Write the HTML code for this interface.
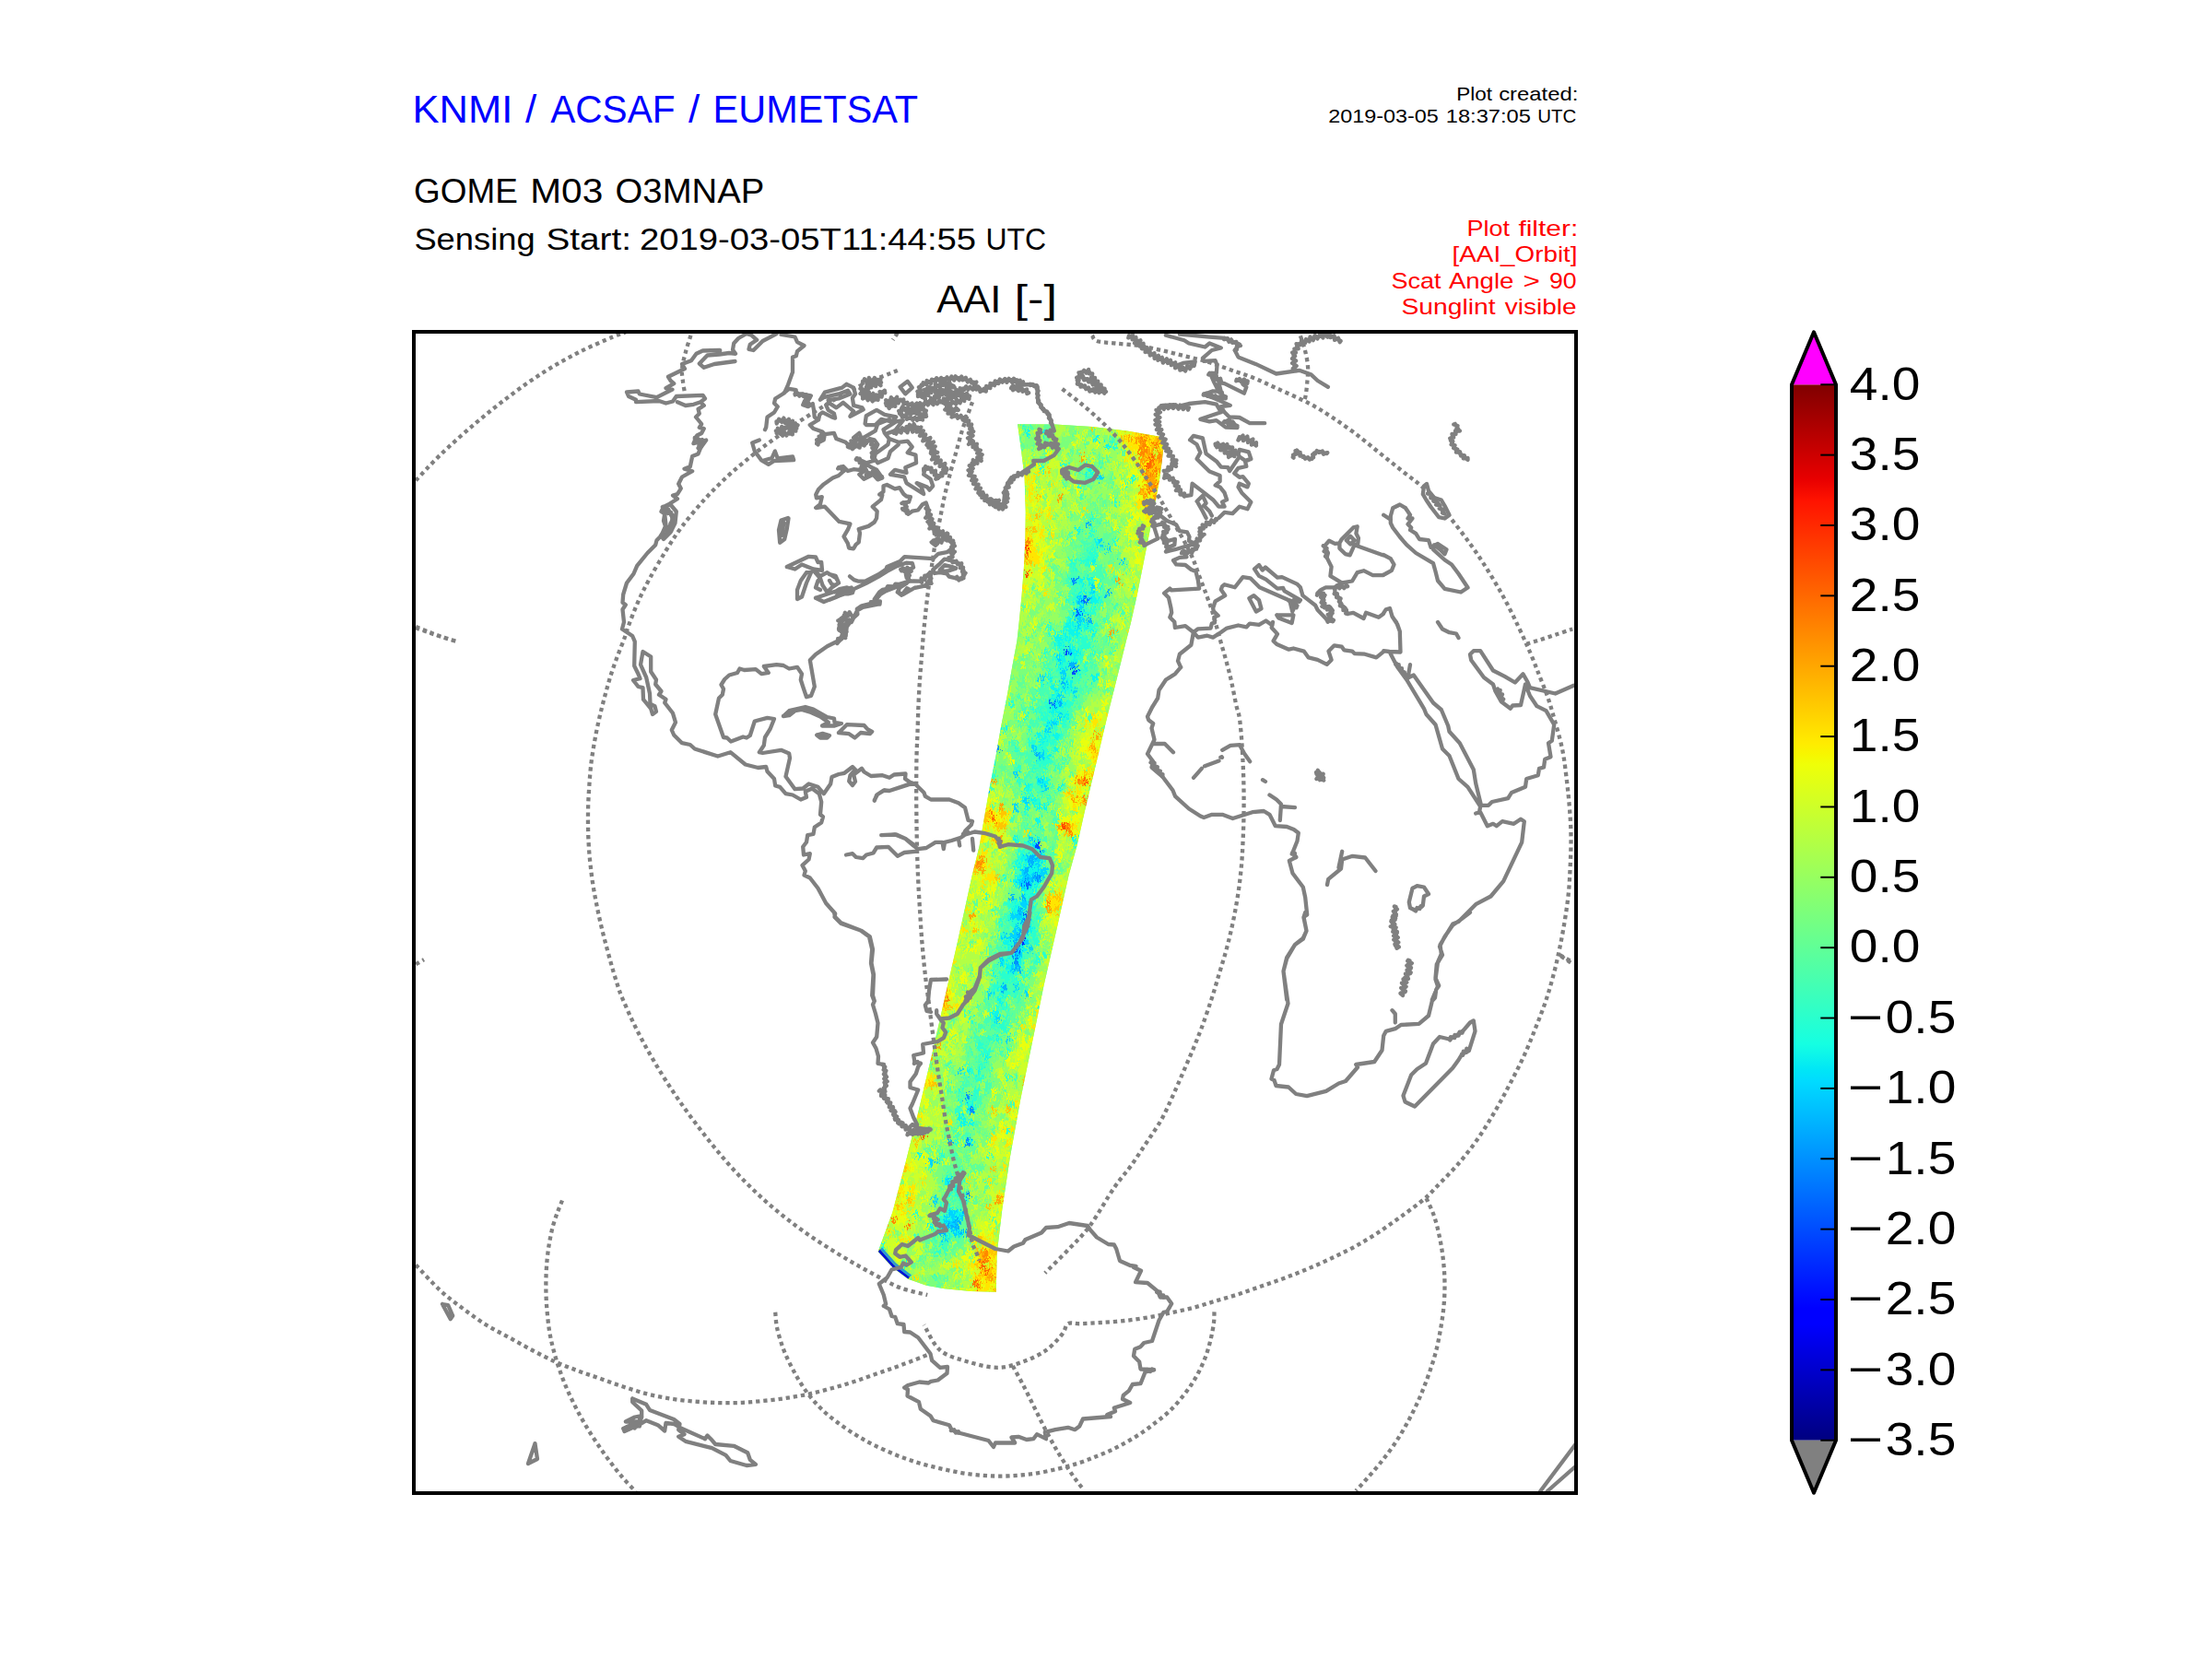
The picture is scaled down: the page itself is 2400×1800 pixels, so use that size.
<!DOCTYPE html>
<html lang="en"><head><meta charset="utf-8"><title>GOME M03 O3MNAP AAI</title>
<style>html,body{margin:0;padding:0;background:#fff;}body{width:2400px;height:1800px;overflow:hidden;}svg{display:block;font-family:"Liberation Sans", sans-serif;}</style></head><body>
<svg width="2400" height="1800" viewBox="0 0 2400 1800">
<rect width="2400" height="1800" fill="#fff"/>
<defs><linearGradient id="jet" x1="0" y1="0" x2="0" y2="1"><stop offset="0.0000" stop-color="#800000"/><stop offset="0.0900" stop-color="#e80000"/><stop offset="0.1100" stop-color="#ff1300"/><stop offset="0.3400" stop-color="#ffec00"/><stop offset="0.3500" stop-color="#f7f600"/><stop offset="0.3600" stop-color="#efff08"/><stop offset="0.6250" stop-color="#15ffe2"/><stop offset="0.6500" stop-color="#00e5f7"/><stop offset="0.6600" stop-color="#00dbff"/><stop offset="0.8750" stop-color="#0000ff"/><stop offset="0.8900" stop-color="#0000ff"/><stop offset="1.0000" stop-color="#000080"/></linearGradient>
<clipPath id="mapclip"><rect x="449" y="360" width="1261" height="1260"/></clipPath>
<clipPath id="swclip"><path d="M1104.1 460.2L1145.0 460.6L1185.0 463.0L1222.5 467.5L1260.0 474.1L1262.6 484.6L1260.8 499.7L1258.5 517.8L1255.5 534.4L1251.7 555.5L1245.7 585.6L1239.7 615.7L1233.7 645.8L1226.9 676.0L1222.0 695.0L1217.2 714.4L1209.1 747.0L1200.9 779.5L1192.8 813.7L1184.6 847.9L1176.5 882.1L1168.4 917.9L1159.5 950.0L1146.8 1006.7L1132.6 1069.0L1119.9 1131.3L1107.1 1193.6L1095.8 1255.9L1087.3 1312.6L1081.6 1360.8L1080.8 1401.8L1053.3 1401.0L1025.0 1398.2L1005.2 1394.8L985.3 1387.7L968.3 1374.9L952.7 1357.9L968.3 1315.4L982.5 1261.6L996.7 1205.0L1010.8 1145.5L1025.0 1083.1L1039.2 1020.8L1054.7 950.0L1062.6 917.9L1068.3 885.3L1074.0 852.8L1080.5 820.2L1086.2 787.7L1092.7 755.1L1098.4 722.6L1103.5 695.0L1105.6 676.0L1108.6 645.8L1110.9 615.7L1112.4 585.6L1112.8 555.5L1111.6 517.8L1107.9 487.7L1104.1 460.2Z"/></clipPath><filter id="grain" x="900" y="430" width="420" height="1010" filterUnits="userSpaceOnUse" color-interpolation-filters="sRGB"><feTurbulence type="fractalNoise" baseFrequency="0.5 0.24" numOctaves="2" seed="7" result="n"/><feDisplacementMap in="SourceGraphic" in2="n" scale="15" xChannelSelector="R" yChannelSelector="G"/></filter>
</defs>
<g clip-path="url(#mapclip)">
<path d="M1104.1 460.2L1145.0 460.6L1185.0 463.0L1222.5 467.5L1260.0 474.1L1262.6 484.6L1260.8 499.7L1258.5 517.8L1255.5 534.4L1251.7 555.5L1245.7 585.6L1239.7 615.7L1233.7 645.8L1226.9 676.0L1222.0 695.0L1217.2 714.4L1209.1 747.0L1200.9 779.5L1192.8 813.7L1184.6 847.9L1176.5 882.1L1168.4 917.9L1159.5 950.0L1146.8 1006.7L1132.6 1069.0L1119.9 1131.3L1107.1 1193.6L1095.8 1255.9L1087.3 1312.6L1081.6 1360.8L1080.8 1401.8L1053.3 1401.0L1025.0 1398.2L1005.2 1394.8L985.3 1387.7L968.3 1374.9L952.7 1357.9L968.3 1315.4L982.5 1261.6L996.7 1205.0L1010.8 1145.5L1025.0 1083.1L1039.2 1020.8L1054.7 950.0L1062.6 917.9L1068.3 885.3L1074.0 852.8L1080.5 820.2L1086.2 787.7L1092.7 755.1L1098.4 722.6L1103.5 695.0L1105.6 676.0L1108.6 645.8L1110.9 615.7L1112.4 585.6L1112.8 555.5L1111.6 517.8L1107.9 487.7L1104.1 460.2Z" fill="#8aff6c"/>
<g clip-path="url(#swclip)"><g filter="url(#grain)" shape-rendering="crispEdges">
<path fill="#002aff" d="M1108 1019h4v7h-4z"/>
<path fill="#004dff" d="M1156 704h4v7h-4zM1164 725h4v7h-4zM1124 914h4v7h-4zM1100 1026h4v7h-4z"/>
<path fill="#006eff" d="M1176 648h4v7h-4zM1168 662h4v7h-4zM1140 760h4v7h-4zM1112 956h4v7h-4zM1112 991h4v7h-4z"/>
<path fill="#0090ff" d="M1164 627h4v7h-4zM1080 809h4v7h-4zM1124 949h4v7h-4zM1100 1033h4v7h-4zM1100 1040h4v7h-4zM1048 1187h4v7h-4zM1052 1201h4v7h-4zM1048 1236h4v7h-4zM1048 1292h4v7h-4z"/>
<path fill="#00b2ff" d="M1180 564h4v7h-4zM1200 641h4v7h-4zM1172 648h4v7h-4zM1180 669h4v7h-4zM1160 718h8v7h-8zM1152 739h4v7h-4zM1148 760h4v7h-4zM1124 816h4v7h-4zM1068 851h4v7h-4zM1128 921h4v7h-4zM1116 928h8v7h-8zM1116 935h4v7h-4zM1112 942h4v7h-4zM1112 949h4v7h-4zM1120 949h4v7h-4zM1096 970h4v7h-4zM1108 970h4v7h-4zM1104 984h4v7h-4zM1108 998h8v7h-8zM1108 1005h8v7h-8zM1104 1012h4v7h-4zM1100 1019h4v7h-4zM1104 1026h4v7h-4zM1100 1047h8v7h-8zM1088 1068h4v7h-4zM1028 1236h4v7h-4zM1044 1313h4v7h-4zM1036 1320h4v7h-4zM1028 1327h4v7h-4zM1036 1327h4v7h-4zM1020 1334h4v7h-4zM1044 1334h4v7h-4z"/>
<path fill="#00d4ff" d="M1192 515h4v7h-4zM1192 585h4v7h-4zM1200 592h4v7h-4zM1216 606h4v7h-4zM1184 634h4v7h-4zM1168 648h4v7h-4zM1180 648h4v7h-4zM1172 655h4v7h-4zM1164 662h4v7h-4zM1168 669h8v7h-8zM1168 676h4v7h-4zM1160 704h4v7h-4zM1148 711h4v7h-4zM1152 725h4v7h-4zM1128 732h4v7h-4zM1152 732h4v7h-4zM1080 746h4v7h-4zM1164 746h4v7h-4zM1148 753h4v7h-4zM1148 774h4v7h-4zM1140 781h4v7h-4zM1136 788h4v7h-4zM1120 809h4v7h-4zM1128 816h4v7h-4zM1100 837h4v7h-4zM1128 844h4v7h-4zM1132 851h4v7h-4zM1112 865h4v7h-4zM1100 872h4v7h-4zM1116 907h4v7h-4zM1120 914h4v7h-4zM1112 928h4v7h-4zM1124 928h4v7h-4zM1124 935h4v7h-4zM1108 942h4v7h-4zM1128 942h8v7h-8zM1108 949h4v7h-4zM1116 949h4v7h-4zM1128 949h4v7h-4zM1104 956h8v7h-8zM1116 956h4v7h-4zM1108 977h8v7h-8zM1108 984h4v7h-4zM1096 991h12v7h-12zM1100 1005h4v7h-4zM1088 1012h4v7h-4zM1096 1012h8v7h-8zM1108 1012h4v7h-4zM1112 1019h4v7h-4zM1116 1026h4v7h-4zM1104 1033h4v7h-4zM1084 1040h4v7h-4zM1096 1047h4v7h-4zM1100 1068h4v7h-4zM1072 1075h4v7h-4zM1112 1075h4v7h-4zM1080 1103h4v7h-4zM1092 1124h4v7h-4zM1040 1159h4v7h-4zM1008 1257h4v7h-4zM1016 1257h4v7h-4zM1028 1278h4v7h-4zM1012 1299h4v7h-4zM1028 1313h8v7h-8zM1024 1320h4v7h-4zM1032 1320h4v7h-4zM1040 1320h4v7h-4zM1032 1327h4v7h-4zM1036 1334h4v7h-4zM1024 1341h4v7h-4z"/>
<path fill="#0ef6e9" d="M1136 445h4v7h-4zM1092 452h4v7h-4zM1112 466h4v7h-4zM1132 466h4v7h-4zM1188 473h4v7h-4zM1200 480h4v7h-4zM1180 508h4v7h-4zM1168 571h4v7h-4zM1188 585h4v7h-4zM1184 606h4v7h-4zM1172 627h4v7h-4zM1180 627h4v7h-4zM1172 641h4v7h-4zM1184 641h4v7h-4zM1184 648h8v7h-8zM1172 662h4v7h-4zM1160 669h4v7h-4zM1156 676h8v7h-8zM1176 676h4v7h-4zM1152 683h4v7h-4zM1160 683h12v7h-12zM1184 683h4v7h-4zM1144 690h8v7h-8zM1156 690h4v7h-4zM1148 697h4v7h-4zM1160 697h4v7h-4zM1088 704h4v7h-4zM1164 704h8v7h-8zM1152 711h4v7h-4zM1164 711h4v7h-4zM1148 718h4v7h-4zM1168 725h4v7h-4zM1136 732h4v7h-4zM1184 732h8v7h-8zM1140 739h4v7h-4zM1156 739h8v7h-8zM1144 746h4v7h-4zM1152 746h4v7h-4zM1140 753h4v7h-4zM1144 760h4v7h-4zM1152 760h4v7h-4zM1140 767h8v7h-8zM1156 774h4v7h-4zM1136 781h4v7h-4zM1144 781h4v7h-4zM1088 788h4v7h-4zM1124 795h4v7h-4zM1132 795h4v7h-4zM1144 795h4v7h-4zM1128 802h4v7h-4zM1144 809h4v7h-4zM1136 816h4v7h-4zM1076 823h4v7h-4zM1124 844h4v7h-4zM1132 844h4v7h-4zM1112 851h4v7h-4zM1148 851h4v7h-4zM1108 865h4v7h-4zM1120 865h4v7h-4zM1112 872h4v7h-4zM1124 872h4v7h-4zM1132 872h4v7h-4zM1124 886h4v7h-4zM1100 907h4v7h-4zM1124 907h4v7h-4zM1164 907h4v7h-4zM1120 921h4v7h-4zM1108 928h4v7h-4zM1128 928h8v7h-8zM1104 935h4v7h-4zM1112 935h4v7h-4zM1120 935h4v7h-4zM1048 942h4v7h-4zM1116 942h12v7h-12zM1100 949h8v7h-8zM1100 956h4v7h-4zM1124 956h4v7h-4zM1108 963h8v7h-8zM1120 963h4v7h-4zM1100 977h4v7h-4zM1116 977h4v7h-4zM1100 984h4v7h-4zM1108 991h4v7h-4zM1116 1005h4v7h-4zM1088 1019h8v7h-8zM1096 1026h4v7h-4zM1108 1026h4v7h-4zM1096 1033h4v7h-4zM1088 1040h4v7h-4zM1104 1040h4v7h-4zM1092 1047h4v7h-4zM1076 1054h4v7h-4zM1084 1068h4v7h-4zM1084 1082h4v7h-4zM1128 1089h4v7h-4zM1076 1096h8v7h-8zM1080 1124h4v7h-4zM1068 1145h4v7h-4zM1048 1159h4v7h-4zM1060 1159h4v7h-4zM1052 1194h4v7h-4zM1048 1201h4v7h-4zM1040 1208h4v7h-4zM1044 1215h4v7h-4zM1052 1215h4v7h-4zM1052 1236h4v7h-4zM996 1250h4v7h-4zM1024 1278h4v7h-4zM1036 1285h4v7h-4zM1036 1313h8v7h-8zM1028 1320h4v7h-4zM1008 1327h4v7h-4zM1024 1327h4v7h-4zM1024 1334h4v7h-4zM1040 1334h4v7h-4zM980 1369h4v7h-4zM988 1397h4v7h-4z"/>
<path fill="#29ffce" d="M1208 480h4v7h-4zM1128 501h4v7h-4zM1152 501h4v7h-4zM1176 501h4v7h-4zM1184 515h4v7h-4zM1228 515h4v7h-4zM1168 522h4v7h-4zM1220 522h4v7h-4zM1208 543h4v7h-4zM1184 557h4v7h-4zM1184 571h4v7h-4zM1180 578h4v7h-4zM1208 585h4v7h-4zM1184 592h4v7h-4zM1180 599h12v7h-12zM1160 606h8v7h-8zM1172 606h12v7h-12zM1164 613h4v7h-4zM1160 627h4v7h-4zM1168 627h4v7h-4zM1184 627h4v7h-4zM1172 634h4v7h-4zM1192 634h4v7h-4zM1164 641h4v7h-4zM1156 648h4v7h-4zM1164 648h4v7h-4zM1192 648h4v7h-4zM1168 655h4v7h-4zM1184 655h4v7h-4zM1180 662h8v7h-8zM1156 669h4v7h-4zM1136 676h4v7h-4zM1164 676h4v7h-4zM1172 676h4v7h-4zM1180 676h12v7h-12zM1136 683h4v7h-4zM1144 683h4v7h-4zM1152 690h4v7h-4zM1160 690h4v7h-4zM1168 690h12v7h-12zM1184 690h4v7h-4zM1144 697h4v7h-4zM1152 697h4v7h-4zM1172 697h12v7h-12zM1132 704h4v7h-4zM1148 704h8v7h-8zM1184 704h4v7h-4zM1144 711h4v7h-4zM1160 711h4v7h-4zM1168 711h8v7h-8zM1152 718h8v7h-8zM1176 718h4v7h-4zM1136 725h4v7h-4zM1148 725h4v7h-4zM1176 725h4v7h-4zM1156 732h4v7h-4zM1168 732h4v7h-4zM1128 739h4v7h-4zM1148 739h4v7h-4zM1156 746h8v7h-8zM1144 753h4v7h-4zM1164 753h4v7h-4zM1096 760h4v7h-4zM1132 760h8v7h-8zM1156 760h8v7h-8zM1120 767h4v7h-4zM1128 767h4v7h-4zM1136 767h4v7h-4zM1148 767h8v7h-8zM1112 774h4v7h-4zM1128 774h8v7h-8zM1140 774h4v7h-4zM1152 774h4v7h-4zM1132 781h4v7h-4zM1152 781h4v7h-4zM1116 788h4v7h-4zM1132 788h4v7h-4zM1144 788h4v7h-4zM1136 795h4v7h-4zM1148 795h4v7h-4zM1116 802h8v7h-8zM1132 802h12v7h-12zM1100 809h4v7h-4zM1124 809h12v7h-12zM1132 816h4v7h-4zM1124 823h16v7h-16zM1104 830h4v7h-4zM1120 830h4v7h-4zM1132 830h4v7h-4zM1144 830h4v7h-4zM1076 837h4v7h-4zM1104 844h4v7h-4zM1136 844h4v7h-4zM1116 851h4v7h-4zM1128 851h4v7h-4zM1116 858h4v7h-4zM1124 865h4v7h-4zM1136 865h4v7h-4zM1112 879h4v7h-4zM1128 893h4v7h-4zM1112 914h8v7h-8zM1104 921h8v7h-8zM1116 921h4v7h-4zM1104 928h4v7h-4zM1100 935h4v7h-4zM1128 935h4v7h-4zM1088 949h4v7h-4zM1120 956h4v7h-4zM1116 963h4v7h-4zM1112 970h12v7h-12zM1092 977h8v7h-8zM1104 977h4v7h-4zM1120 977h4v7h-4zM1096 984h4v7h-4zM1116 984h4v7h-4zM1092 991h4v7h-4zM1124 991h4v7h-4zM1028 998h4v7h-4zM1084 998h4v7h-4zM1096 998h12v7h-12zM1116 998h4v7h-4zM1104 1005h4v7h-4zM1120 1005h4v7h-4zM1084 1012h4v7h-4zM1112 1012h4v7h-4zM1120 1012h4v7h-4zM1096 1019h4v7h-4zM1104 1019h4v7h-4zM1120 1019h8v7h-8zM1092 1026h4v7h-4zM1092 1033h4v7h-4zM1108 1033h4v7h-4zM1124 1033h4v7h-4zM1132 1033h4v7h-4zM1096 1040h4v7h-4zM1124 1040h4v7h-4zM1084 1054h20v7h-20zM1108 1054h8v7h-8zM1088 1061h8v7h-8zM1100 1061h8v7h-8zM1076 1068h8v7h-8zM1076 1075h4v7h-4zM1084 1075h12v7h-12zM1100 1075h4v7h-4zM1080 1089h4v7h-4zM1088 1089h4v7h-4zM1052 1103h4v7h-4zM1076 1103h4v7h-4zM1088 1103h4v7h-4zM1076 1110h4v7h-4zM1084 1110h8v7h-8zM1088 1117h4v7h-4zM1072 1124h4v7h-4zM1060 1131h8v7h-8zM1064 1138h12v7h-12zM1092 1138h4v7h-4zM1064 1152h4v7h-4zM1052 1159h4v7h-4zM1060 1166h8v7h-8zM1092 1166h4v7h-4zM1124 1166h4v7h-4zM1040 1180h4v7h-4zM1056 1180h8v7h-8zM1056 1187h4v7h-4zM1040 1194h4v7h-4zM1048 1194h4v7h-4zM1036 1201h4v7h-4zM1056 1201h4v7h-4zM1092 1222h4v7h-4zM1036 1236h4v7h-4zM1020 1250h4v7h-4zM1072 1250h4v7h-4zM1040 1278h4v7h-4zM1028 1292h4v7h-4zM1036 1292h4v7h-4zM1044 1299h4v7h-4zM1020 1306h4v7h-4zM1028 1306h4v7h-4zM992 1313h4v7h-4zM1016 1320h8v7h-8zM1016 1327h8v7h-8zM1032 1334h4v7h-4zM956 1348h4v7h-4zM1020 1348h4v7h-4zM1016 1355h4v7h-4zM1004 1404h4v7h-4z"/>
<path fill="#45ffb2" d="M1176 445h4v7h-4zM1268 445h4v7h-4zM1092 459h4v7h-4zM1108 459h4v7h-4zM1116 459h4v7h-4zM1204 473h4v7h-4zM1096 487h4v7h-4zM1156 501h4v7h-4zM1192 501h4v7h-4zM1128 508h4v7h-4zM1168 508h4v7h-4zM1176 515h8v7h-8zM1188 515h4v7h-4zM1152 522h4v7h-4zM1172 536h4v7h-4zM1192 564h4v7h-4zM1160 578h4v7h-4zM1172 585h8v7h-8zM1184 585h4v7h-4zM1176 592h8v7h-8zM1192 592h4v7h-4zM1176 599h4v7h-4zM1160 613h4v7h-4zM1188 613h8v7h-8zM1160 620h12v7h-12zM1176 620h4v7h-4zM1184 620h16v7h-16zM1156 627h4v7h-4zM1192 627h4v7h-4zM1208 627h4v7h-4zM1160 634h12v7h-12zM1176 634h8v7h-8zM1228 634h4v7h-4zM1160 641h4v7h-4zM1168 641h4v7h-4zM1180 641h4v7h-4zM1188 641h4v7h-4zM1196 641h4v7h-4zM1160 648h4v7h-4zM1176 655h4v7h-4zM1192 655h4v7h-4zM1208 655h4v7h-4zM1160 662h4v7h-4zM1176 662h4v7h-4zM1216 662h4v7h-4zM1196 669h4v7h-4zM1152 676h4v7h-4zM1156 683h4v7h-4zM1176 683h4v7h-4zM1112 690h4v7h-4zM1200 690h4v7h-4zM1140 697h4v7h-4zM1156 697h4v7h-4zM1168 697h4v7h-4zM1136 704h4v7h-4zM1172 704h4v7h-4zM1192 704h4v7h-4zM1204 704h4v7h-4zM1140 711h4v7h-4zM1156 711h4v7h-4zM1180 711h4v7h-4zM1132 718h8v7h-8zM1184 718h4v7h-4zM1144 725h4v7h-4zM1156 725h8v7h-8zM1172 725h4v7h-4zM1140 732h4v7h-4zM1148 732h4v7h-4zM1160 732h8v7h-8zM1080 739h4v7h-4zM1136 739h4v7h-4zM1164 739h4v7h-4zM1176 739h4v7h-4zM1124 746h16v7h-16zM1148 746h4v7h-4zM1168 746h8v7h-8zM1180 746h4v7h-4zM1080 753h4v7h-4zM1104 753h4v7h-4zM1120 753h4v7h-4zM1128 753h4v7h-4zM1136 753h4v7h-4zM1156 753h4v7h-4zM1088 760h4v7h-4zM1116 760h4v7h-4zM1128 760h4v7h-4zM1168 760h4v7h-4zM1108 767h4v7h-4zM1124 767h4v7h-4zM1132 767h4v7h-4zM1156 767h8v7h-8zM1136 774h4v7h-4zM1144 774h4v7h-4zM1160 774h4v7h-4zM1180 774h4v7h-4zM1104 781h4v7h-4zM1116 781h12v7h-12zM1156 781h4v7h-4zM1076 788h4v7h-4zM1140 788h4v7h-4zM1156 788h4v7h-4zM1128 795h4v7h-4zM1140 795h4v7h-4zM1152 795h4v7h-4zM1096 802h8v7h-8zM1144 802h4v7h-4zM1140 809h4v7h-4zM1104 816h4v7h-4zM1112 816h12v7h-12zM1112 823h8v7h-8zM1140 823h4v7h-4zM1152 823h4v7h-4zM1100 830h4v7h-4zM1116 830h4v7h-4zM1124 830h8v7h-8zM1148 830h4v7h-4zM1112 837h8v7h-8zM1124 837h8v7h-8zM1108 844h4v7h-4zM1072 851h4v7h-4zM1120 851h8v7h-8zM1140 851h4v7h-4zM1128 858h8v7h-8zM1140 879h4v7h-4zM1096 886h4v7h-4zM1144 886h4v7h-4zM1112 893h4v7h-4zM1120 893h4v7h-4zM1116 900h4v7h-4zM1104 907h4v7h-4zM1132 907h4v7h-4zM1164 914h4v7h-4zM1112 921h4v7h-4zM1124 921h4v7h-4zM1132 921h4v7h-4zM1140 921h4v7h-4zM1108 935h4v7h-4zM1100 942h8v7h-8zM1136 942h4v7h-4zM1136 949h4v7h-4zM1128 956h4v7h-4zM1068 970h4v7h-4zM1088 977h4v7h-4zM1076 984h4v7h-4zM1112 984h4v7h-4zM1120 984h4v7h-4zM1088 991h4v7h-4zM1120 991h4v7h-4zM1092 998h4v7h-4zM1120 998h8v7h-8zM1088 1005h8v7h-8zM1092 1012h4v7h-4zM1124 1012h4v7h-4zM1116 1019h4v7h-4zM1072 1026h4v7h-4zM1080 1026h12v7h-12zM1084 1033h8v7h-8zM1112 1033h8v7h-8zM1092 1040h4v7h-4zM1108 1040h4v7h-4zM1120 1040h4v7h-4zM1076 1047h8v7h-8zM1088 1047h4v7h-4zM1108 1047h4v7h-4zM1116 1047h8v7h-8zM1080 1061h8v7h-8zM1096 1061h4v7h-4zM1072 1068h4v7h-4zM1092 1068h8v7h-8zM1104 1068h12v7h-12zM1096 1075h4v7h-4zM1104 1075h4v7h-4zM1068 1082h4v7h-4zM1080 1082h4v7h-4zM1088 1082h4v7h-4zM1104 1082h4v7h-4zM1060 1089h4v7h-4zM1072 1089h4v7h-4zM1084 1089h4v7h-4zM1092 1089h4v7h-4zM1048 1096h4v7h-4zM1092 1096h4v7h-4zM1068 1103h8v7h-8zM1092 1103h4v7h-4zM1060 1110h8v7h-8zM1080 1110h4v7h-4zM1092 1110h4v7h-4zM1024 1117h4v7h-4zM1056 1117h4v7h-4zM1080 1117h4v7h-4zM1056 1124h16v7h-16zM1076 1124h4v7h-4zM1084 1124h4v7h-4zM1068 1131h4v7h-4zM1052 1138h4v7h-4zM1084 1138h4v7h-4zM1060 1145h4v7h-4zM1028 1152h4v7h-4zM1048 1152h4v7h-4zM1060 1152h4v7h-4zM1068 1152h4v7h-4zM1072 1159h4v7h-4zM1044 1166h4v7h-4zM1056 1166h4v7h-4zM1100 1166h4v7h-4zM1028 1173h4v7h-4zM1044 1173h8v7h-8zM1068 1173h8v7h-8zM1028 1180h4v7h-4zM1068 1180h4v7h-4zM1044 1187h4v7h-4zM1052 1187h4v7h-4zM1060 1187h4v7h-4zM1060 1194h4v7h-4zM1096 1194h4v7h-4zM1040 1201h4v7h-4zM1040 1215h4v7h-4zM1056 1215h4v7h-4zM1036 1222h4v7h-4zM1036 1229h4v7h-4zM1044 1229h8v7h-8zM1032 1250h8v7h-8zM1008 1264h4v7h-4zM1040 1264h4v7h-4zM1028 1271h4v7h-4zM1036 1271h4v7h-4zM1044 1271h4v7h-4zM1032 1285h4v7h-4zM1040 1292h8v7h-8zM1024 1299h4v7h-4zM1032 1299h4v7h-4zM1040 1299h4v7h-4zM1048 1299h4v7h-4zM1024 1306h4v7h-4zM1040 1306h4v7h-4zM1012 1313h4v7h-4zM1020 1313h8v7h-8zM1012 1334h8v7h-8zM1028 1334h4v7h-4zM992 1341h4v7h-4zM1012 1341h4v7h-4zM1028 1341h4v7h-4zM1036 1341h4v7h-4zM1052 1341h4v7h-4zM1024 1348h4v7h-4zM1012 1355h4v7h-4zM1024 1355h4v7h-4zM1012 1383h4v7h-4zM1020 1404h4v7h-4zM1024 1418h4v7h-4z"/>
<path fill="#60ff97" d="M1116 445h4v7h-4zM1140 445h4v7h-4zM1164 445h4v7h-4zM1132 452h4v7h-4zM1164 452h8v7h-8zM1132 459h8v7h-8zM1100 466h4v7h-4zM1136 466h4v7h-4zM1164 466h4v7h-4zM1184 466h4v7h-4zM1260 466h4v7h-4zM1104 473h4v7h-4zM1132 473h8v7h-8zM1108 480h4v7h-4zM1120 480h4v7h-4zM1176 480h4v7h-4zM1104 487h4v7h-4zM1132 487h4v7h-4zM1160 487h4v7h-4zM1168 487h4v7h-4zM1184 487h4v7h-4zM1216 487h4v7h-4zM1104 494h4v7h-4zM1128 494h8v7h-8zM1192 494h4v7h-4zM1200 494h4v7h-4zM1184 501h4v7h-4zM1104 508h4v7h-4zM1176 508h4v7h-4zM1188 508h4v7h-4zM1204 515h4v7h-4zM1172 522h12v7h-12zM1204 522h4v7h-4zM1172 529h4v7h-4zM1192 536h4v7h-4zM1208 536h4v7h-4zM1184 543h4v7h-4zM1196 543h4v7h-4zM1188 550h4v7h-4zM1160 557h4v7h-4zM1176 557h8v7h-8zM1192 557h4v7h-4zM1176 564h4v7h-4zM1188 564h4v7h-4zM1200 564h4v7h-4zM1172 571h4v7h-4zM1204 571h4v7h-4zM1212 571h4v7h-4zM1168 578h8v7h-8zM1184 578h8v7h-8zM1196 578h12v7h-12zM1160 585h8v7h-8zM1180 585h4v7h-4zM1196 585h4v7h-4zM1204 585h4v7h-4zM1164 592h4v7h-4zM1172 592h4v7h-4zM1188 592h4v7h-4zM1196 592h4v7h-4zM1168 599h8v7h-8zM1204 599h4v7h-4zM1212 599h4v7h-4zM1168 606h4v7h-4zM1188 606h4v7h-4zM1204 606h4v7h-4zM1140 613h8v7h-8zM1168 613h4v7h-4zM1176 613h8v7h-8zM1196 613h4v7h-4zM1220 613h4v7h-4zM1148 620h4v7h-4zM1156 620h4v7h-4zM1172 620h4v7h-4zM1180 620h4v7h-4zM1144 627h4v7h-4zM1152 627h4v7h-4zM1176 627h4v7h-4zM1196 627h12v7h-12zM1120 634h4v7h-4zM1196 634h4v7h-4zM1148 641h4v7h-4zM1176 641h4v7h-4zM1192 641h4v7h-4zM1196 648h8v7h-8zM1108 655h4v7h-4zM1152 655h8v7h-8zM1164 655h4v7h-4zM1180 655h4v7h-4zM1188 655h4v7h-4zM1188 662h4v7h-4zM1200 662h4v7h-4zM1096 669h4v7h-4zM1164 669h4v7h-4zM1176 669h4v7h-4zM1188 669h4v7h-4zM1200 669h4v7h-4zM1128 676h4v7h-4zM1140 676h4v7h-4zM1192 676h4v7h-4zM1120 683h4v7h-4zM1172 683h4v7h-4zM1188 683h4v7h-4zM1208 683h4v7h-4zM1092 690h4v7h-4zM1164 690h4v7h-4zM1180 690h4v7h-4zM1196 690h4v7h-4zM1096 697h4v7h-4zM1136 697h4v7h-4zM1164 697h4v7h-4zM1184 697h8v7h-8zM1196 697h4v7h-4zM1208 697h4v7h-4zM1116 704h4v7h-4zM1188 704h4v7h-4zM1108 711h4v7h-4zM1128 711h4v7h-4zM1136 711h4v7h-4zM1184 711h4v7h-4zM1192 711h4v7h-4zM1120 718h4v7h-4zM1140 718h8v7h-8zM1172 718h4v7h-4zM1180 718h4v7h-4zM1188 718h4v7h-4zM1140 725h4v7h-4zM1180 725h12v7h-12zM1196 725h4v7h-4zM1088 732h4v7h-4zM1096 732h4v7h-4zM1108 732h4v7h-4zM1124 732h4v7h-4zM1144 732h4v7h-4zM1172 732h12v7h-12zM1084 739h4v7h-4zM1104 739h8v7h-8zM1132 739h4v7h-4zM1168 739h8v7h-8zM1184 739h8v7h-8zM1116 746h8v7h-8zM1176 746h4v7h-4zM1196 746h8v7h-8zM1096 753h4v7h-4zM1132 753h4v7h-4zM1152 753h4v7h-4zM1160 753h4v7h-4zM1168 753h8v7h-8zM1208 753h4v7h-4zM1108 760h4v7h-4zM1124 760h4v7h-4zM1164 760h4v7h-4zM1172 760h4v7h-4zM1116 767h4v7h-4zM1164 767h4v7h-4zM1100 774h4v7h-4zM1124 774h4v7h-4zM1092 781h4v7h-4zM1108 781h4v7h-4zM1128 781h4v7h-4zM1160 781h8v7h-8zM1084 788h4v7h-4zM1124 788h4v7h-4zM1148 788h8v7h-8zM1080 795h4v7h-4zM1116 795h8v7h-8zM1156 795h4v7h-4zM1112 802h4v7h-4zM1124 802h4v7h-4zM1152 802h4v7h-4zM1160 802h4v7h-4zM1068 809h4v7h-4zM1092 809h8v7h-8zM1104 809h4v7h-4zM1112 809h8v7h-8zM1136 809h4v7h-4zM1148 809h4v7h-4zM1156 809h4v7h-4zM1072 816h4v7h-4zM1096 816h8v7h-8zM1108 816h4v7h-4zM1140 816h4v7h-4zM1156 816h4v7h-4zM1100 823h8v7h-8zM1120 823h4v7h-4zM1144 823h4v7h-4zM1156 823h4v7h-4zM1068 830h4v7h-4zM1084 830h8v7h-8zM1136 830h4v7h-4zM1072 837h4v7h-4zM1092 837h4v7h-4zM1120 837h4v7h-4zM1136 837h4v7h-4zM1160 837h4v7h-4zM1064 844h4v7h-4zM1092 844h4v7h-4zM1100 844h4v7h-4zM1112 844h12v7h-12zM1152 844h4v7h-4zM1060 851h4v7h-4zM1096 851h4v7h-4zM1104 851h4v7h-4zM1152 851h4v7h-4zM1192 851h4v7h-4zM1100 858h4v7h-4zM1108 858h8v7h-8zM1124 858h4v7h-4zM1136 858h4v7h-4zM1144 858h4v7h-4zM1116 865h4v7h-4zM1140 865h4v7h-4zM1076 872h4v7h-4zM1104 872h4v7h-4zM1120 872h4v7h-4zM1108 879h4v7h-4zM1128 879h4v7h-4zM1144 879h4v7h-4zM1108 886h4v7h-4zM1116 886h4v7h-4zM1060 893h4v7h-4zM1108 893h4v7h-4zM1140 893h4v7h-4zM1104 900h4v7h-4zM1124 900h8v7h-8zM1144 900h4v7h-4zM1108 907h8v7h-8zM1120 907h4v7h-4zM1128 907h4v7h-4zM1144 907h4v7h-4zM1104 914h8v7h-8zM1140 914h4v7h-4zM1136 921h4v7h-4zM1100 928h4v7h-4zM1140 928h4v7h-4zM1096 935h4v7h-4zM1136 935h4v7h-4zM1148 935h4v7h-4zM1040 942h4v7h-4zM1148 942h4v7h-4zM1164 942h4v7h-4zM1132 949h4v7h-4zM1096 963h8v7h-8zM1124 963h4v7h-4zM1100 970h8v7h-8zM1128 970h4v7h-4zM1056 977h4v7h-4zM1080 984h8v7h-8zM1092 984h4v7h-4zM1124 984h8v7h-8zM1084 991h4v7h-4zM1128 991h4v7h-4zM1080 998h4v7h-4zM1088 998h4v7h-4zM1084 1005h4v7h-4zM1096 1005h4v7h-4zM1124 1005h4v7h-4zM1076 1012h4v7h-4zM1116 1012h4v7h-4zM1052 1019h4v7h-4zM1080 1019h8v7h-8zM1112 1026h4v7h-4zM1120 1026h4v7h-4zM1072 1033h8v7h-8zM1120 1033h4v7h-4zM1080 1040h4v7h-4zM1084 1047h4v7h-4zM1052 1054h4v7h-4zM1068 1054h8v7h-8zM1080 1054h4v7h-4zM1116 1054h4v7h-4zM1144 1061h4v7h-4zM1068 1075h4v7h-4zM1080 1075h4v7h-4zM1072 1082h8v7h-8zM1096 1082h8v7h-8zM1108 1082h4v7h-4zM1068 1089h4v7h-4zM1100 1089h12v7h-12zM1012 1096h4v7h-4zM1064 1096h4v7h-4zM1096 1096h8v7h-8zM1032 1103h4v7h-4zM1096 1103h8v7h-8zM1008 1110h4v7h-4zM1052 1110h4v7h-4zM1068 1110h8v7h-8zM1104 1110h4v7h-4zM1068 1117h12v7h-12zM1100 1117h4v7h-4zM1132 1117h4v7h-4zM1048 1124h4v7h-4zM1096 1124h4v7h-4zM1048 1131h4v7h-4zM1072 1131h4v7h-4zM1080 1131h4v7h-4zM1092 1131h4v7h-4zM1048 1138h4v7h-4zM1060 1138h4v7h-4zM1076 1138h4v7h-4zM1048 1145h4v7h-4zM1056 1145h4v7h-4zM1064 1145h4v7h-4zM1088 1145h4v7h-4zM1000 1152h4v7h-4zM1008 1152h4v7h-4zM1052 1152h8v7h-8zM1072 1152h4v7h-4zM1032 1159h4v7h-4zM1064 1159h8v7h-8zM1048 1166h8v7h-8zM1052 1173h8v7h-8zM1036 1180h4v7h-4zM1044 1180h4v7h-4zM1072 1180h4v7h-4zM1088 1180h4v7h-4zM1036 1187h8v7h-8zM1064 1187h4v7h-4zM1056 1194h4v7h-4zM1028 1201h4v7h-4zM1064 1201h4v7h-4zM1044 1208h8v7h-8zM1048 1215h4v7h-4zM1060 1215h4v7h-4zM1032 1222h4v7h-4zM1048 1222h4v7h-4zM1060 1222h4v7h-4zM1076 1222h4v7h-4zM1024 1229h4v7h-4zM1052 1229h4v7h-4zM1068 1229h4v7h-4zM1044 1236h4v7h-4zM1004 1243h8v7h-8zM1016 1243h4v7h-4zM1032 1243h4v7h-4zM1040 1243h4v7h-4zM1052 1243h8v7h-8zM1028 1250h4v7h-4zM1044 1250h8v7h-8zM1020 1257h4v7h-4zM1036 1257h8v7h-8zM1048 1257h4v7h-4zM1024 1264h16v7h-16zM1052 1264h16v7h-16zM1024 1271h4v7h-4zM1032 1278h8v7h-8zM1068 1278h4v7h-4zM960 1285h4v7h-4zM1020 1285h4v7h-4zM1048 1285h4v7h-4zM1068 1285h4v7h-4zM1024 1292h4v7h-4zM1032 1292h4v7h-4zM1016 1299h4v7h-4zM1036 1299h4v7h-4zM1056 1299h4v7h-4zM1036 1306h4v7h-4zM1044 1306h4v7h-4zM1044 1320h4v7h-4zM1076 1320h4v7h-4zM1040 1327h12v7h-12zM1004 1341h8v7h-8zM1020 1341h4v7h-4zM1032 1341h4v7h-4zM1040 1341h8v7h-8zM984 1348h4v7h-4zM1004 1348h4v7h-4zM1012 1348h4v7h-4zM1028 1348h4v7h-4zM1036 1348h8v7h-8zM1004 1355h8v7h-8zM1032 1355h4v7h-4zM1044 1355h4v7h-4zM996 1362h8v7h-8zM1024 1362h4v7h-4zM1088 1362h4v7h-4zM988 1369h4v7h-4zM1016 1383h4v7h-4zM1024 1383h4v7h-4zM968 1390h8v7h-8zM1004 1390h4v7h-4zM1016 1390h4v7h-4zM960 1397h4v7h-4zM972 1397h4v7h-4zM1016 1397h8v7h-8zM1016 1411h4v7h-4zM1000 1418h8v7h-8zM1056 1418h4v7h-4z"/>
<path fill="#7bff7b" d="M1092 445h4v7h-4zM1100 445h4v7h-4zM1120 445h4v7h-4zM1168 445h8v7h-8zM1184 445h4v7h-4zM1096 452h8v7h-8zM1116 452h4v7h-4zM1128 452h4v7h-4zM1136 452h8v7h-8zM1156 452h8v7h-8zM1176 452h8v7h-8zM1192 452h4v7h-4zM1212 452h4v7h-4zM1112 459h4v7h-4zM1120 459h8v7h-8zM1160 459h8v7h-8zM1200 459h4v7h-4zM1216 459h4v7h-4zM1108 466h4v7h-4zM1140 466h4v7h-4zM1160 466h4v7h-4zM1180 466h4v7h-4zM1092 473h4v7h-4zM1112 473h12v7h-12zM1152 473h12v7h-12zM1176 473h4v7h-4zM1184 473h4v7h-4zM1196 473h8v7h-8zM1208 473h4v7h-4zM1096 480h4v7h-4zM1104 480h4v7h-4zM1112 480h8v7h-8zM1128 480h4v7h-4zM1136 480h4v7h-4zM1148 480h12v7h-12zM1148 487h4v7h-4zM1120 494h4v7h-4zM1160 494h4v7h-4zM1180 494h4v7h-4zM1120 501h4v7h-4zM1172 501h4v7h-4zM1188 501h4v7h-4zM1196 501h4v7h-4zM1212 501h4v7h-4zM1160 508h4v7h-4zM1172 508h4v7h-4zM1184 508h4v7h-4zM1204 508h4v7h-4zM1152 515h4v7h-4zM1168 515h8v7h-8zM1196 515h8v7h-8zM1216 515h4v7h-4zM1124 522h4v7h-4zM1136 522h4v7h-4zM1156 522h4v7h-4zM1184 522h4v7h-4zM1192 522h4v7h-4zM1200 522h4v7h-4zM1100 529h4v7h-4zM1108 529h4v7h-4zM1160 529h4v7h-4zM1188 529h4v7h-4zM1208 529h8v7h-8zM1132 536h4v7h-4zM1180 536h4v7h-4zM1200 536h4v7h-4zM1220 536h4v7h-4zM1152 543h4v7h-4zM1168 543h4v7h-4zM1180 543h4v7h-4zM1192 543h4v7h-4zM1200 543h4v7h-4zM1172 550h4v7h-4zM1180 550h8v7h-8zM1192 550h4v7h-4zM1200 550h4v7h-4zM1144 557h4v7h-4zM1164 557h8v7h-8zM1196 557h4v7h-4zM1208 557h4v7h-4zM1224 557h4v7h-4zM1172 564h4v7h-4zM1184 564h4v7h-4zM1216 564h4v7h-4zM1136 571h4v7h-4zM1176 571h8v7h-8zM1188 571h12v7h-12zM1136 578h4v7h-4zM1148 578h8v7h-8zM1176 578h4v7h-4zM1192 578h4v7h-4zM1208 578h4v7h-4zM1152 585h4v7h-4zM1168 585h4v7h-4zM1200 585h4v7h-4zM1224 585h4v7h-4zM1232 585h4v7h-4zM1152 592h12v7h-12zM1168 592h4v7h-4zM1204 592h4v7h-4zM1212 592h4v7h-4zM1144 599h4v7h-4zM1156 599h8v7h-8zM1196 599h8v7h-8zM1208 599h4v7h-4zM1136 606h8v7h-8zM1156 606h4v7h-4zM1192 606h12v7h-12zM1208 606h8v7h-8zM1220 606h4v7h-4zM1172 613h4v7h-4zM1208 613h8v7h-8zM1132 620h4v7h-4zM1144 620h4v7h-4zM1152 620h4v7h-4zM1204 620h8v7h-8zM1136 627h4v7h-4zM1144 634h8v7h-8zM1204 634h8v7h-8zM1096 641h4v7h-4zM1124 641h4v7h-4zM1152 641h4v7h-4zM1204 641h4v7h-4zM1128 648h4v7h-4zM1144 648h4v7h-4zM1204 648h4v7h-4zM1212 648h4v7h-4zM1220 648h4v7h-4zM1228 648h4v7h-4zM1124 655h4v7h-4zM1148 655h4v7h-4zM1200 655h8v7h-8zM1212 655h4v7h-4zM1116 662h8v7h-8zM1136 662h4v7h-4zM1148 662h12v7h-12zM1192 662h4v7h-4zM1204 662h4v7h-4zM1224 662h4v7h-4zM1240 662h4v7h-4zM1132 669h4v7h-4zM1152 669h4v7h-4zM1184 669h4v7h-4zM1192 669h4v7h-4zM1220 669h4v7h-4zM1092 676h4v7h-4zM1112 676h4v7h-4zM1124 676h4v7h-4zM1144 676h8v7h-8zM1204 676h8v7h-8zM1104 683h4v7h-4zM1132 683h4v7h-4zM1148 683h4v7h-4zM1180 683h4v7h-4zM1200 683h4v7h-4zM1088 690h4v7h-4zM1096 690h8v7h-8zM1132 690h12v7h-12zM1188 690h8v7h-8zM1212 690h4v7h-4zM1088 697h4v7h-4zM1120 697h8v7h-8zM1192 697h4v7h-4zM1200 697h8v7h-8zM1144 704h4v7h-4zM1176 704h8v7h-8zM1200 704h4v7h-4zM1084 711h4v7h-4zM1104 711h4v7h-4zM1112 711h8v7h-8zM1088 718h4v7h-4zM1096 718h12v7h-12zM1112 718h4v7h-4zM1128 718h4v7h-4zM1168 718h4v7h-4zM1212 718h4v7h-4zM1104 725h16v7h-16zM1128 725h8v7h-8zM1204 725h4v7h-4zM1092 732h4v7h-4zM1104 732h4v7h-4zM1116 732h8v7h-8zM1132 732h4v7h-4zM1196 732h4v7h-4zM1208 732h4v7h-4zM1092 739h4v7h-4zM1112 739h4v7h-4zM1144 739h4v7h-4zM1180 739h4v7h-4zM1196 739h4v7h-4zM1084 746h4v7h-4zM1104 746h8v7h-8zM1140 746h4v7h-4zM1184 746h8v7h-8zM1204 746h4v7h-4zM1216 746h4v7h-4zM1084 753h4v7h-4zM1100 753h4v7h-4zM1116 753h4v7h-4zM1176 753h4v7h-4zM1104 760h4v7h-4zM1084 767h4v7h-4zM1100 767h8v7h-8zM1168 767h4v7h-4zM1116 774h8v7h-8zM1172 774h4v7h-4zM1204 774h4v7h-4zM1076 781h4v7h-4zM1084 781h4v7h-4zM1096 781h8v7h-8zM1112 781h4v7h-4zM1148 781h4v7h-4zM1080 788h4v7h-4zM1092 788h4v7h-4zM1104 788h4v7h-4zM1112 788h4v7h-4zM1120 788h4v7h-4zM1128 788h4v7h-4zM1172 788h4v7h-4zM1196 788h4v7h-4zM1092 795h4v7h-4zM1108 795h8v7h-8zM1076 802h4v7h-4zM1088 802h4v7h-4zM1108 802h4v7h-4zM1080 816h8v7h-8zM1148 816h4v7h-4zM1064 823h4v7h-4zM1080 823h12v7h-12zM1108 823h4v7h-4zM1148 823h4v7h-4zM1076 830h8v7h-8zM1092 830h8v7h-8zM1108 830h4v7h-4zM1140 830h4v7h-4zM1152 830h4v7h-4zM1080 837h8v7h-8zM1096 837h4v7h-4zM1104 837h4v7h-4zM1132 837h4v7h-4zM1144 837h4v7h-4zM1080 844h4v7h-4zM1088 844h4v7h-4zM1140 844h8v7h-8zM1088 851h4v7h-4zM1100 851h4v7h-4zM1136 851h4v7h-4zM1060 858h4v7h-4zM1104 858h4v7h-4zM1120 858h4v7h-4zM1140 858h4v7h-4zM1148 858h4v7h-4zM1088 865h4v7h-4zM1100 865h4v7h-4zM1128 865h8v7h-8zM1108 872h4v7h-4zM1128 872h4v7h-4zM1136 872h4v7h-4zM1144 872h4v7h-4zM1100 879h4v7h-4zM1116 879h8v7h-8zM1132 879h8v7h-8zM1164 879h4v7h-4zM1180 879h4v7h-4zM1100 886h4v7h-4zM1112 886h4v7h-4zM1128 886h4v7h-4zM1136 886h8v7h-8zM1104 893h4v7h-4zM1116 893h4v7h-4zM1124 893h4v7h-4zM1136 893h4v7h-4zM1096 900h8v7h-8zM1108 900h4v7h-4zM1120 900h4v7h-4zM1140 900h4v7h-4zM1136 907h8v7h-8zM1068 914h4v7h-4zM1136 914h4v7h-4zM1144 914h4v7h-4zM1076 921h4v7h-4zM1092 921h4v7h-4zM1100 921h4v7h-4zM1160 921h4v7h-4zM1096 928h4v7h-4zM1136 928h4v7h-4zM1092 935h4v7h-4zM1132 935h4v7h-4zM1140 935h4v7h-4zM1156 935h4v7h-4zM1092 942h4v7h-4zM1140 942h4v7h-4zM1152 942h4v7h-4zM1084 949h4v7h-4zM1096 949h4v7h-4zM1040 956h4v7h-4zM1084 956h4v7h-4zM1136 956h4v7h-4zM1160 956h4v7h-4zM1092 963h4v7h-4zM1104 963h4v7h-4zM1128 963h4v7h-4zM1140 963h4v7h-4zM1092 970h4v7h-4zM1124 977h8v7h-8zM1152 977h4v7h-4zM1056 984h4v7h-4zM1088 984h4v7h-4zM1132 984h4v7h-4zM1116 991h4v7h-4zM1044 998h4v7h-4zM1080 1005h4v7h-4zM1132 1005h4v7h-4zM1068 1012h4v7h-4zM1128 1012h4v7h-4zM1072 1019h4v7h-4zM1132 1019h4v7h-4zM1076 1026h4v7h-4zM1128 1026h4v7h-4zM1136 1026h4v7h-4zM1144 1026h4v7h-4zM1064 1033h4v7h-4zM1080 1033h4v7h-4zM1072 1040h8v7h-8zM1116 1040h4v7h-4zM1036 1047h4v7h-4zM1052 1047h4v7h-4zM1068 1047h4v7h-4zM1124 1047h4v7h-4zM1144 1047h4v7h-4zM1104 1054h4v7h-4zM1136 1054h4v7h-4zM1076 1061h4v7h-4zM1116 1061h8v7h-8zM1044 1068h4v7h-4zM1060 1068h4v7h-4zM1116 1068h4v7h-4zM1108 1075h4v7h-4zM1132 1075h4v7h-4zM1012 1082h4v7h-4zM1116 1082h8v7h-8zM1008 1089h4v7h-4zM1044 1089h4v7h-4zM1052 1089h4v7h-4zM1064 1089h4v7h-4zM1008 1096h4v7h-4zM1032 1096h4v7h-4zM1060 1096h4v7h-4zM1072 1096h4v7h-4zM1084 1096h8v7h-8zM1104 1096h4v7h-4zM1112 1096h4v7h-4zM1120 1096h4v7h-4zM1136 1096h4v7h-4zM1012 1103h4v7h-4zM1064 1103h4v7h-4zM1084 1103h4v7h-4zM1108 1103h4v7h-4zM1028 1110h4v7h-4zM1056 1110h4v7h-4zM1016 1117h4v7h-4zM1040 1117h4v7h-4zM1052 1117h4v7h-4zM1060 1117h4v7h-4zM1084 1117h4v7h-4zM1092 1117h4v7h-4zM1112 1117h4v7h-4zM1008 1124h4v7h-4zM1032 1124h4v7h-4zM1052 1124h4v7h-4zM1088 1124h4v7h-4zM1024 1131h4v7h-4zM1044 1131h4v7h-4zM1052 1131h8v7h-8zM1076 1131h4v7h-4zM1084 1131h8v7h-8zM1096 1131h4v7h-4zM1120 1131h4v7h-4zM1028 1138h4v7h-4zM1056 1138h4v7h-4zM1016 1145h4v7h-4zM1044 1145h4v7h-4zM1052 1145h4v7h-4zM1072 1145h12v7h-12zM1004 1152h4v7h-4zM1024 1152h4v7h-4zM1116 1152h4v7h-4zM1028 1159h4v7h-4zM1036 1159h4v7h-4zM1056 1159h4v7h-4zM1016 1166h8v7h-8zM1036 1166h8v7h-8zM1068 1166h16v7h-16zM1036 1173h8v7h-8zM1060 1173h4v7h-4zM1076 1173h8v7h-8zM1100 1173h4v7h-4zM1024 1180h4v7h-4zM1048 1180h8v7h-8zM1080 1180h4v7h-4zM992 1187h4v7h-4zM1024 1187h12v7h-12zM1068 1187h8v7h-8zM1080 1187h8v7h-8zM1024 1194h4v7h-4zM1032 1194h4v7h-4zM1044 1194h4v7h-4zM1064 1194h8v7h-8zM1076 1194h8v7h-8zM984 1201h4v7h-4zM1024 1201h4v7h-4zM1032 1201h4v7h-4zM1060 1201h4v7h-4zM1032 1208h8v7h-8zM1056 1208h8v7h-8zM1068 1208h8v7h-8zM1084 1208h8v7h-8zM1032 1215h8v7h-8zM1024 1222h8v7h-8zM1044 1222h4v7h-4zM1052 1222h8v7h-8zM1064 1222h8v7h-8zM1112 1222h4v7h-4zM976 1229h4v7h-4zM1028 1229h4v7h-4zM1040 1229h4v7h-4zM1064 1229h4v7h-4zM1072 1229h4v7h-4zM1012 1236h4v7h-4zM1020 1236h4v7h-4zM1032 1236h4v7h-4zM1056 1236h4v7h-4zM1064 1236h8v7h-8zM1024 1243h8v7h-8zM1036 1243h4v7h-4zM1044 1243h8v7h-8zM1008 1250h4v7h-4zM1016 1250h4v7h-4zM1024 1250h4v7h-4zM1032 1257h4v7h-4zM1064 1257h4v7h-4zM1016 1264h8v7h-8zM1044 1264h4v7h-4zM1012 1271h12v7h-12zM1032 1271h4v7h-4zM1040 1271h4v7h-4zM976 1278h4v7h-4zM1016 1278h8v7h-8zM1044 1278h4v7h-4zM1056 1278h4v7h-4zM1076 1278h4v7h-4zM1056 1285h4v7h-4zM984 1292h4v7h-4zM1012 1292h4v7h-4zM1020 1292h4v7h-4zM1020 1299h4v7h-4zM1028 1299h4v7h-4zM1060 1299h4v7h-4zM1068 1299h4v7h-4zM1016 1306h4v7h-4zM1032 1306h4v7h-4zM1064 1306h4v7h-4zM1016 1313h4v7h-4zM996 1320h4v7h-4zM1008 1320h8v7h-8zM1048 1320h8v7h-8zM1052 1327h4v7h-4zM1080 1327h4v7h-4zM972 1334h4v7h-4zM1004 1334h4v7h-4zM996 1341h4v7h-4zM1016 1341h4v7h-4zM1016 1348h4v7h-4zM1044 1348h4v7h-4zM1052 1348h4v7h-4zM1020 1355h4v7h-4zM1036 1355h4v7h-4zM980 1362h4v7h-4zM1012 1362h8v7h-8zM1028 1362h4v7h-4zM1052 1362h4v7h-4zM1092 1362h4v7h-4zM992 1369h4v7h-4zM1000 1369h4v7h-4zM1008 1369h4v7h-4zM940 1376h4v7h-4zM952 1376h4v7h-4zM1032 1376h4v7h-4zM1040 1376h4v7h-4zM976 1383h4v7h-4zM988 1383h4v7h-4zM1000 1383h4v7h-4zM1008 1383h4v7h-4zM1020 1383h4v7h-4zM1008 1390h8v7h-8zM1020 1390h4v7h-4zM1036 1390h8v7h-8zM940 1397h4v7h-4zM956 1397h4v7h-4zM980 1397h4v7h-4zM956 1404h4v7h-4zM996 1404h4v7h-4zM944 1411h4v7h-4zM976 1411h4v7h-4zM992 1411h4v7h-4zM1000 1411h4v7h-4zM1012 1411h4v7h-4zM1024 1411h4v7h-4zM1048 1411h4v7h-4zM944 1418h4v7h-4zM980 1418h4v7h-4zM1016 1418h4v7h-4zM1032 1418h8v7h-8z"/>
<path fill="#97ff60" d="M1096 445h4v7h-4zM1104 445h12v7h-12zM1128 445h8v7h-8zM1152 445h12v7h-12zM1180 445h4v7h-4zM1188 445h4v7h-4zM1200 445h4v7h-4zM1228 445h4v7h-4zM1244 445h4v7h-4zM1104 452h12v7h-12zM1124 452h4v7h-4zM1144 452h4v7h-4zM1172 452h4v7h-4zM1188 452h4v7h-4zM1196 452h8v7h-8zM1208 452h4v7h-4zM1216 452h4v7h-4zM1224 452h4v7h-4zM1100 459h8v7h-8zM1128 459h4v7h-4zM1140 459h8v7h-8zM1156 459h4v7h-4zM1168 459h12v7h-12zM1192 459h4v7h-4zM1208 459h4v7h-4zM1092 466h8v7h-8zM1116 466h8v7h-8zM1128 466h4v7h-4zM1152 466h4v7h-4zM1172 466h4v7h-4zM1192 466h4v7h-4zM1096 473h8v7h-8zM1108 473h4v7h-4zM1128 473h4v7h-4zM1140 473h4v7h-4zM1148 473h4v7h-4zM1164 473h4v7h-4zM1212 473h4v7h-4zM1092 480h4v7h-4zM1140 480h4v7h-4zM1160 480h4v7h-4zM1168 480h8v7h-8zM1192 480h4v7h-4zM1204 480h4v7h-4zM1116 487h8v7h-8zM1128 487h4v7h-4zM1144 487h4v7h-4zM1164 487h4v7h-4zM1176 487h4v7h-4zM1188 487h8v7h-8zM1204 487h12v7h-12zM1112 494h4v7h-4zM1124 494h4v7h-4zM1148 494h4v7h-4zM1156 494h4v7h-4zM1164 494h8v7h-8zM1188 494h4v7h-4zM1204 494h8v7h-8zM1100 501h4v7h-4zM1108 501h4v7h-4zM1168 501h4v7h-4zM1216 501h4v7h-4zM1144 508h4v7h-4zM1156 508h4v7h-4zM1164 508h4v7h-4zM1196 508h8v7h-8zM1220 508h4v7h-4zM1124 515h4v7h-4zM1220 515h4v7h-4zM1104 522h4v7h-4zM1160 522h4v7h-4zM1188 522h4v7h-4zM1144 529h4v7h-4zM1164 529h4v7h-4zM1184 529h4v7h-4zM1192 529h16v7h-16zM1220 529h8v7h-8zM1152 536h4v7h-4zM1164 536h4v7h-4zM1176 536h4v7h-4zM1184 536h8v7h-8zM1196 536h4v7h-4zM1212 536h4v7h-4zM1264 536h4v7h-4zM1132 543h4v7h-4zM1156 543h8v7h-8zM1172 543h8v7h-8zM1188 543h4v7h-4zM1204 543h4v7h-4zM1212 543h4v7h-4zM1228 543h4v7h-4zM1260 543h4v7h-4zM1152 550h8v7h-8zM1156 557h4v7h-4zM1188 557h4v7h-4zM1204 557h4v7h-4zM1216 557h8v7h-8zM1148 564h4v7h-4zM1160 564h12v7h-12zM1196 564h4v7h-4zM1204 564h4v7h-4zM1212 564h4v7h-4zM1220 564h4v7h-4zM1232 564h4v7h-4zM1256 564h4v7h-4zM1152 571h4v7h-4zM1160 571h8v7h-8zM1200 571h4v7h-4zM1144 578h4v7h-4zM1156 578h4v7h-4zM1212 578h4v7h-4zM1220 578h4v7h-4zM1240 578h4v7h-4zM1248 578h4v7h-4zM1256 578h4v7h-4zM1136 585h4v7h-4zM1220 585h4v7h-4zM1240 585h4v7h-4zM1144 592h8v7h-8zM1216 592h4v7h-4zM1236 592h4v7h-4zM1252 592h4v7h-4zM1148 599h8v7h-8zM1164 599h4v7h-4zM1192 599h4v7h-4zM1244 606h4v7h-4zM1148 613h8v7h-8zM1200 613h4v7h-4zM1216 613h4v7h-4zM1232 613h4v7h-4zM1248 613h4v7h-4zM1100 620h4v7h-4zM1136 620h4v7h-4zM1200 620h4v7h-4zM1216 620h4v7h-4zM1224 620h4v7h-4zM1232 620h8v7h-8zM1096 627h4v7h-4zM1120 627h4v7h-4zM1148 627h4v7h-4zM1216 627h4v7h-4zM1096 634h4v7h-4zM1132 634h4v7h-4zM1152 634h8v7h-8zM1200 634h4v7h-4zM1216 634h4v7h-4zM1236 634h4v7h-4zM1112 641h4v7h-4zM1120 641h4v7h-4zM1140 641h4v7h-4zM1156 641h4v7h-4zM1208 641h4v7h-4zM1216 641h4v7h-4zM1104 648h4v7h-4zM1132 648h12v7h-12zM1152 648h4v7h-4zM1208 648h4v7h-4zM1216 648h4v7h-4zM1224 648h4v7h-4zM1232 648h4v7h-4zM1240 648h4v7h-4zM1100 655h4v7h-4zM1116 655h4v7h-4zM1128 655h8v7h-8zM1144 655h4v7h-4zM1160 655h4v7h-4zM1216 655h4v7h-4zM1224 655h4v7h-4zM1096 662h4v7h-4zM1124 662h4v7h-4zM1132 662h4v7h-4zM1140 662h8v7h-8zM1196 662h4v7h-4zM1208 662h4v7h-4zM1112 669h8v7h-8zM1128 669h4v7h-4zM1136 669h16v7h-16zM1228 669h4v7h-4zM1096 676h4v7h-4zM1104 676h4v7h-4zM1196 676h4v7h-4zM1220 676h12v7h-12zM1100 683h4v7h-4zM1124 683h4v7h-4zM1192 683h4v7h-4zM1216 683h8v7h-8zM1104 690h8v7h-8zM1116 690h12v7h-12zM1216 690h4v7h-4zM1228 690h8v7h-8zM1100 697h4v7h-4zM1128 697h8v7h-8zM1212 697h4v7h-4zM1220 697h12v7h-12zM1096 704h8v7h-8zM1124 704h8v7h-8zM1140 704h4v7h-4zM1196 704h4v7h-4zM1216 704h4v7h-4zM1088 711h4v7h-4zM1096 711h4v7h-4zM1120 711h4v7h-4zM1132 711h4v7h-4zM1200 711h8v7h-8zM1084 718h4v7h-4zM1116 718h4v7h-4zM1124 718h4v7h-4zM1192 718h4v7h-4zM1204 718h8v7h-8zM1216 718h4v7h-4zM1224 718h4v7h-4zM1088 725h16v7h-16zM1120 725h8v7h-8zM1192 725h4v7h-4zM1212 725h4v7h-4zM1224 725h4v7h-4zM1100 732h4v7h-4zM1200 732h8v7h-8zM1096 739h8v7h-8zM1116 739h8v7h-8zM1220 739h4v7h-4zM1096 746h8v7h-8zM1112 746h4v7h-4zM1192 746h4v7h-4zM1212 746h4v7h-4zM1108 753h4v7h-4zM1124 753h4v7h-4zM1180 753h16v7h-16zM1076 760h4v7h-4zM1084 760h4v7h-4zM1092 760h4v7h-4zM1100 760h4v7h-4zM1112 760h4v7h-4zM1120 760h4v7h-4zM1176 760h8v7h-8zM1076 767h8v7h-8zM1092 767h4v7h-4zM1112 767h4v7h-4zM1172 767h4v7h-4zM1188 767h4v7h-4zM1200 767h4v7h-4zM1208 767h4v7h-4zM1088 774h12v7h-12zM1164 774h4v7h-4zM1100 788h4v7h-4zM1108 788h4v7h-4zM1160 788h4v7h-4zM1072 795h4v7h-4zM1096 795h8v7h-8zM1160 795h8v7h-8zM1208 795h4v7h-4zM1068 802h4v7h-4zM1092 802h4v7h-4zM1104 802h4v7h-4zM1148 802h4v7h-4zM1156 802h4v7h-4zM1084 809h8v7h-8zM1164 809h4v7h-4zM1204 809h4v7h-4zM1088 816h4v7h-4zM1144 816h4v7h-4zM1172 816h4v7h-4zM1092 823h4v7h-4zM1160 823h4v7h-4zM1172 823h4v7h-4zM1112 830h4v7h-4zM1160 830h8v7h-8zM1176 830h4v7h-4zM1188 830h4v7h-4zM1064 837h4v7h-4zM1088 837h4v7h-4zM1108 837h4v7h-4zM1140 837h4v7h-4zM1148 837h4v7h-4zM1068 844h4v7h-4zM1096 844h4v7h-4zM1148 844h4v7h-4zM1064 851h4v7h-4zM1108 851h4v7h-4zM1144 851h4v7h-4zM1156 851h8v7h-8zM1180 851h4v7h-4zM1080 858h4v7h-4zM1088 858h4v7h-4zM1176 858h4v7h-4zM1084 865h4v7h-4zM1092 865h4v7h-4zM1144 865h8v7h-8zM1092 872h4v7h-4zM1116 872h4v7h-4zM1148 872h4v7h-4zM1104 879h4v7h-4zM1124 879h4v7h-4zM1152 879h4v7h-4zM1120 886h4v7h-4zM1132 886h4v7h-4zM1180 886h4v7h-4zM1092 900h4v7h-4zM1132 900h8v7h-8zM1172 900h4v7h-4zM1096 907h4v7h-4zM1156 907h4v7h-4zM1172 907h4v7h-4zM1180 907h4v7h-4zM1096 914h4v7h-4zM1128 914h4v7h-4zM1088 921h4v7h-4zM1096 921h4v7h-4zM1156 921h4v7h-4zM1044 928h4v7h-4zM1084 928h4v7h-4zM1092 928h4v7h-4zM1144 928h4v7h-4zM1152 928h4v7h-4zM1160 928h4v7h-4zM1176 928h4v7h-4zM1088 935h4v7h-4zM1152 935h4v7h-4zM1080 942h4v7h-4zM1144 942h4v7h-4zM1092 949h4v7h-4zM1140 949h4v7h-4zM1092 956h8v7h-8zM1132 956h4v7h-4zM1144 956h4v7h-4zM1168 956h4v7h-4zM1036 963h4v7h-4zM1052 963h4v7h-4zM1064 963h4v7h-4zM1080 963h4v7h-4zM1088 963h4v7h-4zM1080 970h4v7h-4zM1088 970h4v7h-4zM1124 970h4v7h-4zM1048 977h4v7h-4zM1084 977h4v7h-4zM1032 984h4v7h-4zM1040 984h4v7h-4zM1072 984h4v7h-4zM1032 991h8v7h-8zM1064 991h4v7h-4zM1072 991h4v7h-4zM1068 998h4v7h-4zM1152 998h4v7h-4zM1072 1005h8v7h-8zM1152 1005h4v7h-4zM1048 1012h4v7h-4zM1060 1012h8v7h-8zM1136 1012h4v7h-4zM1036 1019h4v7h-4zM1076 1019h4v7h-4zM1136 1019h4v7h-4zM1028 1026h4v7h-4zM1044 1026h4v7h-4zM1052 1026h4v7h-4zM1124 1026h4v7h-4zM1132 1026h4v7h-4zM1028 1033h4v7h-4zM1140 1033h4v7h-4zM1152 1033h4v7h-4zM1024 1040h4v7h-4zM1068 1040h4v7h-4zM1112 1040h4v7h-4zM1128 1040h4v7h-4zM1024 1047h4v7h-4zM1044 1047h8v7h-8zM1112 1047h4v7h-4zM1128 1047h8v7h-8zM1020 1054h4v7h-4zM1060 1054h4v7h-4zM1036 1061h4v7h-4zM1056 1061h4v7h-4zM1072 1061h4v7h-4zM1108 1061h8v7h-8zM1124 1061h4v7h-4zM1040 1068h4v7h-4zM1056 1068h4v7h-4zM1064 1068h4v7h-4zM1132 1068h4v7h-4zM1036 1075h8v7h-8zM1056 1075h12v7h-12zM1120 1075h12v7h-12zM1136 1075h4v7h-4zM1056 1082h12v7h-12zM1092 1082h4v7h-4zM1112 1082h4v7h-4zM1076 1089h4v7h-4zM1096 1089h4v7h-4zM1112 1089h4v7h-4zM1120 1089h4v7h-4zM1052 1096h4v7h-4zM1008 1103h4v7h-4zM1016 1103h4v7h-4zM1028 1103h4v7h-4zM1036 1103h4v7h-4zM1056 1103h8v7h-8zM1012 1110h8v7h-8zM1040 1110h4v7h-4zM1100 1110h4v7h-4zM1004 1117h8v7h-8zM1048 1117h4v7h-4zM1116 1117h4v7h-4zM1004 1124h4v7h-4zM1040 1124h4v7h-4zM1112 1124h4v7h-4zM1008 1131h8v7h-8zM1036 1131h4v7h-4zM1100 1131h4v7h-4zM1128 1131h4v7h-4zM996 1138h4v7h-4zM1012 1138h4v7h-4zM1044 1138h4v7h-4zM1080 1138h4v7h-4zM1088 1138h4v7h-4zM1116 1138h4v7h-4zM1124 1138h4v7h-4zM1012 1145h4v7h-4zM1020 1145h4v7h-4zM1032 1145h4v7h-4zM1040 1145h4v7h-4zM1084 1145h4v7h-4zM1020 1152h4v7h-4zM1032 1152h12v7h-12zM1076 1152h16v7h-16zM1120 1152h8v7h-8zM996 1159h8v7h-8zM1012 1159h12v7h-12zM1044 1159h4v7h-4zM1076 1159h4v7h-4zM1088 1159h8v7h-8zM1100 1159h4v7h-4zM992 1166h4v7h-4zM1028 1166h8v7h-8zM1096 1166h4v7h-4zM988 1173h4v7h-4zM1020 1173h4v7h-4zM1064 1173h4v7h-4zM1084 1173h4v7h-4zM1092 1173h4v7h-4zM992 1180h4v7h-4zM1032 1180h4v7h-4zM1064 1180h4v7h-4zM1104 1180h4v7h-4zM1120 1180h4v7h-4zM1008 1187h4v7h-4zM1016 1187h4v7h-4zM1008 1194h12v7h-12zM1028 1194h4v7h-4zM1036 1194h4v7h-4zM1072 1194h4v7h-4zM1088 1194h8v7h-8zM996 1201h8v7h-8zM1068 1201h4v7h-4zM1104 1201h4v7h-4zM980 1208h4v7h-4zM1024 1208h4v7h-4zM1064 1208h4v7h-4zM1080 1208h4v7h-4zM988 1215h4v7h-4zM996 1215h4v7h-4zM1024 1215h4v7h-4zM1064 1215h8v7h-8zM1080 1215h4v7h-4zM1088 1215h4v7h-4zM1100 1215h4v7h-4zM1112 1215h4v7h-4zM1004 1222h12v7h-12zM1020 1222h4v7h-4zM1072 1222h4v7h-4zM992 1229h4v7h-4zM1032 1229h4v7h-4zM1056 1229h8v7h-8zM1108 1229h4v7h-4zM1000 1236h4v7h-4zM1088 1236h4v7h-4zM1108 1236h4v7h-4zM972 1243h4v7h-4zM1000 1243h4v7h-4zM1020 1243h4v7h-4zM1068 1243h4v7h-4zM1096 1243h4v7h-4zM1104 1243h4v7h-4zM972 1250h4v7h-4zM988 1250h4v7h-4zM1040 1250h4v7h-4zM1060 1250h4v7h-4zM1108 1250h4v7h-4zM1028 1257h4v7h-4zM1044 1257h4v7h-4zM1052 1257h12v7h-12zM1076 1257h4v7h-4zM1088 1257h4v7h-4zM1004 1264h4v7h-4zM1048 1264h4v7h-4zM1068 1264h8v7h-8zM1084 1264h4v7h-4zM1092 1264h4v7h-4zM1104 1264h4v7h-4zM1048 1271h8v7h-8zM1060 1271h4v7h-4zM1076 1271h4v7h-4zM1052 1278h4v7h-4zM1016 1285h4v7h-4zM1024 1285h8v7h-8zM1044 1285h4v7h-4zM1088 1285h8v7h-8zM996 1292h8v7h-8zM1016 1292h4v7h-4zM1060 1292h8v7h-8zM1008 1299h4v7h-4zM1072 1299h4v7h-4zM1092 1299h4v7h-4zM1000 1306h8v7h-8zM1012 1306h4v7h-4zM1048 1306h8v7h-8zM1060 1306h4v7h-4zM1096 1306h4v7h-4zM984 1313h4v7h-4zM1004 1313h4v7h-4zM1048 1313h4v7h-4zM1056 1313h8v7h-8zM1068 1313h4v7h-4zM1080 1313h4v7h-4zM1096 1313h4v7h-4zM960 1320h4v7h-4zM1000 1320h4v7h-4zM1056 1320h4v7h-4zM996 1327h4v7h-4zM1012 1327h4v7h-4zM956 1334h4v7h-4zM968 1334h4v7h-4zM996 1334h8v7h-8zM1008 1334h4v7h-4zM1048 1334h4v7h-4zM1056 1334h4v7h-4zM1080 1334h4v7h-4zM960 1341h4v7h-4zM972 1341h4v7h-4zM1000 1341h4v7h-4zM1048 1341h4v7h-4zM948 1348h8v7h-8zM976 1348h8v7h-8zM988 1348h4v7h-4zM1000 1348h4v7h-4zM1060 1348h4v7h-4zM960 1355h4v7h-4zM984 1355h8v7h-8zM1000 1355h4v7h-4zM1028 1355h4v7h-4zM948 1362h4v7h-4zM984 1362h4v7h-4zM1004 1362h4v7h-4zM1020 1362h4v7h-4zM1040 1362h4v7h-4zM944 1369h4v7h-4zM996 1369h4v7h-4zM1004 1369h4v7h-4zM1012 1369h8v7h-8zM944 1376h8v7h-8zM976 1376h4v7h-4zM984 1376h8v7h-8zM1004 1376h4v7h-4zM1012 1376h4v7h-4zM1024 1376h8v7h-8zM944 1383h4v7h-4zM952 1383h4v7h-4zM968 1383h8v7h-8zM980 1383h4v7h-4zM996 1383h4v7h-4zM1004 1383h4v7h-4zM1028 1383h4v7h-4zM1040 1383h4v7h-4zM1048 1383h4v7h-4zM964 1390h4v7h-4zM976 1390h4v7h-4zM984 1390h4v7h-4zM992 1390h8v7h-8zM1028 1390h8v7h-8zM952 1397h4v7h-4zM968 1397h4v7h-4zM976 1397h4v7h-4zM984 1397h4v7h-4zM992 1397h12v7h-12zM944 1404h4v7h-4zM972 1404h4v7h-4zM992 1404h4v7h-4zM1008 1404h4v7h-4zM1028 1404h8v7h-8zM1044 1404h4v7h-4zM968 1411h8v7h-8zM996 1411h4v7h-4zM1004 1411h4v7h-4zM1028 1411h8v7h-8zM948 1418h4v7h-4zM972 1418h4v7h-4zM992 1418h4v7h-4zM1012 1418h4v7h-4zM1028 1418h4v7h-4zM1044 1418h4v7h-4z"/>
<path fill="#b2ff45" d="M1124 445h4v7h-4zM1192 445h8v7h-8zM1204 445h16v7h-16zM1224 445h4v7h-4zM1256 445h4v7h-4zM1120 452h4v7h-4zM1148 452h8v7h-8zM1204 452h4v7h-4zM1220 452h4v7h-4zM1260 452h4v7h-4zM1148 459h8v7h-8zM1180 459h4v7h-4zM1204 459h4v7h-4zM1212 459h4v7h-4zM1232 459h4v7h-4zM1240 459h4v7h-4zM1144 466h8v7h-8zM1156 466h4v7h-4zM1168 466h4v7h-4zM1188 466h4v7h-4zM1196 466h16v7h-16zM1268 466h4v7h-4zM1124 473h4v7h-4zM1144 473h4v7h-4zM1192 473h4v7h-4zM1124 480h4v7h-4zM1132 480h4v7h-4zM1180 480h8v7h-8zM1196 480h4v7h-4zM1212 480h4v7h-4zM1100 487h4v7h-4zM1108 487h8v7h-8zM1124 487h4v7h-4zM1140 487h4v7h-4zM1152 487h8v7h-8zM1172 487h4v7h-4zM1180 487h4v7h-4zM1196 487h4v7h-4zM1224 487h4v7h-4zM1108 494h4v7h-4zM1136 494h4v7h-4zM1144 494h4v7h-4zM1196 494h4v7h-4zM1212 494h4v7h-4zM1264 494h4v7h-4zM1272 494h4v7h-4zM1116 501h4v7h-4zM1132 501h4v7h-4zM1160 501h8v7h-8zM1200 501h8v7h-8zM1220 501h4v7h-4zM1228 501h4v7h-4zM1272 501h4v7h-4zM1108 508h12v7h-12zM1140 508h4v7h-4zM1152 508h4v7h-4zM1192 508h4v7h-4zM1208 508h8v7h-8zM1236 508h4v7h-4zM1132 515h4v7h-4zM1140 515h8v7h-8zM1164 515h4v7h-4zM1208 515h4v7h-4zM1232 515h4v7h-4zM1268 515h4v7h-4zM1096 522h4v7h-4zM1128 522h8v7h-8zM1148 522h4v7h-4zM1196 522h4v7h-4zM1208 522h8v7h-8zM1224 522h4v7h-4zM1264 522h4v7h-4zM1112 529h4v7h-4zM1124 529h4v7h-4zM1132 529h4v7h-4zM1140 529h4v7h-4zM1148 529h4v7h-4zM1176 529h8v7h-8zM1228 529h8v7h-8zM1144 536h4v7h-4zM1156 536h8v7h-8zM1168 536h4v7h-4zM1224 536h4v7h-4zM1128 543h4v7h-4zM1140 543h8v7h-8zM1216 543h4v7h-4zM1252 543h4v7h-4zM1264 543h4v7h-4zM1116 550h4v7h-4zM1124 550h4v7h-4zM1140 550h4v7h-4zM1148 550h4v7h-4zM1164 550h4v7h-4zM1196 550h4v7h-4zM1204 550h12v7h-12zM1220 550h4v7h-4zM1232 550h4v7h-4zM1260 550h4v7h-4zM1108 557h4v7h-4zM1120 557h4v7h-4zM1128 557h4v7h-4zM1140 557h4v7h-4zM1148 557h4v7h-4zM1212 557h4v7h-4zM1256 557h8v7h-8zM1104 564h4v7h-4zM1132 564h8v7h-8zM1144 564h4v7h-4zM1152 564h8v7h-8zM1236 564h4v7h-4zM1144 571h8v7h-8zM1156 571h4v7h-4zM1216 571h4v7h-4zM1228 571h8v7h-8zM1240 571h12v7h-12zM1100 578h4v7h-4zM1216 578h4v7h-4zM1144 585h4v7h-4zM1156 585h4v7h-4zM1212 585h8v7h-8zM1228 585h4v7h-4zM1248 585h4v7h-4zM1096 592h4v7h-4zM1124 592h4v7h-4zM1140 592h4v7h-4zM1208 592h4v7h-4zM1244 592h4v7h-4zM1132 599h4v7h-4zM1216 599h16v7h-16zM1244 599h4v7h-4zM1252 599h4v7h-4zM1096 606h4v7h-4zM1132 606h4v7h-4zM1144 606h12v7h-12zM1252 606h4v7h-4zM1120 613h8v7h-8zM1136 613h4v7h-4zM1156 613h4v7h-4zM1224 613h8v7h-8zM1108 620h4v7h-4zM1220 620h4v7h-4zM1244 620h4v7h-4zM1100 627h4v7h-4zM1132 627h4v7h-4zM1140 627h4v7h-4zM1224 627h8v7h-8zM1236 627h4v7h-4zM1244 627h4v7h-4zM1100 634h8v7h-8zM1116 634h4v7h-4zM1136 634h8v7h-8zM1220 634h4v7h-4zM1232 634h4v7h-4zM1104 641h4v7h-4zM1128 641h4v7h-4zM1136 641h4v7h-4zM1144 641h4v7h-4zM1212 641h4v7h-4zM1220 641h8v7h-8zM1100 648h4v7h-4zM1108 648h8v7h-8zM1120 648h8v7h-8zM1244 648h4v7h-4zM1092 655h4v7h-4zM1196 655h4v7h-4zM1228 655h8v7h-8zM1104 662h12v7h-12zM1128 662h4v7h-4zM1212 662h4v7h-4zM1228 662h4v7h-4zM1236 662h4v7h-4zM1092 669h4v7h-4zM1104 669h8v7h-8zM1124 669h4v7h-4zM1208 669h4v7h-4zM1216 669h4v7h-4zM1224 669h4v7h-4zM1100 676h4v7h-4zM1108 676h4v7h-4zM1116 676h4v7h-4zM1132 676h4v7h-4zM1212 676h4v7h-4zM1232 676h4v7h-4zM1092 683h8v7h-8zM1108 683h12v7h-12zM1128 683h4v7h-4zM1140 683h4v7h-4zM1196 683h4v7h-4zM1212 683h4v7h-4zM1204 690h8v7h-8zM1220 690h8v7h-8zM1104 697h16v7h-16zM1104 704h8v7h-8zM1120 704h4v7h-4zM1208 704h8v7h-8zM1176 711h4v7h-4zM1188 711h4v7h-4zM1212 711h8v7h-8zM1228 711h4v7h-4zM1196 718h4v7h-4zM1220 718h4v7h-4zM1200 725h4v7h-4zM1208 725h4v7h-4zM1084 732h4v7h-4zM1112 732h4v7h-4zM1192 732h4v7h-4zM1212 732h8v7h-8zM1088 739h4v7h-4zM1124 739h4v7h-4zM1204 739h4v7h-4zM1212 739h4v7h-4zM1088 746h4v7h-4zM1208 746h4v7h-4zM1088 753h8v7h-8zM1112 753h4v7h-4zM1196 753h4v7h-4zM1204 753h4v7h-4zM1212 753h4v7h-4zM1080 760h4v7h-4zM1184 760h12v7h-12zM1200 760h12v7h-12zM1088 767h4v7h-4zM1096 767h4v7h-4zM1180 767h8v7h-8zM1192 767h4v7h-4zM1076 774h12v7h-12zM1104 774h4v7h-4zM1168 774h4v7h-4zM1208 774h4v7h-4zM1072 781h4v7h-4zM1080 781h4v7h-4zM1088 781h4v7h-4zM1172 781h4v7h-4zM1204 781h8v7h-8zM1072 788h4v7h-4zM1168 788h4v7h-4zM1188 788h4v7h-4zM1076 795h4v7h-4zM1084 795h8v7h-8zM1104 795h4v7h-4zM1168 795h4v7h-4zM1204 795h4v7h-4zM1080 802h4v7h-4zM1168 802h4v7h-4zM1072 809h8v7h-8zM1108 809h4v7h-4zM1152 809h4v7h-4zM1160 809h4v7h-4zM1152 816h4v7h-4zM1160 816h4v7h-4zM1164 823h4v7h-4zM1176 823h8v7h-8zM1064 830h4v7h-4zM1072 830h4v7h-4zM1152 837h8v7h-8zM1164 837h4v7h-4zM1060 844h4v7h-4zM1072 844h4v7h-4zM1084 844h4v7h-4zM1156 844h4v7h-4zM1184 844h8v7h-8zM1080 851h8v7h-8zM1092 851h4v7h-4zM1184 851h4v7h-4zM1068 858h8v7h-8zM1092 858h8v7h-8zM1152 858h4v7h-4zM1184 858h4v7h-4zM1056 865h4v7h-4zM1076 865h4v7h-4zM1096 865h4v7h-4zM1104 865h4v7h-4zM1180 865h4v7h-4zM1056 872h8v7h-8zM1080 872h4v7h-4zM1088 872h4v7h-4zM1096 872h4v7h-4zM1140 872h4v7h-4zM1152 872h4v7h-4zM1180 872h4v7h-4zM1096 879h4v7h-4zM1156 879h8v7h-8zM1184 879h4v7h-4zM1052 886h4v7h-4zM1104 886h4v7h-4zM1092 893h12v7h-12zM1132 893h4v7h-4zM1180 893h8v7h-8zM1072 900h4v7h-4zM1152 900h4v7h-4zM1176 900h4v7h-4zM1148 907h4v7h-4zM1160 907h4v7h-4zM1168 907h4v7h-4zM1176 907h4v7h-4zM1048 914h4v7h-4zM1056 914h12v7h-12zM1072 914h4v7h-4zM1092 914h4v7h-4zM1132 914h4v7h-4zM1152 914h8v7h-8zM1056 921h4v7h-4zM1080 921h4v7h-4zM1152 921h4v7h-4zM1164 921h8v7h-8zM1176 921h4v7h-4zM1076 928h4v7h-4zM1156 928h4v7h-4zM1172 928h4v7h-4zM1048 935h4v7h-4zM1076 935h8v7h-8zM1160 935h16v7h-16zM1084 942h8v7h-8zM1096 942h4v7h-4zM1156 942h4v7h-4zM1040 949h4v7h-4zM1048 949h4v7h-4zM1152 949h8v7h-8zM1056 956h4v7h-4zM1068 956h4v7h-4zM1164 956h4v7h-4zM1040 963h8v7h-8zM1084 963h4v7h-4zM1132 963h4v7h-4zM1152 963h8v7h-8zM1040 970h8v7h-8zM1056 970h8v7h-8zM1076 970h4v7h-4zM1084 970h4v7h-4zM1132 970h4v7h-4zM1160 970h8v7h-8zM1064 977h4v7h-4zM1076 977h4v7h-4zM1156 977h4v7h-4zM1044 984h4v7h-4zM1148 984h4v7h-4zM1040 991h12v7h-12zM1060 991h4v7h-4zM1068 991h4v7h-4zM1080 991h4v7h-4zM1132 991h4v7h-4zM1156 991h8v7h-8zM1036 998h4v7h-4zM1048 998h4v7h-4zM1060 998h4v7h-4zM1072 998h8v7h-8zM1128 998h4v7h-4zM1136 998h4v7h-4zM1148 998h4v7h-4zM1156 998h4v7h-4zM1048 1005h4v7h-4zM1064 1005h4v7h-4zM1128 1005h4v7h-4zM1136 1005h4v7h-4zM1144 1005h4v7h-4zM1036 1012h4v7h-4zM1056 1012h4v7h-4zM1072 1012h4v7h-4zM1080 1012h4v7h-4zM1144 1012h12v7h-12zM1044 1019h4v7h-4zM1056 1019h4v7h-4zM1068 1019h4v7h-4zM1128 1019h4v7h-4zM1144 1019h4v7h-4zM1152 1019h4v7h-4zM1032 1026h4v7h-4zM1068 1026h4v7h-4zM1148 1026h4v7h-4zM1020 1033h8v7h-8zM1040 1033h4v7h-4zM1048 1033h16v7h-16zM1128 1033h4v7h-4zM1136 1033h4v7h-4zM1144 1033h4v7h-4zM1028 1040h4v7h-4zM1036 1040h20v7h-20zM1060 1040h8v7h-8zM1132 1040h4v7h-4zM1144 1040h8v7h-8zM1032 1047h4v7h-4zM1060 1047h8v7h-8zM1072 1047h4v7h-4zM1140 1047h4v7h-4zM1024 1054h4v7h-4zM1032 1054h12v7h-12zM1064 1054h4v7h-4zM1120 1054h4v7h-4zM1128 1054h8v7h-8zM1140 1054h4v7h-4zM1048 1061h8v7h-8zM1060 1061h4v7h-4zM1068 1061h4v7h-4zM1132 1061h8v7h-8zM1012 1068h4v7h-4zM1032 1068h8v7h-8zM1052 1068h4v7h-4zM1068 1068h4v7h-4zM1120 1068h8v7h-8zM1144 1068h4v7h-4zM1012 1075h8v7h-8zM1044 1075h4v7h-4zM1140 1075h4v7h-4zM1036 1082h4v7h-4zM1132 1082h4v7h-4zM1140 1082h4v7h-4zM1012 1089h8v7h-8zM1048 1089h4v7h-4zM1056 1089h4v7h-4zM1132 1089h4v7h-4zM1028 1096h4v7h-4zM1040 1096h4v7h-4zM1056 1096h4v7h-4zM1108 1096h4v7h-4zM1128 1096h8v7h-8zM1024 1103h4v7h-4zM1048 1103h4v7h-4zM1104 1103h4v7h-4zM1112 1103h4v7h-4zM1120 1103h4v7h-4zM1128 1103h4v7h-4zM1020 1110h8v7h-8zM1032 1110h8v7h-8zM1044 1110h8v7h-8zM1096 1110h4v7h-4zM1112 1110h4v7h-4zM1124 1110h4v7h-4zM1028 1117h4v7h-4zM1044 1117h4v7h-4zM1064 1117h4v7h-4zM1096 1117h4v7h-4zM1108 1117h4v7h-4zM1120 1117h4v7h-4zM1000 1124h4v7h-4zM1012 1124h12v7h-12zM1104 1124h4v7h-4zM1124 1124h4v7h-4zM1000 1131h4v7h-4zM1020 1131h4v7h-4zM1032 1131h4v7h-4zM1040 1131h4v7h-4zM1104 1131h4v7h-4zM1116 1131h4v7h-4zM1000 1138h4v7h-4zM1024 1138h4v7h-4zM1036 1138h8v7h-8zM1120 1138h4v7h-4zM996 1145h4v7h-4zM1028 1145h4v7h-4zM1036 1145h4v7h-4zM1096 1145h4v7h-4zM1112 1145h8v7h-8zM1124 1145h4v7h-4zM1012 1152h4v7h-4zM1044 1152h4v7h-4zM1104 1152h4v7h-4zM992 1159h4v7h-4zM1008 1159h4v7h-4zM1080 1159h4v7h-4zM1096 1159h4v7h-4zM1120 1159h8v7h-8zM1088 1166h4v7h-4zM1104 1166h8v7h-8zM1116 1166h4v7h-4zM992 1173h4v7h-4zM1016 1173h4v7h-4zM1024 1173h4v7h-4zM1032 1173h4v7h-4zM1096 1173h4v7h-4zM1104 1173h8v7h-8zM1116 1173h8v7h-8zM996 1180h4v7h-4zM1004 1180h8v7h-8zM1084 1180h4v7h-4zM1092 1180h12v7h-12zM1108 1180h8v7h-8zM996 1187h4v7h-4zM1004 1187h4v7h-4zM1020 1187h4v7h-4zM1088 1187h4v7h-4zM1096 1187h4v7h-4zM1104 1187h4v7h-4zM988 1194h4v7h-4zM1020 1194h4v7h-4zM1084 1194h4v7h-4zM1116 1194h4v7h-4zM1004 1201h8v7h-8zM1044 1201h4v7h-4zM1072 1201h4v7h-4zM1108 1201h4v7h-4zM988 1208h8v7h-8zM1008 1208h16v7h-16zM1028 1208h4v7h-4zM1052 1208h4v7h-4zM1092 1208h4v7h-4zM992 1215h4v7h-4zM1012 1215h4v7h-4zM1020 1215h4v7h-4zM1072 1215h8v7h-8zM1096 1215h4v7h-4zM1040 1222h4v7h-4zM1080 1222h4v7h-4zM1100 1222h8v7h-8zM980 1229h8v7h-8zM996 1229h4v7h-4zM1004 1229h12v7h-12zM1020 1229h4v7h-4zM1096 1229h4v7h-4zM984 1236h4v7h-4zM1008 1236h4v7h-4zM1016 1236h4v7h-4zM1024 1236h4v7h-4zM1060 1236h4v7h-4zM1084 1236h4v7h-4zM996 1243h4v7h-4zM1060 1243h4v7h-4zM1076 1243h4v7h-4zM1084 1243h4v7h-4zM1092 1243h4v7h-4zM980 1250h4v7h-4zM1052 1250h8v7h-8zM1064 1250h4v7h-4zM1096 1250h4v7h-4zM968 1257h4v7h-4zM976 1257h4v7h-4zM1012 1257h4v7h-4zM1068 1257h8v7h-8zM1084 1257h4v7h-4zM968 1264h12v7h-12zM996 1264h4v7h-4zM1012 1264h4v7h-4zM1080 1264h4v7h-4zM968 1271h4v7h-4zM988 1271h4v7h-4zM1004 1271h8v7h-8zM1064 1271h12v7h-12zM1080 1271h4v7h-4zM1092 1271h8v7h-8zM984 1278h8v7h-8zM996 1278h4v7h-4zM1004 1278h12v7h-12zM1064 1278h4v7h-4zM1080 1278h4v7h-4zM1088 1278h4v7h-4zM996 1285h4v7h-4zM1004 1285h12v7h-12zM1040 1285h4v7h-4zM1052 1285h4v7h-4zM1060 1285h8v7h-8zM1076 1285h12v7h-12zM1096 1285h4v7h-4zM968 1292h4v7h-4zM1008 1292h4v7h-4zM1052 1292h8v7h-8zM1068 1292h4v7h-4zM992 1299h8v7h-8zM1004 1299h4v7h-4zM1052 1299h4v7h-4zM1064 1299h4v7h-4zM1096 1299h8v7h-8zM956 1306h8v7h-8zM984 1306h4v7h-4zM992 1306h4v7h-4zM1008 1306h4v7h-4zM1068 1306h4v7h-4zM956 1313h4v7h-4zM1052 1313h4v7h-4zM1064 1313h4v7h-4zM984 1320h4v7h-4zM1064 1320h8v7h-8zM964 1327h4v7h-4zM992 1327h4v7h-4zM1000 1327h4v7h-4zM1072 1327h4v7h-4zM1084 1327h4v7h-4zM1092 1327h4v7h-4zM976 1334h4v7h-4zM984 1334h12v7h-12zM1052 1334h4v7h-4zM1060 1334h4v7h-4zM1084 1334h4v7h-4zM944 1341h4v7h-4zM952 1341h4v7h-4zM1080 1341h8v7h-8zM940 1348h4v7h-4zM1008 1348h4v7h-4zM1032 1348h4v7h-4zM1048 1348h4v7h-4zM1084 1348h4v7h-4zM940 1355h4v7h-4zM948 1355h4v7h-4zM956 1355h4v7h-4zM1040 1355h4v7h-4zM1056 1355h4v7h-4zM944 1362h4v7h-4zM964 1362h8v7h-8zM976 1362h4v7h-4zM992 1362h4v7h-4zM1008 1362h4v7h-4zM1032 1362h4v7h-4zM948 1369h4v7h-4zM964 1369h4v7h-4zM976 1369h4v7h-4zM1032 1369h4v7h-4zM1044 1369h4v7h-4zM956 1376h4v7h-4zM964 1376h4v7h-4zM972 1376h4v7h-4zM980 1376h4v7h-4zM992 1376h8v7h-8zM1008 1376h4v7h-4zM1016 1376h8v7h-8zM1048 1376h4v7h-4zM940 1383h4v7h-4zM960 1383h4v7h-4zM1032 1383h4v7h-4zM940 1390h8v7h-8zM952 1390h12v7h-12zM1000 1390h4v7h-4zM1044 1390h12v7h-12zM964 1397h4v7h-4zM1004 1397h12v7h-12zM1024 1397h8v7h-8zM1036 1397h4v7h-4zM1044 1397h4v7h-4zM940 1404h4v7h-4zM952 1404h4v7h-4zM964 1404h8v7h-8zM984 1404h8v7h-8zM1012 1404h8v7h-8zM1040 1404h4v7h-4zM1052 1404h4v7h-4zM948 1411h4v7h-4zM956 1411h12v7h-12zM984 1411h4v7h-4zM1020 1411h4v7h-4zM1044 1411h4v7h-4zM952 1418h4v7h-4zM964 1418h8v7h-8zM988 1418h4v7h-4zM996 1418h4v7h-4zM1020 1418h4v7h-4zM1052 1418h4v7h-4zM1064 1418h4v7h-4zM1084 1418h4v7h-4z"/>
<path fill="#ceff29" d="M1252 445h4v7h-4zM1264 445h4v7h-4zM1184 452h4v7h-4zM1096 459h4v7h-4zM1196 459h4v7h-4zM1220 459h4v7h-4zM1228 459h4v7h-4zM1248 459h4v7h-4zM1256 459h8v7h-8zM1104 466h4v7h-4zM1124 466h4v7h-4zM1176 466h4v7h-4zM1216 466h12v7h-12zM1168 473h8v7h-8zM1180 473h4v7h-4zM1268 473h8v7h-8zM1100 480h4v7h-4zM1144 480h4v7h-4zM1216 480h8v7h-8zM1268 480h4v7h-4zM1200 487h4v7h-4zM1252 487h4v7h-4zM1100 494h4v7h-4zM1116 494h4v7h-4zM1140 494h4v7h-4zM1152 494h4v7h-4zM1176 494h4v7h-4zM1184 494h4v7h-4zM1216 494h4v7h-4zM1224 494h12v7h-12zM1136 501h16v7h-16zM1208 501h4v7h-4zM1120 508h4v7h-4zM1132 508h4v7h-4zM1148 508h4v7h-4zM1216 508h4v7h-4zM1224 508h4v7h-4zM1264 508h8v7h-8zM1096 515h8v7h-8zM1116 515h4v7h-4zM1128 515h4v7h-4zM1136 515h4v7h-4zM1148 515h4v7h-4zM1156 515h8v7h-8zM1212 515h4v7h-4zM1260 515h8v7h-8zM1112 522h4v7h-4zM1144 522h4v7h-4zM1228 522h4v7h-4zM1268 522h4v7h-4zM1120 529h4v7h-4zM1136 529h4v7h-4zM1152 529h8v7h-8zM1216 529h4v7h-4zM1256 529h4v7h-4zM1100 536h4v7h-4zM1112 536h4v7h-4zM1120 536h4v7h-4zM1136 536h8v7h-8zM1216 536h4v7h-4zM1228 536h4v7h-4zM1256 536h4v7h-4zM1104 543h4v7h-4zM1112 543h8v7h-8zM1124 543h4v7h-4zM1148 543h4v7h-4zM1164 543h4v7h-4zM1220 543h8v7h-8zM1256 543h4v7h-4zM1100 550h12v7h-12zM1144 550h4v7h-4zM1160 550h4v7h-4zM1168 550h4v7h-4zM1216 550h4v7h-4zM1228 550h4v7h-4zM1236 550h4v7h-4zM1248 550h8v7h-8zM1264 550h4v7h-4zM1132 557h4v7h-4zM1152 557h4v7h-4zM1172 557h4v7h-4zM1200 557h4v7h-4zM1248 557h4v7h-4zM1112 564h8v7h-8zM1128 564h4v7h-4zM1140 564h4v7h-4zM1208 564h4v7h-4zM1228 564h4v7h-4zM1240 564h4v7h-4zM1252 564h4v7h-4zM1100 571h8v7h-8zM1116 571h4v7h-4zM1124 571h4v7h-4zM1132 571h4v7h-4zM1224 571h4v7h-4zM1120 578h4v7h-4zM1132 578h4v7h-4zM1164 578h4v7h-4zM1228 578h4v7h-4zM1244 578h4v7h-4zM1252 578h4v7h-4zM1128 585h8v7h-8zM1148 585h4v7h-4zM1236 585h4v7h-4zM1244 585h4v7h-4zM1252 585h4v7h-4zM1100 592h4v7h-4zM1136 592h4v7h-4zM1220 592h12v7h-12zM1240 592h4v7h-4zM1108 599h4v7h-4zM1136 599h4v7h-4zM1236 599h8v7h-8zM1248 599h4v7h-4zM1100 606h4v7h-4zM1224 606h8v7h-8zM1240 606h4v7h-4zM1100 613h8v7h-8zM1112 613h4v7h-4zM1184 613h4v7h-4zM1236 613h4v7h-4zM1244 613h4v7h-4zM1104 620h4v7h-4zM1120 620h8v7h-8zM1140 620h4v7h-4zM1212 620h4v7h-4zM1240 620h4v7h-4zM1248 620h4v7h-4zM1104 627h16v7h-16zM1124 627h8v7h-8zM1188 627h4v7h-4zM1220 627h4v7h-4zM1232 627h4v7h-4zM1240 627h4v7h-4zM1124 634h4v7h-4zM1188 634h4v7h-4zM1212 634h4v7h-4zM1224 634h4v7h-4zM1240 634h8v7h-8zM1108 641h4v7h-4zM1116 641h4v7h-4zM1228 641h4v7h-4zM1236 641h4v7h-4zM1116 648h4v7h-4zM1148 648h4v7h-4zM1096 655h4v7h-4zM1104 655h4v7h-4zM1120 655h4v7h-4zM1136 655h8v7h-8zM1220 655h4v7h-4zM1236 655h8v7h-8zM1220 662h4v7h-4zM1100 669h4v7h-4zM1120 669h4v7h-4zM1204 669h4v7h-4zM1212 669h4v7h-4zM1200 676h4v7h-4zM1228 683h4v7h-4zM1128 690h4v7h-4zM1216 697h4v7h-4zM1112 704h4v7h-4zM1220 704h4v7h-4zM1228 704h4v7h-4zM1100 711h4v7h-4zM1124 711h4v7h-4zM1208 711h4v7h-4zM1224 711h4v7h-4zM1092 718h4v7h-4zM1108 718h4v7h-4zM1084 725h4v7h-4zM1216 725h8v7h-8zM1192 739h4v7h-4zM1208 739h4v7h-4zM1092 746h4v7h-4zM1200 753h4v7h-4zM1216 753h4v7h-4zM1216 760h4v7h-4zM1212 767h4v7h-4zM1108 774h4v7h-4zM1176 774h4v7h-4zM1196 774h4v7h-4zM1212 774h4v7h-4zM1168 781h4v7h-4zM1180 781h4v7h-4zM1192 781h12v7h-12zM1096 788h4v7h-4zM1164 788h4v7h-4zM1176 788h8v7h-8zM1200 788h4v7h-4zM1172 795h8v7h-8zM1184 795h4v7h-4zM1192 795h4v7h-4zM1200 795h4v7h-4zM1072 802h4v7h-4zM1084 802h4v7h-4zM1164 802h4v7h-4zM1180 802h4v7h-4zM1204 802h4v7h-4zM1168 809h4v7h-4zM1192 809h8v7h-8zM1068 816h4v7h-4zM1076 816h4v7h-4zM1092 816h4v7h-4zM1164 816h8v7h-8zM1072 823h4v7h-4zM1168 823h4v7h-4zM1156 830h4v7h-4zM1168 830h4v7h-4zM1184 830h4v7h-4zM1196 830h8v7h-8zM1068 837h4v7h-4zM1188 837h8v7h-8zM1192 844h8v7h-8zM1076 851h4v7h-4zM1164 851h4v7h-4zM1172 851h4v7h-4zM1188 851h4v7h-4zM1076 858h4v7h-4zM1084 858h4v7h-4zM1164 858h4v7h-4zM1180 858h4v7h-4zM1192 858h4v7h-4zM1060 865h4v7h-4zM1068 865h4v7h-4zM1152 865h8v7h-8zM1184 865h8v7h-8zM1064 872h4v7h-4zM1156 872h4v7h-4zM1172 872h8v7h-8zM1188 872h4v7h-4zM1060 879h4v7h-4zM1172 879h4v7h-4zM1188 879h4v7h-4zM1092 886h4v7h-4zM1148 886h4v7h-4zM1172 886h4v7h-4zM1184 886h4v7h-4zM1052 893h4v7h-4zM1072 893h4v7h-4zM1168 893h4v7h-4zM1052 900h12v7h-12zM1076 900h4v7h-4zM1084 900h8v7h-8zM1056 907h4v7h-4zM1072 907h4v7h-4zM1088 907h8v7h-8zM1152 907h4v7h-4zM1052 914h4v7h-4zM1076 914h4v7h-4zM1088 914h4v7h-4zM1100 914h4v7h-4zM1148 914h4v7h-4zM1160 914h4v7h-4zM1168 914h8v7h-8zM1048 921h4v7h-4zM1060 921h4v7h-4zM1072 921h4v7h-4zM1144 921h4v7h-4zM1172 921h4v7h-4zM1048 928h4v7h-4zM1060 928h4v7h-4zM1068 928h8v7h-8zM1080 928h4v7h-4zM1088 928h4v7h-4zM1164 928h8v7h-8zM1044 935h4v7h-4zM1072 935h4v7h-4zM1084 935h4v7h-4zM1144 935h4v7h-4zM1060 942h4v7h-4zM1068 942h8v7h-8zM1168 942h8v7h-8zM1052 949h4v7h-4zM1060 949h4v7h-4zM1144 949h8v7h-8zM1164 949h8v7h-8zM1048 956h8v7h-8zM1060 956h4v7h-4zM1072 956h4v7h-4zM1080 956h4v7h-4zM1088 956h4v7h-4zM1148 956h12v7h-12zM1048 963h4v7h-4zM1056 963h4v7h-4zM1068 963h4v7h-4zM1136 963h4v7h-4zM1144 963h4v7h-4zM1164 963h4v7h-4zM1048 970h4v7h-4zM1072 970h4v7h-4zM1152 970h8v7h-8zM1040 977h8v7h-8zM1052 977h4v7h-4zM1060 977h4v7h-4zM1068 977h4v7h-4zM1080 977h4v7h-4zM1052 984h4v7h-4zM1064 984h8v7h-8zM1056 991h4v7h-4zM1076 991h4v7h-4zM1144 991h4v7h-4zM1040 998h4v7h-4zM1056 998h4v7h-4zM1064 998h4v7h-4zM1132 998h4v7h-4zM1140 998h4v7h-4zM1052 1005h4v7h-4zM1068 1005h4v7h-4zM1140 1005h4v7h-4zM1148 1005h4v7h-4zM1156 1005h4v7h-4zM1040 1012h8v7h-8zM1052 1012h4v7h-4zM1132 1012h4v7h-4zM1140 1012h4v7h-4zM1028 1019h4v7h-4zM1040 1019h4v7h-4zM1048 1019h4v7h-4zM1064 1019h4v7h-4zM1140 1019h4v7h-4zM1148 1019h4v7h-4zM1040 1026h4v7h-4zM1060 1026h8v7h-8zM1140 1026h4v7h-4zM1152 1026h4v7h-4zM1032 1033h8v7h-8zM1044 1033h4v7h-4zM1068 1033h4v7h-4zM1020 1040h4v7h-4zM1056 1040h4v7h-4zM1136 1040h8v7h-8zM1028 1047h4v7h-4zM1040 1047h4v7h-4zM1056 1047h4v7h-4zM1136 1047h4v7h-4zM1016 1054h4v7h-4zM1048 1054h4v7h-4zM1056 1054h4v7h-4zM1124 1054h4v7h-4zM1016 1061h8v7h-8zM1028 1061h8v7h-8zM1064 1061h4v7h-4zM1128 1061h4v7h-4zM1048 1068h4v7h-4zM1140 1068h4v7h-4zM1052 1075h4v7h-4zM1116 1075h4v7h-4zM1016 1082h4v7h-4zM1028 1082h8v7h-8zM1040 1082h4v7h-4zM1048 1082h8v7h-8zM1124 1082h8v7h-8zM1032 1089h4v7h-4zM1116 1089h4v7h-4zM1016 1096h8v7h-8zM1036 1096h4v7h-4zM1044 1096h4v7h-4zM1068 1096h4v7h-4zM1040 1103h8v7h-8zM1124 1103h4v7h-4zM1136 1103h4v7h-4zM1004 1110h4v7h-4zM1020 1117h4v7h-4zM1036 1117h4v7h-4zM1104 1117h4v7h-4zM1124 1117h4v7h-4zM1024 1124h8v7h-8zM1036 1124h4v7h-4zM1044 1124h4v7h-4zM1100 1124h4v7h-4zM1128 1124h4v7h-4zM1004 1131h4v7h-4zM1028 1131h4v7h-4zM1016 1138h8v7h-8zM1032 1138h4v7h-4zM1096 1138h12v7h-12zM1112 1138h4v7h-4zM1128 1138h4v7h-4zM1024 1145h4v7h-4zM1100 1145h4v7h-4zM1108 1145h4v7h-4zM1120 1145h4v7h-4zM996 1152h4v7h-4zM1016 1152h4v7h-4zM1092 1152h4v7h-4zM1108 1152h8v7h-8zM1024 1159h4v7h-4zM1084 1159h4v7h-4zM1104 1159h16v7h-16zM996 1166h4v7h-4zM1024 1166h4v7h-4zM1084 1166h4v7h-4zM1120 1166h4v7h-4zM1088 1173h4v7h-4zM988 1180h4v7h-4zM1012 1180h12v7h-12zM988 1187h4v7h-4zM1012 1187h4v7h-4zM1076 1187h4v7h-4zM1100 1187h4v7h-4zM1116 1187h4v7h-4zM992 1194h12v7h-12zM1108 1194h4v7h-4zM988 1201h8v7h-8zM1012 1201h12v7h-12zM1080 1201h12v7h-12zM1096 1201h8v7h-8zM1004 1208h4v7h-4zM1076 1208h4v7h-4zM1108 1208h8v7h-8zM980 1215h4v7h-4zM1000 1215h12v7h-12zM1016 1215h4v7h-4zM1092 1215h4v7h-4zM1108 1215h4v7h-4zM976 1222h4v7h-4zM1016 1222h4v7h-4zM1084 1222h4v7h-4zM988 1229h4v7h-4zM1016 1229h4v7h-4zM1080 1229h4v7h-4zM1092 1229h4v7h-4zM1100 1229h8v7h-8zM980 1236h4v7h-4zM988 1236h4v7h-4zM996 1236h4v7h-4zM1004 1236h4v7h-4zM1040 1236h4v7h-4zM1080 1236h4v7h-4zM976 1243h4v7h-4zM984 1243h8v7h-8zM1012 1243h4v7h-4zM1064 1243h4v7h-4zM1072 1243h4v7h-4zM1088 1243h4v7h-4zM1100 1243h4v7h-4zM1108 1243h4v7h-4zM984 1250h4v7h-4zM992 1250h4v7h-4zM1004 1250h4v7h-4zM1012 1250h4v7h-4zM1068 1250h4v7h-4zM1076 1250h16v7h-16zM1100 1250h8v7h-8zM984 1257h4v7h-4zM992 1257h12v7h-12zM1024 1257h4v7h-4zM1080 1257h4v7h-4zM1092 1257h8v7h-8zM992 1264h4v7h-4zM1000 1264h4v7h-4zM1100 1264h4v7h-4zM980 1271h8v7h-8zM992 1271h8v7h-8zM1056 1271h4v7h-4zM1088 1271h4v7h-4zM1104 1271h4v7h-4zM964 1278h4v7h-4zM992 1278h4v7h-4zM1060 1278h4v7h-4zM1084 1278h4v7h-4zM1092 1278h4v7h-4zM992 1285h4v7h-4zM1000 1285h4v7h-4zM1072 1285h4v7h-4zM1100 1285h4v7h-4zM960 1292h4v7h-4zM1004 1292h4v7h-4zM1072 1292h12v7h-12zM1088 1292h4v7h-4zM964 1299h4v7h-4zM972 1299h8v7h-8zM1076 1299h4v7h-4zM980 1306h4v7h-4zM996 1306h4v7h-4zM1056 1306h4v7h-4zM1076 1306h8v7h-8zM1088 1306h8v7h-8zM952 1313h4v7h-4zM972 1313h4v7h-4zM988 1313h4v7h-4zM996 1313h8v7h-8zM1008 1313h4v7h-4zM1072 1313h4v7h-4zM1084 1313h8v7h-8zM952 1320h8v7h-8zM964 1320h4v7h-4zM988 1320h8v7h-8zM1004 1320h4v7h-4zM1060 1320h4v7h-4zM1072 1320h4v7h-4zM1084 1320h8v7h-8zM948 1327h4v7h-4zM956 1327h4v7h-4zM968 1327h16v7h-16zM988 1327h4v7h-4zM1004 1327h4v7h-4zM1056 1327h12v7h-12zM1096 1327h4v7h-4zM948 1334h4v7h-4zM960 1334h4v7h-4zM1068 1334h4v7h-4zM1088 1334h8v7h-8zM948 1341h4v7h-4zM964 1341h8v7h-8zM980 1341h4v7h-4zM988 1341h4v7h-4zM1072 1341h8v7h-8zM944 1348h4v7h-4zM960 1348h12v7h-12zM992 1348h8v7h-8zM1068 1348h4v7h-4zM964 1355h20v7h-20zM992 1355h8v7h-8zM1048 1355h4v7h-4zM1088 1355h8v7h-8zM940 1362h4v7h-4zM960 1362h4v7h-4zM988 1362h4v7h-4zM1036 1362h4v7h-4zM1084 1362h4v7h-4zM940 1369h4v7h-4zM952 1369h12v7h-12zM968 1369h8v7h-8zM984 1369h4v7h-4zM1020 1369h12v7h-12zM1040 1369h4v7h-4zM1048 1369h4v7h-4zM1068 1369h4v7h-4zM960 1376h4v7h-4zM1000 1376h4v7h-4zM1036 1376h4v7h-4zM1056 1376h8v7h-8zM948 1383h4v7h-4zM956 1383h4v7h-4zM964 1383h4v7h-4zM984 1383h4v7h-4zM1036 1383h4v7h-4zM1044 1383h4v7h-4zM1052 1383h4v7h-4zM1084 1383h4v7h-4zM1092 1383h4v7h-4zM948 1390h4v7h-4zM980 1390h4v7h-4zM988 1390h4v7h-4zM1024 1390h4v7h-4zM1080 1390h4v7h-4zM1088 1390h4v7h-4zM948 1397h4v7h-4zM1032 1397h4v7h-4zM1040 1397h4v7h-4zM1056 1397h4v7h-4zM1092 1397h4v7h-4zM948 1404h4v7h-4zM960 1404h4v7h-4zM976 1404h8v7h-8zM1000 1404h4v7h-4zM1024 1404h4v7h-4zM1068 1404h4v7h-4zM1080 1404h4v7h-4zM940 1411h4v7h-4zM952 1411h4v7h-4zM980 1411h4v7h-4zM988 1411h4v7h-4zM1008 1411h4v7h-4zM1036 1411h4v7h-4zM1052 1411h4v7h-4zM1068 1411h12v7h-12zM1084 1411h4v7h-4zM956 1418h4v7h-4zM976 1418h4v7h-4zM984 1418h4v7h-4zM1040 1418h4v7h-4zM1092 1418h4v7h-4z"/>
<path fill="#e9ff0e" d="M1144 445h8v7h-8zM1232 445h4v7h-4zM1240 445h4v7h-4zM1260 445h4v7h-4zM1232 452h28v7h-28zM1264 452h8v7h-8zM1188 459h4v7h-4zM1252 459h4v7h-4zM1268 459h4v7h-4zM1212 466h4v7h-4zM1248 466h4v7h-4zM1264 466h4v7h-4zM1260 473h8v7h-8zM1164 480h4v7h-4zM1188 480h4v7h-4zM1260 480h8v7h-8zM1272 480h4v7h-4zM1136 487h4v7h-4zM1220 487h4v7h-4zM1232 487h4v7h-4zM1268 487h8v7h-8zM1104 501h4v7h-4zM1112 501h4v7h-4zM1124 501h4v7h-4zM1180 501h4v7h-4zM1224 501h4v7h-4zM1232 501h4v7h-4zM1268 501h4v7h-4zM1096 508h8v7h-8zM1228 508h8v7h-8zM1260 508h4v7h-4zM1104 515h8v7h-8zM1224 515h4v7h-4zM1236 515h4v7h-4zM1256 515h4v7h-4zM1100 522h4v7h-4zM1108 522h4v7h-4zM1120 522h4v7h-4zM1164 522h4v7h-4zM1216 522h4v7h-4zM1232 522h12v7h-12zM1260 522h4v7h-4zM1128 529h4v7h-4zM1168 529h4v7h-4zM1104 536h8v7h-8zM1128 536h4v7h-4zM1204 536h4v7h-4zM1232 536h8v7h-8zM1244 536h4v7h-4zM1260 536h4v7h-4zM1120 543h4v7h-4zM1136 543h4v7h-4zM1112 550h4v7h-4zM1120 550h4v7h-4zM1132 550h4v7h-4zM1224 550h4v7h-4zM1240 550h4v7h-4zM1256 550h4v7h-4zM1100 557h8v7h-8zM1112 557h4v7h-4zM1228 557h16v7h-16zM1100 564h4v7h-4zM1120 564h8v7h-8zM1224 564h4v7h-4zM1244 564h4v7h-4zM1260 564h4v7h-4zM1140 571h4v7h-4zM1208 571h4v7h-4zM1220 571h4v7h-4zM1252 571h8v7h-8zM1124 578h4v7h-4zM1224 578h4v7h-4zM1232 578h4v7h-4zM1120 585h8v7h-8zM1140 585h4v7h-4zM1104 592h4v7h-4zM1128 592h8v7h-8zM1232 592h4v7h-4zM1096 599h8v7h-8zM1128 599h4v7h-4zM1140 599h4v7h-4zM1232 599h4v7h-4zM1104 606h8v7h-8zM1128 606h4v7h-4zM1232 606h8v7h-8zM1248 606h4v7h-4zM1096 613h4v7h-4zM1108 613h4v7h-4zM1116 613h4v7h-4zM1128 613h4v7h-4zM1240 613h4v7h-4zM1096 620h4v7h-4zM1116 620h4v7h-4zM1128 620h4v7h-4zM1228 620h4v7h-4zM1248 627h4v7h-4zM1112 634h4v7h-4zM1128 634h4v7h-4zM1100 641h4v7h-4zM1232 641h4v7h-4zM1240 641h8v7h-8zM1096 648h4v7h-4zM1236 648h4v7h-4zM1112 655h4v7h-4zM1100 662h4v7h-4zM1232 662h4v7h-4zM1236 669h4v7h-4zM1120 676h4v7h-4zM1216 676h4v7h-4zM1236 676h4v7h-4zM1232 683h8v7h-8zM1092 697h4v7h-4zM1092 704h4v7h-4zM1224 704h4v7h-4zM1092 711h4v7h-4zM1196 711h4v7h-4zM1220 711h4v7h-4zM1200 718h4v7h-4zM1220 732h4v7h-4zM1200 739h4v7h-4zM1216 739h4v7h-4zM1220 746h4v7h-4zM1196 760h4v7h-4zM1212 760h4v7h-4zM1176 767h4v7h-4zM1196 767h4v7h-4zM1204 767h4v7h-4zM1188 774h8v7h-8zM1184 788h4v7h-4zM1204 788h4v7h-4zM1180 795h4v7h-4zM1196 795h4v7h-4zM1172 802h8v7h-8zM1188 802h8v7h-8zM1172 809h8v7h-8zM1188 809h4v7h-4zM1176 816h8v7h-8zM1196 816h8v7h-8zM1068 823h4v7h-4zM1096 823h4v7h-4zM1184 823h4v7h-4zM1192 823h4v7h-4zM1172 830h4v7h-4zM1172 837h4v7h-4zM1180 837h4v7h-4zM1196 837h4v7h-4zM1160 844h8v7h-8zM1180 844h4v7h-4zM1176 851h4v7h-4zM1172 858h4v7h-4zM1188 858h4v7h-4zM1064 865h4v7h-4zM1072 865h4v7h-4zM1080 865h4v7h-4zM1160 865h4v7h-4zM1168 865h4v7h-4zM1068 872h4v7h-4zM1160 872h4v7h-4zM1168 872h4v7h-4zM1080 879h4v7h-4zM1148 879h4v7h-4zM1168 879h4v7h-4zM1056 886h4v7h-4zM1084 886h4v7h-4zM1152 886h20v7h-20zM1176 886h4v7h-4zM1056 893h4v7h-4zM1064 893h4v7h-4zM1076 893h4v7h-4zM1172 893h4v7h-4zM1064 900h4v7h-4zM1080 900h4v7h-4zM1148 900h4v7h-4zM1164 900h8v7h-8zM1180 900h4v7h-4zM1048 907h8v7h-8zM1068 907h4v7h-4zM1080 914h8v7h-8zM1084 921h4v7h-4zM1148 921h4v7h-4zM1052 928h4v7h-4zM1148 928h4v7h-4zM1052 935h4v7h-4zM1160 942h4v7h-4zM1056 949h4v7h-4zM1064 949h4v7h-4zM1160 949h4v7h-4zM1076 956h4v7h-4zM1140 956h4v7h-4zM1060 963h4v7h-4zM1072 963h8v7h-8zM1160 963h4v7h-4zM1036 970h4v7h-4zM1052 970h4v7h-4zM1064 970h4v7h-4zM1072 977h4v7h-4zM1132 977h4v7h-4zM1160 977h4v7h-4zM1036 984h4v7h-4zM1060 984h4v7h-4zM1152 984h12v7h-12zM1136 991h8v7h-8zM1148 991h8v7h-8zM1052 998h4v7h-4zM1144 998h4v7h-4zM1036 1005h8v7h-8zM1060 1005h4v7h-4zM1028 1012h8v7h-8zM1024 1019h4v7h-4zM1032 1019h4v7h-4zM1060 1019h4v7h-4zM1024 1026h4v7h-4zM1036 1026h4v7h-4zM1048 1026h4v7h-4zM1056 1026h4v7h-4zM1148 1033h4v7h-4zM1020 1047h4v7h-4zM1028 1054h4v7h-4zM1044 1054h4v7h-4zM1144 1054h4v7h-4zM1040 1061h8v7h-8zM1020 1068h4v7h-4zM1028 1068h4v7h-4zM1128 1068h4v7h-4zM1136 1068h4v7h-4zM1032 1075h4v7h-4zM1048 1075h4v7h-4zM1044 1082h4v7h-4zM1136 1082h4v7h-4zM1040 1089h4v7h-4zM1124 1089h4v7h-4zM1136 1089h4v7h-4zM1024 1096h4v7h-4zM1116 1096h4v7h-4zM1004 1103h4v7h-4zM1020 1103h4v7h-4zM1116 1103h4v7h-4zM1132 1103h4v7h-4zM1116 1110h4v7h-4zM1012 1117h4v7h-4zM1032 1117h4v7h-4zM1128 1117h4v7h-4zM1108 1124h4v7h-4zM1116 1124h8v7h-8zM1108 1131h8v7h-8zM1124 1131h4v7h-4zM1004 1138h4v7h-4zM1108 1138h4v7h-4zM1000 1145h4v7h-4zM1092 1145h4v7h-4zM1104 1145h4v7h-4zM1128 1145h4v7h-4zM1096 1152h8v7h-8zM1004 1159h4v7h-4zM1000 1166h8v7h-8zM1000 1180h4v7h-4zM1076 1180h4v7h-4zM1116 1180h4v7h-4zM1000 1187h4v7h-4zM1092 1187h4v7h-4zM1108 1187h4v7h-4zM984 1194h4v7h-4zM1004 1194h4v7h-4zM1104 1194h4v7h-4zM1112 1194h4v7h-4zM1112 1201h8v7h-8zM1000 1208h4v7h-4zM1096 1208h12v7h-12zM1084 1215h4v7h-4zM984 1222h4v7h-4zM992 1222h4v7h-4zM1000 1222h4v7h-4zM1108 1222h4v7h-4zM1084 1229h8v7h-8zM1112 1229h4v7h-4zM1072 1236h4v7h-4zM1096 1236h8v7h-8zM980 1243h4v7h-4zM992 1243h4v7h-4zM1080 1243h4v7h-4zM1000 1250h4v7h-4zM1092 1250h4v7h-4zM972 1257h4v7h-4zM980 1257h4v7h-4zM988 1257h4v7h-4zM1004 1257h4v7h-4zM1100 1257h8v7h-8zM988 1264h4v7h-4zM1096 1264h4v7h-4zM964 1271h4v7h-4zM1000 1271h4v7h-4zM1084 1271h4v7h-4zM1100 1271h4v7h-4zM968 1278h8v7h-8zM980 1278h4v7h-4zM1096 1278h8v7h-8zM972 1285h4v7h-4zM980 1285h8v7h-8zM964 1292h4v7h-4zM980 1292h4v7h-4zM992 1292h4v7h-4zM1092 1292h12v7h-12zM960 1299h4v7h-4zM980 1299h4v7h-4zM1000 1299h4v7h-4zM1088 1299h4v7h-4zM964 1306h8v7h-8zM1084 1306h4v7h-4zM964 1313h8v7h-8zM976 1313h4v7h-4zM1076 1313h4v7h-4zM972 1320h12v7h-12zM1080 1320h4v7h-4zM1092 1320h4v7h-4zM952 1327h4v7h-4zM1068 1327h4v7h-4zM1076 1327h4v7h-4zM1088 1327h4v7h-4zM952 1334h4v7h-4zM980 1334h4v7h-4zM1064 1334h4v7h-4zM1072 1334h4v7h-4zM1096 1334h4v7h-4zM956 1341h4v7h-4zM1056 1341h4v7h-4zM1088 1341h4v7h-4zM972 1348h4v7h-4zM1080 1348h4v7h-4zM944 1355h4v7h-4zM952 1355h4v7h-4zM1052 1355h4v7h-4zM1084 1355h4v7h-4zM952 1362h8v7h-8zM972 1362h4v7h-4zM1044 1362h8v7h-8zM1056 1362h4v7h-4zM1080 1362h4v7h-4zM1076 1369h4v7h-4zM1084 1369h4v7h-4zM968 1376h4v7h-4zM1044 1376h4v7h-4zM1052 1376h4v7h-4zM1080 1383h4v7h-4zM1064 1390h4v7h-4zM1076 1390h4v7h-4zM944 1397h4v7h-4zM1048 1397h8v7h-8zM1072 1397h4v7h-4zM1048 1404h4v7h-4zM1076 1404h4v7h-4zM1088 1404h8v7h-8zM1040 1411h4v7h-4zM1056 1411h4v7h-4zM1064 1411h4v7h-4zM1080 1411h4v7h-4zM960 1418h4v7h-4zM1008 1418h4v7h-4zM1060 1418h4v7h-4zM1080 1418h4v7h-4zM1088 1418h4v7h-4z"/>
<path fill="#ffe600" d="M1220 445h4v7h-4zM1236 445h4v7h-4zM1248 445h4v7h-4zM1228 452h4v7h-4zM1264 459h4v7h-4zM1228 466h4v7h-4zM1240 466h4v7h-4zM1256 466h4v7h-4zM1220 473h4v7h-4zM1228 473h4v7h-4zM1248 473h4v7h-4zM1224 480h12v7h-12zM1244 480h4v7h-4zM1256 480h4v7h-4zM1228 487h4v7h-4zM1096 494h4v7h-4zM1220 494h4v7h-4zM1268 494h4v7h-4zM1240 501h4v7h-4zM1260 501h8v7h-8zM1124 508h4v7h-4zM1112 515h4v7h-4zM1120 515h4v7h-4zM1116 522h4v7h-4zM1140 522h4v7h-4zM1256 522h4v7h-4zM1104 529h4v7h-4zM1116 529h4v7h-4zM1252 529h4v7h-4zM1260 529h8v7h-8zM1116 536h4v7h-4zM1248 536h4v7h-4zM1108 543h4v7h-4zM1232 543h8v7h-8zM1248 543h4v7h-4zM1128 550h4v7h-4zM1136 550h4v7h-4zM1176 550h4v7h-4zM1244 550h4v7h-4zM1116 557h4v7h-4zM1136 557h4v7h-4zM1244 557h4v7h-4zM1252 557h4v7h-4zM1108 564h4v7h-4zM1248 564h4v7h-4zM1128 571h4v7h-4zM1236 571h4v7h-4zM1104 578h16v7h-16zM1128 578h4v7h-4zM1140 578h4v7h-4zM1236 578h4v7h-4zM1100 585h4v7h-4zM1108 585h4v7h-4zM1116 592h8v7h-8zM1104 599h4v7h-4zM1116 599h12v7h-12zM1120 606h8v7h-8zM1132 613h4v7h-4zM1204 613h4v7h-4zM1108 634h4v7h-4zM1132 641h4v7h-4zM1232 669h4v7h-4zM1224 683h4v7h-4zM1232 697h4v7h-4zM1184 774h4v7h-4zM1200 774h4v7h-4zM1176 781h4v7h-4zM1184 781h8v7h-8zM1192 788h4v7h-4zM1196 802h8v7h-8zM1180 809h4v7h-4zM1184 816h4v7h-4zM1192 816h4v7h-4zM1188 823h4v7h-4zM1200 823h4v7h-4zM1180 830h4v7h-4zM1192 830h4v7h-4zM1168 837h4v7h-4zM1168 851h4v7h-4zM1064 858h4v7h-4zM1156 858h4v7h-4zM1168 858h4v7h-4zM1072 872h4v7h-4zM1164 872h4v7h-4zM1056 879h4v7h-4zM1076 879h4v7h-4zM1092 879h4v7h-4zM1176 879h4v7h-4zM1060 886h4v7h-4zM1072 886h4v7h-4zM1080 886h4v7h-4zM1088 886h4v7h-4zM1068 893h4v7h-4zM1144 893h4v7h-4zM1164 893h4v7h-4zM1068 900h4v7h-4zM1112 900h4v7h-4zM1060 907h8v7h-8zM1080 907h4v7h-4zM1176 914h4v7h-4zM1052 921h4v7h-4zM1064 921h8v7h-8zM1056 928h4v7h-4zM1068 935h4v7h-4zM1052 942h4v7h-4zM1076 942h4v7h-4zM1044 949h4v7h-4zM1068 949h12v7h-12zM1044 956h4v7h-4zM1064 956h4v7h-4zM1148 963h4v7h-4zM1140 970h4v7h-4zM1036 977h4v7h-4zM1140 977h12v7h-12zM1048 984h4v7h-4zM1140 984h4v7h-4zM1032 998h4v7h-4zM1044 1005h4v7h-4zM1156 1012h4v7h-4zM1032 1040h4v7h-4zM1148 1047h4v7h-4zM1024 1061h4v7h-4zM1140 1061h4v7h-4zM1016 1068h4v7h-4zM1028 1075h4v7h-4zM1020 1089h4v7h-4zM1036 1089h4v7h-4zM1124 1096h4v7h-4zM1108 1110h4v7h-4zM1120 1110h4v7h-4zM1128 1110h8v7h-8zM1132 1124h4v7h-4zM1008 1138h4v7h-4zM1008 1166h8v7h-8zM996 1173h4v7h-4zM1004 1173h4v7h-4zM1112 1187h4v7h-4zM1100 1194h4v7h-4zM996 1208h4v7h-4zM1028 1215h4v7h-4zM980 1222h4v7h-4zM996 1222h4v7h-4zM1088 1222h4v7h-4zM1096 1222h4v7h-4zM1076 1229h4v7h-4zM976 1236h4v7h-4zM1076 1236h4v7h-4zM1092 1236h4v7h-4zM1104 1236h4v7h-4zM984 1264h4v7h-4zM1088 1264h4v7h-4zM972 1271h8v7h-8zM1000 1278h4v7h-4zM1048 1278h4v7h-4zM1072 1278h4v7h-4zM964 1285h8v7h-8zM976 1285h4v7h-4zM988 1285h4v7h-4zM976 1292h4v7h-4zM988 1292h4v7h-4zM1084 1292h4v7h-4zM968 1299h4v7h-4zM988 1299h4v7h-4zM976 1306h4v7h-4zM988 1306h4v7h-4zM980 1313h4v7h-4zM1092 1313h4v7h-4zM1096 1320h4v7h-4zM964 1334h4v7h-4zM1076 1334h4v7h-4zM976 1341h4v7h-4zM984 1341h4v7h-4zM1064 1341h8v7h-8zM1092 1341h4v7h-4zM1056 1348h4v7h-4zM1064 1348h4v7h-4zM1072 1348h8v7h-8zM1072 1362h8v7h-8zM1036 1369h4v7h-4zM1052 1369h8v7h-8zM1088 1369h8v7h-8zM1076 1376h8v7h-8zM1088 1376h4v7h-4zM992 1383h4v7h-4zM1056 1383h4v7h-4zM1064 1383h4v7h-4zM1068 1390h8v7h-8zM1060 1397h12v7h-12zM1084 1397h8v7h-8zM1056 1404h12v7h-12zM1084 1404h4v7h-4zM1092 1411h4v7h-4zM1068 1418h8v7h-8z"/>
<path fill="#ffc600" d="M1184 459h4v7h-4zM1224 459h4v7h-4zM1236 459h4v7h-4zM1232 466h8v7h-8zM1252 466h4v7h-4zM1216 473h4v7h-4zM1244 473h4v7h-4zM1252 473h4v7h-4zM1248 480h4v7h-4zM1260 487h4v7h-4zM1244 494h4v7h-4zM1096 501h4v7h-4zM1252 501h8v7h-8zM1136 508h4v7h-4zM1248 508h4v7h-4zM1240 515h4v7h-4zM1252 515h4v7h-4zM1240 529h4v7h-4zM1124 536h4v7h-4zM1100 543h4v7h-4zM1240 543h8v7h-8zM1124 557h4v7h-4zM1112 571h4v7h-4zM1120 571h4v7h-4zM1116 585h4v7h-4zM1256 585h4v7h-4zM1248 592h4v7h-4zM1112 606h8v7h-8zM1092 662h4v7h-4zM1184 802h4v7h-4zM1200 809h4v7h-4zM1188 816h4v7h-4zM1196 823h4v7h-4zM1176 837h4v7h-4zM1184 837h4v7h-4zM1160 858h4v7h-4zM1172 865h4v7h-4zM1184 872h4v7h-4zM1064 879h8v7h-8zM1084 879h8v7h-8zM1064 886h8v7h-8zM1080 893h12v7h-12zM1160 893h4v7h-4zM1176 893h4v7h-4zM1156 900h4v7h-4zM1076 907h4v7h-4zM1180 914h4v7h-4zM1044 942h4v7h-4zM1056 942h4v7h-4zM1080 949h4v7h-4zM1136 970h4v7h-4zM1144 970h8v7h-8zM1144 984h4v7h-4zM1028 1005h8v7h-8zM1056 1005h4v7h-4zM1024 1075h4v7h-4zM1024 1089h8v7h-8zM1112 1166h4v7h-4zM1000 1173h4v7h-4zM1008 1173h8v7h-8zM1076 1201h4v7h-4zM1092 1201h4v7h-4zM984 1215h4v7h-4zM1104 1215h4v7h-4zM988 1222h4v7h-4zM992 1236h4v7h-4zM976 1250h4v7h-4zM980 1264h4v7h-4zM1076 1264h4v7h-4zM972 1292h4v7h-4zM984 1299h4v7h-4zM972 1306h4v7h-4zM1072 1306h4v7h-4zM1060 1341h4v7h-4zM1088 1348h4v7h-4zM1060 1355h4v7h-4zM1072 1355h12v7h-12zM1060 1362h4v7h-4zM1060 1369h4v7h-4zM1072 1369h4v7h-4zM1080 1369h4v7h-4zM1064 1376h4v7h-4zM1072 1376h4v7h-4zM1084 1376h4v7h-4zM1060 1383h4v7h-4zM1068 1383h4v7h-4zM1088 1383h4v7h-4zM1084 1390h4v7h-4zM1092 1390h4v7h-4zM1076 1397h8v7h-8zM1072 1404h4v7h-4zM1088 1411h4v7h-4zM940 1418h4v7h-4zM1048 1418h4v7h-4z"/>
<path fill="#ffa700" d="M1244 459h4v7h-4zM1244 466h4v7h-4zM1224 473h4v7h-4zM1232 473h4v7h-4zM1256 473h4v7h-4zM1236 480h4v7h-4zM1244 487h8v7h-8zM1256 487h4v7h-4zM1172 494h4v7h-4zM1236 494h8v7h-8zM1252 494h4v7h-4zM1260 494h4v7h-4zM1236 501h4v7h-4zM1244 508h4v7h-4zM1256 508h4v7h-4zM1248 515h4v7h-4zM1244 522h8v7h-8zM1236 529h4v7h-4zM1148 536h4v7h-4zM1240 536h4v7h-4zM1252 536h4v7h-4zM1104 585h4v7h-4zM1212 627h4v7h-4zM1204 683h4v7h-4zM1208 788h4v7h-4zM1188 795h4v7h-4zM1184 809h4v7h-4zM1076 844h4v7h-4zM1172 844h4v7h-4zM1164 865h4v7h-4zM1084 872h4v7h-4zM1148 893h4v7h-4zM1084 907h4v7h-4zM1064 928h4v7h-4zM1056 935h4v7h-4zM1064 935h4v7h-4zM1064 942h4v7h-4zM1164 977h4v7h-4zM1136 984h4v7h-4zM1052 991h4v7h-4zM1016 1131h4v7h-4zM1004 1145h8v7h-8zM1112 1173h4v7h-4zM956 1299h4v7h-4zM1080 1299h8v7h-8zM960 1313h4v7h-4zM960 1327h4v7h-4zM1092 1348h4v7h-4zM1064 1355h4v7h-4zM1064 1362h4v7h-4zM1092 1376h4v7h-4zM1072 1383h8v7h-8zM1060 1390h4v7h-4zM1036 1404h4v7h-4zM1060 1411h4v7h-4zM1076 1418h4v7h-4z"/>
<path fill="#ff8700" d="M1236 473h8v7h-8zM1240 480h4v7h-4zM1252 480h4v7h-4zM1236 487h8v7h-8zM1256 494h4v7h-4zM1248 501h4v7h-4zM1240 508h4v7h-4zM1252 508h4v7h-4zM1244 515h4v7h-4zM1252 522h4v7h-4zM1244 529h8v7h-8zM1108 571h4v7h-4zM1112 585h4v7h-4zM1108 592h4v7h-4zM1112 599h4v7h-4zM1168 844h4v7h-4zM1176 865h4v7h-4zM1072 879h4v7h-4zM1156 893h4v7h-4zM1160 900h4v7h-4zM1060 935h4v7h-4zM1136 977h4v7h-4zM1024 1068h4v7h-4zM1020 1075h4v7h-4zM1020 1082h8v7h-8zM984 1208h4v7h-4zM968 1320h4v7h-4zM984 1327h4v7h-4zM1068 1355h4v7h-4zM1068 1362h4v7h-4z"/>
<path fill="#ff6800" d="M1248 494h4v7h-4zM1244 501h4v7h-4zM1176 844h4v7h-4zM1076 886h4v7h-4zM1000 1229h4v7h-4zM1064 1369h4v7h-4zM1068 1376h4v7h-4zM1056 1390h4v7h-4z"/>
<path fill="#ff4800" d="M1264 487h4v7h-4zM1112 592h4v7h-4zM1112 620h4v7h-4zM1152 893h4v7h-4z"/>
</g>
<path d="M952.7 1357.9L968.3 1374.9L985.3 1387.7L987 1385.4L970 1372.5L954.8 1355.5Z" fill="#0010d8"/>
<path d="M954.8 1355.5L970 1372.5L987 1385.4L989 1383.4L972 1370.3L957 1353.4Z" fill="#0078ff" opacity="0.75"/>
</g>
<path d="M810.0 362.0L801.2 367.0L796.2 372.5L795.0 379.5L798.0 383.8L791.2 383.0L780.5 384.5L781.2 380.0L762.5 380.5L755.5 383.8L750.0 391.2L740.0 395.0L743.0 400.0L725.0 408.8L727.5 413.0L731.2 416.2L722.5 421.2L729.5 422.5L712.5 431.2L693.8 427.5L692.5 424.5L680.0 425.5L682.0 430.0L690.0 433.8L690.0 436.2L715.0 435.0L722.5 437.5L730.0 435.5L733.8 430.0L762.5 428.8L765.0 432.5L760.0 436.2L763.8 440.0L757.5 443.8L758.8 448.8L755.0 452.5L761.2 460.0L758.8 463.8L763.8 465.0L761.2 470.0L756.2 472.5L752.5 481.2L766.2 477.5L760.0 486.2L757.5 492.5L751.2 495.0L748.8 506.2L742.5 508.8L751.2 511.2L740.0 517.5L736.2 525.0L738.8 530.0L735.0 536.2L730.0 537.5L735.0 541.2L725.0 547.5L720.0 550.0L717.5 555.0L721.2 557.5L720.0 565.0L722.5 572.5L716.2 582.5L712.5 586.2L711.2 591.2L702.5 600.0L691.2 613.8L687.5 622.5L680.0 632.5L676.2 645.0L675.5 653.8L678.8 656.2L675.5 661.2L677.0 675.0L675.0 682.5M780.5 384.5L767.5 385.5L758.8 394.5L763.8 398.8L775.0 395.0L797.5 392.0M735.0 436.2L743.8 440.0L752.5 438.8L760.0 436.2M810.0 362.0L815.5 363.8L821.2 368.8L813.8 373.8L812.5 378.8L817.5 380.0L823.8 373.8L827.5 370.0L835.0 366.2L842.5 362.0M847.5 363.0L862.5 365.5L865.0 371.2L872.5 375.0L865.0 381.2L863.8 386.2L860.0 387.5L860.0 403.8L855.0 417.5L851.2 426.2L841.2 432.5L840.0 437.5L843.8 441.2L840.0 447.5L832.5 452.5L831.2 463.8L830.0 466.2M718.8 550.0L727.5 547.5L733.8 555.0L732.5 567.5L727.5 577.5L720.0 585.0L717.5 581.2L722.5 570.0L721.2 557.5L718.8 550.0M725.0 552.5L730.0 562.5L725.0 575.0M823.8 477.5L816.2 480.5L818.8 489.5L826.2 499.5L833.8 503.8L840.0 500.0L861.2 499.2L860.0 495.5L843.8 497.5L840.8 489.5L837.5 497.0L828.8 499.5M855.0 562.0L847.5 564.5L845.0 575.0L846.2 588.8L851.2 585.0L853.8 573.8L855.5 562.5M850.5 567.0L848.0 581.2M853.8 615.0L877.5 603.8L885.0 604.5L887.5 610.0L891.2 610.0L892.0 618.8L882.5 617.5L870.0 612.5L862.5 617.5L853.8 615.0M875.0 621.2L868.8 630.0L865.0 640.0L865.0 650.0L870.0 647.5L875.0 632.5L880.0 621.2L875.0 621.2M882.5 618.8L890.0 625.0L897.5 621.2L907.5 627.5L910.0 632.5L902.5 637.5L897.5 642.5L892.5 635.0L890.0 627.5L882.5 618.8M887.5 630.0L885.0 637.5L890.0 640.0M885.0 648.8L893.8 653.0L907.5 647.5L925.0 641.2L923.8 637.5L907.5 641.2L892.5 646.2L885.0 648.8M926.2 670.0L923.8 675.0L930.0 662.5L936.2 658.8L953.8 655.5L947.5 653.8L955.0 645.0L961.2 641.2L977.5 635.0L973.8 642.5L980.0 645.0L992.8 637.5M926.2 670.0L922.5 666.2L912.5 672.5L910.0 682.5L917.5 688.8L911.2 695.0M1080.0 416.2L1090.0 412.0L1103.8 412.5L1110.0 417.5L1120.0 417.0L1125.5 419.5L1126.2 435.0L1131.2 443.8L1137.5 448.8L1141.2 460.0L1143.8 467.5M1148.8 487.0L1143.8 493.8L1132.5 500.0L1121.2 500.0L1122.0 503.8L1110.0 512.0L1106.2 515.0L1097.5 518.0L1093.0 525.0L1090.0 536.2L1088.8 549.5L1080.0 550.0M1152.5 510.0L1160.0 507.0L1170.0 510.0L1177.5 504.5L1185.0 506.2L1191.2 512.5L1186.2 520.0L1177.5 523.8L1165.0 522.5L1158.8 518.0L1152.5 513.8M1501.0 602.0L1508.8 606.2L1512.5 612.5L1510.0 618.8L1502.5 623.0L1501.0 623.5M1501.0 665.5L1503.8 661.2L1508.0 660.0L1510.5 668.8L1516.2 677.5L1518.8 685.0M1508.8 560.0L1511.2 551.2L1518.8 547.5L1525.0 551.2L1530.0 558.8L1527.5 562.5L1532.5 562.5L1527.5 568.8L1531.2 572.5L1530.0 575.0L1536.2 578.8L1540.0 585.0L1550.0 586.2L1552.5 593.8L1560.0 590.0L1569.5 596.2L1567.5 601.2L1562.5 596.2L1556.2 591.2L1555.0 596.2L1567.5 607.5L1575.0 612.5L1582.5 622.5L1592.5 637.5L1585.0 642.5L1567.5 638.8L1560.0 630.0L1557.5 620.0L1555.0 611.2L1536.2 600.0L1526.2 591.2L1518.8 582.5L1511.2 572.5L1508.8 567.5L1508.8 560.0M1501.2 558.8L1508.8 563.8M1545.0 527.5L1548.0 525.0L1550.0 532.5L1556.2 540.0L1563.8 542.5L1567.5 548.8L1572.5 558.8L1567.5 562.5L1561.2 561.2L1552.5 550.0L1547.5 542.5L1543.8 536.2L1545.0 527.5M1560.0 675.0L1565.0 682.5L1572.5 686.2L1580.0 687.5L1582.5 692.0M675.0 682.5L686.2 690.0L688.8 696.2L688.2 722.5L692.5 731.2L694.5 736.2L687.0 738.0L692.5 745.0L697.5 746.2L698.0 758.8L706.2 768.8L708.0 775.0L712.0 772.0L710.5 766.2L705.5 763.8L705.0 752.5L701.2 735.0L695.0 721.2L697.5 707.0L706.2 712.5L706.2 728.8L712.0 737.5L711.2 742.5L717.5 750.0L715.0 753.8L722.5 758.8L721.2 762.5L730.0 773.8L733.0 783.8L728.8 792.0L731.2 797.5L740.0 806.2L748.8 808.0L753.8 812.5L778.8 820.5L792.5 816.2L808.8 829.5L822.5 833.0L831.2 832.0L832.5 837.0L840.0 845.0L841.2 852.5L846.2 853.8L852.5 861.2L860.0 862.5L868.8 867.5L875.0 865.0L873.8 858.8L881.2 855.5L888.8 861.2L891.2 870.0L890.0 883.8L893.0 886.2L891.2 892.5L883.8 897.5L882.5 905.0L876.2 906.2L875.0 913.8L871.2 918.8L872.0 927.5L878.8 926.2L877.5 932.5L870.5 938.8L873.8 945.0L872.5 949.5L878.8 952.5L887.5 963.8L896.2 980.0L906.2 991.2L905.5 995.0L912.5 1002.0L933.8 1009.5L943.0 1016.2L946.2 1030.0L945.0 1045.0L947.5 1057.5L946.2 1080.0L948.0 1084.8M926.2 670.0L918.8 680.0L917.5 690.0L910.0 695.0L897.5 701.2L885.0 710.0L878.8 716.2L883.8 745.0L880.0 755.0L875.0 756.2L871.2 745.0L868.8 737.5L870.0 731.2L865.0 723.8L856.2 725.5L850.0 722.0L842.5 721.2L828.8 723.0L833.8 730.0L826.2 731.2L820.0 726.2L807.5 727.0L802.5 725.5L800.0 730.0L791.2 732.5L786.2 737.0L782.5 743.0L785.0 747.5L783.8 753.8L780.0 757.5L776.2 775.0L785.0 800.0L788.8 800.5L793.0 804.5L806.2 799.5L810.0 800.5L813.8 798.0L818.8 782.5L832.5 778.8L840.0 780.0L835.5 791.2L830.0 800.0L828.8 808.8L823.8 816.2L827.5 817.0L847.5 813.8L856.2 817.5L857.0 822.5L852.5 842.5L862.5 856.2L871.2 855.5L877.5 850.5L887.5 853.8L893.8 861.2L901.2 850.5L902.5 843.0L910.0 840.0L916.2 838.8L925.0 832.0L928.0 835.0L922.5 841.2L921.2 847.5L925.0 852.0L928.0 848.0L926.2 840.5L935.0 833.8L937.5 837.5L945.0 842.0L957.5 841.2L965.0 843.8L970.0 840.5L982.5 839.5L982.0 845.0L987.5 848.8L992.8 850.5M850.0 777.0L856.2 771.2L873.8 767.0L882.5 769.5L897.5 778.0L905.0 779.5L905.5 783.8L913.0 785.0L905.5 787.5L892.0 787.5L898.8 783.8L890.0 777.5L880.0 773.0L870.0 770.0L862.5 771.2L856.2 776.2L850.0 777.0M910.0 795.0L918.8 786.2L937.5 787.0L941.2 791.2L946.2 793.8L943.8 796.2L933.8 795.0L927.5 800.5L921.2 796.2L910.0 795.0M886.2 797.5L892.5 795.8L900.0 798.0L897.5 800.5L890.0 800.5L886.2 797.5M948.8 868.0L952.0 862.0L959.5 857.5L965.0 858.0L986.2 851.2L992.8 850.0M956.2 906.2L972.5 905.5L982.5 910.0L992.8 917.5M918.0 927.5L925.0 926.2L928.8 930.0L936.2 931.2L940.0 927.5L947.5 925.5L951.2 919.5L963.8 918.8L967.5 922.5L973.8 928.8L981.2 925.0L992.8 923.8M992.8 850.5L1002.5 860.0L1003.8 863.8L1010.0 867.5L1030.0 867.5L1040.0 871.2L1047.0 876.2L1050.5 890.0L1055.0 891.2L1053.8 895.0L1047.5 901.2L1045.0 906.2L1057.5 902.5L1067.5 903.8L1080.0 907.5L1083.8 912.5L1085.0 918.8L1093.8 916.2L1110.0 917.5L1120.0 921.2L1128.8 930.0L1138.8 931.2L1142.0 938.8L1141.2 947.5L1132.5 962.5L1125.0 972.5L1118.8 976.2L1116.2 995.0L1111.2 1005.0L1110.0 1017.5L1102.5 1027.5L1097.5 1033.8L1085.0 1035.0L1072.5 1041.2L1063.8 1050.0L1063.0 1060.0L1057.5 1075.0L1050.0 1084.8M948.8 868.8L951.2 862.5L958.8 857.5L965.0 858.0L985.0 851.2L992.8 850.5M956.2 906.2L971.2 905.5L982.5 910.0L991.2 917.5L996.2 921.2M996.2 921.2L1005.0 920.0L1015.0 913.8L1022.5 913.8L1023.8 921.2L1025.0 913.8L1032.5 912.0L1042.5 908.8L1046.2 906.2M1040.0 910.0L1041.2 917.5M1055.0 910.0L1056.2 922.5M1249.5 790.0L1252.5 802.5L1245.0 818.0L1251.2 826.2L1249.5 832.5L1261.2 842.5L1272.5 857.5L1275.0 863.8L1290.0 877.5L1302.5 885.5L1306.2 887.0L1315.0 883.8L1326.2 883.8L1337.5 888.0L1358.8 881.2L1371.2 880.0L1377.5 883.8L1383.8 896.2L1396.2 897.0L1403.8 900.0L1408.8 903.8L1407.5 912.5L1402.5 925.0L1406.2 930.0L1398.8 933.8L1402.5 947.5L1413.8 962.5L1416.2 973.8L1418.2 992.5L1414.5 995.0L1417.5 1010.0L1413.8 1018.8L1405.0 1025.0L1396.2 1040.0L1392.5 1053.8L1396.2 1084.8M1281.2 723.8L1275.0 731.2L1265.0 737.5L1257.5 748.8L1256.2 757.5L1250.0 767.5L1245.0 777.5L1246.2 781.2L1251.2 785.0L1249.5 790.0M1251.2 807.0L1263.8 807.0L1273.0 816.2M1295.0 843.8L1303.8 833.8M1307.0 831.2L1322.5 825.5M1326.2 813.8L1335.0 808.8L1345.0 808.2L1350.0 817.5L1356.2 826.2M1377.5 862.5L1385.0 867.5L1390.0 872.5L1388.8 890.0M1390.0 875.0L1405.0 876.2M1370.0 846.2L1373.0 848.0M1440.0 960.0L1441.2 953.8L1455.0 942.5L1456.2 932.5L1467.5 928.8L1481.2 930.5L1492.5 945.0M1456.2 923.8L1452.5 941.2M1532.5 963.8L1537.5 961.2L1545.0 962.5L1550.0 970.0L1545.0 972.5L1543.8 982.5L1535.0 987.5L1530.0 985.0L1528.8 978.8L1532.5 963.8M1501.2 706.2L1507.5 707.0L1519.5 707.5L1518.8 685.0L1515.0 675.0L1511.2 670.0M1507.5 707.0L1516.2 723.8L1526.2 737.5L1545.0 768.8L1547.5 775.0L1557.5 786.2L1565.0 812.5L1572.5 820.0L1582.5 845.0L1592.5 853.8L1606.2 875.0L1605.0 881.2L1601.2 882.5M1515.0 720.0L1527.5 735.5L1530.0 721.2M1527.5 735.5L1533.8 732.5L1555.0 762.5L1563.8 770.0L1571.2 787.5L1572.5 793.8L1583.8 806.2L1598.8 835.0L1601.2 850.0L1607.0 873.8M1606.2 881.2L1613.8 896.2L1620.0 893.8L1623.8 896.2L1630.0 891.2L1642.5 893.8L1650.0 888.8L1653.8 891.2L1651.2 913.8L1631.2 956.2L1617.5 972.5L1601.2 981.2L1582.5 1000.0L1576.2 1002.5L1562.5 1025.0L1563.8 1035.0L1560.0 1043.8L1557.5 1062.5L1560.0 1070.0L1553.8 1084.8M1607.0 873.8L1615.0 873.8L1618.8 870.0L1636.2 866.2L1640.0 860.0L1655.0 853.8L1656.2 845.0L1668.8 841.2L1670.0 833.8L1675.0 832.5L1676.2 823.8L1682.5 821.2L1680.0 806.2L1683.8 803.8L1686.2 786.2L1677.5 771.2L1667.5 766.2L1660.0 755.0L1655.0 742.5M1655.0 742.5L1650.0 765.0L1641.2 765.5L1638.8 768.8L1628.8 761.2L1622.5 750.0L1620.0 742.5L1610.0 735.0L1596.2 716.2L1595.0 710.0L1598.8 706.2L1606.2 706.2L1620.0 727.5L1632.5 733.8L1643.8 740.5L1652.5 731.2L1657.5 740.0L1660.0 746.2L1687.5 752.5L1707.5 743.8M1560.0 675.0L1565.0 682.5L1572.5 686.2L1580.0 687.5L1582.5 692.0M905.0 990.0L906.2 995.0L912.5 1001.2L935.0 1010.0L943.8 1016.2L947.0 1030.0L945.5 1045.0L948.0 1057.5L947.0 1080.0L948.8 1086.2L947.0 1090.0L950.0 1100.0L952.5 1110.0L951.2 1125.0L947.0 1131.2L950.5 1137.5L953.0 1146.2L952.5 1153.8L958.8 1155.0L960.0 1162.5L961.2 1173.8L958.8 1185.0L956.2 1187.5L960.0 1190.0L965.0 1197.5L970.0 1207.5L973.8 1216.2L980.0 1221.2L985.0 1225.0M1117.5 990.0L1115.0 1005.0L1106.2 1022.5L1097.5 1033.8L1085.0 1036.2L1072.5 1042.5L1063.8 1050.0L1063.0 1058.8L1057.5 1072.5L1051.2 1077.5L1050.0 1085.0L1045.0 1090.0L1038.8 1100.0L1030.0 1104.5L1020.0 1105.5L1016.2 1100.0L1016.2 1096.2M1020.0 1105.5L1023.8 1110.0L1022.5 1115.0L1026.2 1120.0L1023.8 1126.2L1017.5 1130.0L1001.2 1133.0L1002.0 1142.5L991.2 1145.0L992.5 1152.5L998.8 1153.8L996.2 1157.5L993.8 1165.0L987.5 1173.8L987.5 1180.0L996.2 1182.5L990.0 1197.5L987.5 1202.5L991.2 1212.5L995.0 1220.0L995.0 1223.8L1009.5 1225.5L1002.5 1229.5L985.0 1230.0M1027.0 1062.5L1010.0 1063.0L1008.0 1075.0L1007.0 1086.2L1003.8 1090.5L1005.5 1097.0L1010.0 1098.0M985.0 1225.0L990.0 1220.0L995.0 1223.8M1416.2 990.0L1414.5 995.5L1417.5 1010.0L1413.8 1018.0L1405.0 1025.0L1396.2 1038.8L1392.5 1053.8L1397.5 1088.8L1390.0 1111.2L1388.0 1155.0L1385.5 1160.0L1382.0 1161.2L1379.5 1170.5L1382.5 1172.0L1384.5 1178.0L1398.0 1179.5L1406.2 1187.0L1418.0 1189.2L1438.8 1183.8L1452.5 1175.5L1460.0 1173.0L1473.0 1158.0L1471.2 1155.0L1491.2 1152.0L1499.5 1139.5L1501.2 1123.8L1503.8 1118.8L1513.8 1116.2L1520.0 1112.0L1539.5 1110.8L1550.0 1102.0L1553.8 1086.2L1557.0 1082.5L1558.2 1073.8L1561.2 1069.5L1557.5 1061.2L1558.8 1046.2L1561.2 1042.5L1565.0 1036.2L1562.0 1027.0L1567.5 1016.2L1576.2 1003.8L1582.5 999.5L1595.0 990.0M1598.8 1107.5L1600.5 1118.8L1593.8 1140.0L1586.2 1143.8L1582.5 1150.0L1576.2 1158.8L1535.0 1200.5L1524.5 1195.5L1522.5 1188.8L1531.2 1166.2L1537.5 1160.0L1547.0 1153.8L1555.0 1132.5L1562.0 1125.0L1572.5 1127.5L1580.0 1123.8L1587.0 1118.8L1595.0 1109.5L1598.8 1107.5M1510.5 1096.2L1513.8 1100.0L1513.8 1109.5M686.2 1517.5L701.2 1523.8L705.0 1530.0L731.2 1540.0L737.5 1545.0L736.2 1551.2L742.5 1556.2L736.2 1558.8L743.8 1563.8L772.5 1571.2L787.5 1578.8L792.5 1585.0L810.0 1590.0L820.0 1588.8L813.8 1583.8L811.2 1576.2L796.2 1568.8L776.2 1567.0L771.2 1561.2L767.5 1557.5L765.0 1561.2L738.8 1549.5L731.2 1545.0L722.5 1543.8L721.2 1552.5L713.8 1546.2L701.2 1541.2L695.0 1545.0L677.5 1553.0L676.2 1550.0L692.5 1542.5L678.8 1542.5L688.8 1537.5L696.2 1536.2L696.2 1530.5L686.2 1521.2L686.2 1517.5M480.0 1415.0L486.2 1416.2L491.2 1427.5L488.8 1431.2L480.0 1415.0M580.5 1566.2L583.0 1583.0L573.0 1588.0L580.5 1566.2M1046.2 1273.0L1040.0 1276.2L1035.0 1282.5L1030.0 1290.0L1026.2 1297.5L1023.8 1301.2L1027.0 1305.0L1025.0 1313.8L1020.0 1311.2L1017.0 1316.2L1010.0 1318.0L1016.2 1322.5L1013.8 1326.2L1020.0 1330.5L1023.8 1329.5L1027.0 1335.0L1017.5 1336.2L1015.0 1338.8L998.0 1345.5L996.2 1343.0L985.0 1352.0L978.8 1350.0L972.0 1356.2L971.2 1360.0L976.2 1363.8L982.5 1362.5L988.8 1369.5L983.8 1372.5L980.0 1370.5L977.5 1375.0L967.5 1377.5L962.5 1386.2L953.8 1393.0L958.8 1405.0L961.2 1415.0L958.8 1417.0L965.0 1420.5L967.5 1428.0L971.2 1428.8L973.8 1436.2L980.5 1437.0L981.2 1445.0L987.5 1445.5L996.2 1451.2L1003.8 1461.2L1009.5 1468.8L1011.2 1476.2L1020.0 1483.8L1028.0 1483.0L1027.5 1490.0L1017.5 1497.5L1010.0 1498.8L1007.5 1500.5L997.5 1499.5L985.0 1503.0L981.2 1505.5L985.0 1507.5L984.5 1514.5L997.0 1521.2L998.8 1528.8L1009.5 1536.2L1012.5 1541.2L1030.0 1546.2L1032.5 1551.2L1040.0 1554.5L1072.5 1563.0L1078.0 1570.0L1080.0 1565.5L1101.2 1565.5L1097.5 1559.5L1105.0 1558.8L1113.8 1562.0L1121.2 1561.2L1125.0 1556.2L1135.0 1561.2L1133.8 1553.8L1145.0 1551.2L1158.8 1548.8L1166.2 1551.2L1171.2 1547.5L1175.0 1539.5L1205.0 1537.0L1201.2 1535.0L1210.0 1531.2L1208.8 1527.5L1226.2 1522.0L1218.0 1518.0L1218.8 1513.8L1225.0 1508.8L1228.8 1502.0L1237.5 1501.2L1242.5 1488.8L1252.0 1486.2L1237.5 1485.5L1236.2 1477.5L1230.0 1471.2L1231.2 1463.8L1237.5 1461.2L1241.2 1457.0L1250.0 1455.0L1257.5 1432.5L1262.5 1423.8L1266.2 1423.0L1271.2 1414.5L1266.2 1407.5L1258.8 1407.5L1256.2 1401.2L1245.0 1392.0L1232.0 1391.2L1238.0 1378.8L1230.0 1375.0L1232.5 1373.8L1226.2 1373.0L1215.0 1368.0L1211.2 1355.0L1208.8 1350.5L1202.5 1350.0L1190.0 1342.5L1182.5 1333.8L1180.0 1330.0L1160.0 1327.0L1147.5 1331.2L1135.0 1332.0L1130.0 1337.5L1112.5 1345.0L1110.0 1348.8L1100.0 1352.5L1093.8 1357.5L1080.0 1355.0L1050.5 1340.0L1052.0 1332.5L1045.0 1302.5L1040.0 1292.5L1041.2 1281.2L1046.2 1273.0M1671.2 1618.0L1710.0 1566.2M1678.8 1618.0L1710.0 1590.5M850.6 426.2L856.2 421.8L863.7 423.1L863.1 427.4L868.7 427.4L879.9 429.3L877.4 433.7L873.1 434.9L871.2 439.3L876.8 441.2L881.8 438.0L883.0 444.9L883.7 452.4L888.0 455.5L878.7 461.1L882.4 464.9L892.4 468.6L889.9 474.9L886.2 481.1L893.7 477.3L894.9 471.1L904.9 469.9L907.4 476.1L917.4 479.8L924.9 487.3L929.8 482.3L938.6 481.7L943.6 476.1L948.6 477.3L952.3 482.3L949.2 488.6L946.1 496.1L948.6 499.8L939.8 502.3L932.3 498.6L929.8 497.3L934.8 502.3L938.6 506.0L932.3 509.8L926.1 509.2L919.9 511.0L914.9 506.0L911.7 506.7L916.1 510.4L909.9 516.0L903.6 518.5L893.7 525.4L888.0 531.0L885.2 536.6L885.9 540.4L891.8 539.1L889.9 547.2L885.2 551.0L894.9 549.7L910.5 565.9L922.4 568.4L919.9 574.7L915.5 582.2L919.9 589.7L921.1 594.6L926.1 595.3L928.6 590.9L931.7 588.4L933.0 578.4L931.7 574.1L942.3 570.9L948.6 566.6L951.1 562.2L951.7 554.7L946.7 549.7L956.0 542.2L957.3 537.2L954.2 536.6L958.5 533.5L958.5 527.3L962.3 526.0L971.0 530.4L976.0 529.1L980.4 536.0L983.5 538.5L987.9 539.1L986.0 544.7L980.4 545.4L983.5 549.7L979.8 552.8L984.7 553.5L985.4 557.8L989.7 554.7L996.0 553.5L1001.0 547.2L1004.7 545.4L1006.6 551.0L1006.0 557.2L1009.7 563.4L1009.1 568.4L1013.4 573.4L1014.7 577.2L1019.7 577.2L1027.2 580.9L1027.8 584.7L1033.4 589.7L1034.0 597.0M889.9 433.7L894.9 425.6L913.6 420.6L918.6 416.8L926.1 420.6L928.0 427.4L924.9 431.8L926.1 439.9L935.5 442.4L936.7 444.3L922.4 451.8L926.1 446.2L919.9 441.2L914.9 436.8L907.4 442.4L899.9 437.4L896.2 439.3L898.6 444.9L904.9 448.6L906.1 453.6L902.4 452.4L892.4 447.4L889.3 449.9L888.0 455.5M889.9 433.7L893.7 431.2L909.9 427.4L919.9 423.7L922.4 427.4L909.9 432.4L898.6 434.3M938.6 459.9L939.8 451.1L951.1 444.9L959.8 449.9L972.3 452.4L967.3 457.4L956.0 454.9L949.8 461.1L939.8 461.1M926.1 474.9L932.3 469.9L934.8 476.1L949.8 467.4L952.3 459.9L964.8 454.9M959.8 469.9L964.8 476.1L974.8 479.8L984.7 478.6L989.7 484.8L984.7 491.1L993.5 493.6L994.1 502.3L982.3 507.3L983.5 512.9L971.0 509.8L966.0 514.8L981.0 517.3L983.5 524.1L1002.2 536.0L999.7 528.5L994.7 524.1L1006.0 528.5L1008.5 531.6L1012.2 527.3L1009.7 519.8L1002.2 514.8L1003.5 508.5L1007.2 507.3L1014.7 513.5L1017.2 519.1L1027.2 509.8M959.8 469.9L958.5 466.1L972.3 457.4L979.8 456.1L971.0 467.4L963.5 469.9M964.8 476.1L963.5 482.3L949.8 492.3L948.6 497.3L952.3 502.3L963.5 497.3L966.0 489.8L974.8 482.3M929.8 498.6L939.8 503.6L944.8 506.7L951.1 509.8L957.3 518.5L952.3 520.4L947.3 514.8L937.3 519.8L932.3 514.8L939.8 509.8M1059.6 421.2L1067.1 423.7L1077.1 416.8L1084.6 413.1L1102.0 412.5L1110.8 416.8L1097.1 421.2L1112.0 423.7L1116.0 426.2M976.6 419.9L984.7 413.7L989.7 420.6L982.3 427.4L976.6 419.9M1295.5 396.8L1296.7 392.4L1283.6 393.9L1277.4 396.2L1282.4 400.9M1264.9 363.7L1284.9 369.3L1289.9 372.5L1307.4 376.5L1312.3 372.5L1324.8 377.5L1314.8 380.0L1304.9 388.7L1306.1 391.8L1318.6 391.2L1320.5 396.2L1319.8 404.9L1313.0 404.9L1317.3 414.9L1321.1 422.4L1324.8 424.9L1322.3 414.9L1328.6 416.1L1349.8 426.7L1352.3 419.9L1348.5 416.8L1353.5 413.6L1342.3 412.6M1279.9 362.5L1312.3 365.6L1328.6 366.9L1344.8 373.7L1339.8 380.0L1343.5 387.4L1362.3 394.9L1384.7 405.5L1409.7 401.8L1422.2 406.2L1429.6 413.0L1440.9 419.9M1306.1 428.0L1316.1 424.3L1324.8 424.9M1306.1 428.0L1314.8 431.1L1323.6 434.9L1334.8 439.9L1324.8 441.1L1328.6 447.3L1333.6 452.3L1344.8 453.0L1356.0 459.2L1372.2 459.2M1256.2 444.8L1261.2 439.9L1273.7 439.2L1277.4 441.1L1289.9 438.0L1307.4 436.1L1319.8 438.6L1324.8 447.3L1302.4 454.8L1312.3 457.3L1319.8 456.1L1329.8 463.6L1342.3 464.2L1337.3 457.3L1328.6 457.9L1333.6 455.4M1284.9 538.4L1292.4 537.2L1293.6 524.7L1304.9 533.4L1316.1 542.2L1322.3 549.7L1328.6 549.7L1326.1 544.7L1331.1 542.2L1328.6 534.7L1323.6 528.4L1318.6 526.6L1323.6 522.2L1323.6 516.0L1312.3 511.6L1298.6 497.9L1302.4 491.0L1298.6 482.3L1291.1 477.3L1294.9 472.9L1304.9 475.4L1308.6 492.3L1319.8 500.4L1324.8 506.6L1332.3 507.2L1334.2 511.0L1344.8 495.4L1351.0 499.7L1357.3 497.9L1354.8 490.4L1344.8 487.9L1343.5 492.9L1344.8 495.4M1357.3 497.9L1351.0 500.4L1352.3 506.0L1343.5 507.9L1339.2 513.5L1344.8 517.8L1348.5 517.2L1354.8 524.7L1353.5 528.4L1344.8 524.7L1343.5 528.4L1347.3 534.7L1357.3 544.7L1353.5 552.2L1344.8 549.7L1337.3 557.1L1328.6 555.9L1322.3 562.0M1298.6 544.0L1304.9 537.8L1308.6 545.9L1306.1 548.4L1312.3 554.7L1314.8 559.6M1299.9 545.9L1304.9 554.7L1308.6 562.0M1258.7 551.9L1258.1 558.7L1266.2 565.0L1276.2 569.3L1279.9 576.2L1288.0 577.4L1290.5 582.4L1289.9 586.8L1296.7 589.9L1288.0 592.4L1274.9 596.2L1264.9 598.6L1268.0 593.7L1274.3 591.2L1274.9 584.9L1267.4 586.8L1261.8 581.2L1267.4 574.3L1261.8 568.1L1251.8 570.6L1256.2 584.3L1242.5 591.2M1298.6 593.7L1293.0 598.6L1283.0 598.6L1287.4 604.3L1279.9 604.9L1273.0 608.0L1276.2 612.4L1286.1 613.0L1292.4 618.0L1297.4 619.9L1299.9 629.8L1301.1 638.6L1271.2 640.4L1269.3 638.6L1263.1 643.6L1268.0 648.6L1270.5 659.8L1271.2 664.8L1269.3 669.8L1274.3 674.8L1274.9 681.0L1286.1 679.1L1294.9 686.0L1299.9 682.3L1313.6 681.6L1314.8 676.6L1318.0 675.4L1317.3 669.8L1321.7 667.9L1316.7 662.9L1316.1 659.8L1318.6 652.3L1329.2 646.1L1324.8 639.8L1326.1 636.1L1328.6 634.2L1339.8 637.3L1348.5 626.1L1356.6 627.3L1366.6 637.3L1399.7 651.7L1404.7 658.5L1402.2 663.5L1399.7 652.9M1404.7 658.5L1407.2 657.3L1403.4 651.1L1409.7 652.9L1410.9 651.1L1393.5 641.1L1392.2 638.0L1386.0 638.6L1373.5 628.6L1366.0 624.9L1361.0 617.4L1366.0 613.0L1369.7 618.6L1372.9 615.5L1386.0 626.7L1391.0 626.1L1407.2 633.6L1410.9 637.3L1413.4 646.1L1427.1 656.7L1429.6 661.7L1439.6 672.3L1445.9 674.1L1442.1 668.5L1445.9 662.3L1442.1 657.9L1437.1 659.2L1434.6 652.3L1437.1 646.1L1429.6 643.6L1433.4 639.8L1438.4 637.3L1448.4 637.3M1385.3 667.3L1387.2 670.4L1401.6 676.0L1403.4 667.3L1385.3 667.3M1355.4 649.2L1360.4 646.1L1366.0 651.1L1368.5 660.4L1362.9 663.5L1355.4 649.2M1455.8 632.3L1443.4 624.9L1444.6 614.9L1439.6 604.9L1440.9 599.9L1437.1 592.4L1442.1 586.8L1448.4 589.9L1453.4 589.3L1455.8 584.9L1468.3 572.4L1472.7 571.2L1471.4 578.7L1473.9 583.7L1473.3 589.9L1469.6 591.2L1464.6 602.4L1459.6 601.1L1453.4 594.9L1453.4 589.3M1469.6 591.2L1501.0 602.4M1460.8 586.2L1465.2 581.8L1469.6 586.2L1465.2 590.5L1460.8 586.2M1448.4 637.3L1455.8 632.3L1467.1 630.5L1472.7 621.1L1479.6 619.2L1489.5 624.2L1501.0 624.2M1448.4 637.3L1448.4 643.6L1453.4 649.8L1454.6 656.0L1459.6 659.8L1462.1 666.0L1468.3 664.8L1479.6 671.0L1482.1 664.8L1495.8 669.8L1501.0 666.0M1294.9 686.0L1299.9 691.6L1309.9 689.7L1316.1 691.6L1324.8 686.0L1331.1 681.6L1343.5 678.5L1352.3 680.4L1356.0 676.6L1366.0 677.9L1373.5 673.5L1380.4 678.5L1381.0 674.8L1379.7 681.0L1386.0 687.9L1381.6 695.4L1385.3 699.1L1398.4 704.7L1403.4 703.5L1414.7 706.6L1419.7 713.4L1429.6 715.9L1439.6 720.9L1444.6 715.9L1441.5 706.6L1447.7 700.3L1455.8 701.6L1458.3 705.3L1467.1 706.6L1469.6 709.1L1480.8 709.7L1493.3 713.4L1501.0 707.2M1294.9 686.0L1292.4 699.7L1279.9 709.7L1278.0 717.2L1281.2 724.1M922.0 625.3L926.6 629.1L931.6 630.7L939.1 630.3L953.2 623.2L961.6 617.4L962.4 614.9L976.5 609.1L981.5 604.1L1012.3 606.2L1018.1 600.8L1027.3 599.1L1031.4 596.6M927.5 638.6L939.9 632.8L953.2 625.7L962.4 619.9L973.2 614.1L983.2 610.7L989.9 611.2L991.1 615.7L988.2 617.4L977.4 617.8L982.4 620.7L983.2 624.9L985.7 625.7L985.7 630.7L974.9 634.0L971.5 633.6L969.9 636.5L963.2 636.1L961.6 639.0L957.4 639.9L954.1 642.4L948.7 650.3L949.9 653.2L944.9 654.8L934.9 657.3L929.8 660.8L930.4 666.5L925.0 671.5L920.0 676.5L916.6 682.3L917.5 689.8L912.5 693.1L908.3 698.0M905.8 642.4L910.8 639.0L919.1 637.4L925.8 639.9L925.0 643.2L920.0 644.4L912.5 643.6L908.3 647.4L900.0 650.7M900.0 623.2L906.7 624.9L910.0 632.4L906.7 634.9L902.5 634.0L900.0 629.9M1012.3 618.2L1019.8 611.6L1024.8 606.6L1029.0 607.4L1034.8 609.1L1041.4 612.0L1044.8 617.4L1046.4 623.2L1043.1 628.2L1037.3 627.4L1029.8 625.7L1027.3 622.4L1019.8 621.1L1014.0 622.0L1012.3 618.2M1019.8 618.2L1024.8 613.2L1032.3 614.9L1037.3 616.6L1029.8 619.1L1024.8 619.9L1019.8 618.2M985.7 630.7L991.5 630.3L999.0 630.7L1008.2 622.4L1009.8 623.2L1009.0 628.2L1009.8 631.5L1003.2 635.7L991.5 638.2L988.2 640.3L984.0 638.2L978.2 645.7L974.9 643.2L975.3 638.2L983.2 633.2L985.7 630.7M1016.5 585.0L1010.6 588.3L1014.8 591.6M1012.3 607.8L1012.3 606.2M944.9 653.2L954.9 652.3L954.5 655.7L944.9 655.7" fill="none" stroke="#808080" stroke-width="4.3" stroke-linejoin="round" stroke-linecap="round"/>
<path d="M753.8 475.0L753.8 476.2L756.4 474.6L758.0 478.2L761.9 477.0L761.6 478.3L761.9 482.4L758.4 482.4L758.5 486.9L757.5 486.2M753.8 475.0L762.5 478.8L757.5 486.2M721.2 552.5L720.9 554.2L723.4 552.9L724.8 557.0L728.1 555.9L728.9 559.9L732.5 560.3L729.4 562.6L731.0 566.6L727.7 567.7L729.9 570.5L727.2 572.1L728.1 576.1L723.9 576.9L724.2 580.1L721.3 579.7L720.0 582.5M721.2 552.5L731.2 560.0L727.5 575.0L720.0 582.5M1128.8 466.2L1127.4 465.8L1129.2 469.4L1125.6 469.9L1127.0 474.5L1124.3 476.0L1128.4 477.9L1125.5 481.5L1129.4 482.5L1127.2 487.0L1130.1 483.4L1133.3 485.3L1134.2 480.5L1136.0 482.7L1140.4 481.0L1141.9 485.7L1145.7 483.5L1146.6 487.5L1145.2 484.4L1148.1 482.0L1144.2 480.4L1146.3 476.6L1142.9 476.4L1142.1 472.2L1138.1 473.4L1136.9 469.2L1135.7 467.9L1139.4 470.5L1139.5 466.7L1142.5 467.5M1128.8 466.2L1125.5 475.0L1128.8 486.2L1136.2 481.2L1147.5 486.2L1143.8 475.0L1135.0 470.0L1142.5 467.5M1080.0 550.0L1081.5 550.1L1077.8 548.6L1079.3 544.9L1075.7 545.4L1074.6 541.4L1071.4 544.4L1070.6 541.2L1066.1 539.8L1067.1 535.9L1063.2 536.9L1063.0 533.8M1080.0 550.0L1077.5 543.8L1070.0 542.5L1063.0 533.8M1152.5 510.0L1152.1 512.0L1156.4 509.2L1157.1 514.2L1159.2 514.2L1154.5 514.0L1155.3 514.7L1157.2 519.4L1160.0 518.0M1152.5 510.0L1158.8 512.5L1155.0 517.0L1160.0 518.0M1168.8 412.5L1170.6 412.8L1168.2 409.8L1172.0 408.0L1170.5 404.3L1174.0 405.0L1176.2 401.8L1178.6 404.7L1181.1 400.9L1181.5 405.4L1185.3 405.5L1183.9 410.2L1188.1 410.0L1187.7 414.5L1191.3 413.7L1190.7 417.5L1194.7 417.3L1194.3 422.1L1198.6 421.7L1198.7 425.8L1198.3 426.8L1195.7 422.9L1192.4 426.2L1191.0 423.0L1188.2 425.7L1186.3 422.2L1182.3 424.6L1181.0 420.5L1178.2 422.2L1177.1 418.4L1172.5 419.6L1173.1 417.4L1168.8 416.6L1169.9 411.6L1168.8 412.5M1168.8 412.5L1172.5 403.8L1181.2 402.5L1187.5 412.5L1200.0 425.0L1185.0 423.8L1171.2 417.5L1168.8 412.5M1172.5 408.8L1171.4 409.8L1175.0 408.1L1176.2 412.4L1180.0 411.1L1181.2 414.4L1184.1 413.2L1185.7 417.5L1188.7 416.4L1189.7 421.1L1193.2 419.7L1192.5 421.2M1172.5 408.8L1185.0 415.0L1192.5 421.2M1117.5 417.0L1117.9 418.0L1120.5 417.1L1121.9 419.1L1124.9 418.1L1124.6 421.5L1126.6 424.1L1125.1 427.3L1126.7 428.9L1125.4 431.6L1127.2 435.1L1126.2 436.7L1129.7 439.3L1129.3 441.9L1132.1 443.4L1132.8 446.1L1135.9 446.3L1136.6 449.5L1138.7 450.0L1137.9 453.7L1140.8 456.2L1139.9 458.9L1141.2 460.0M1117.5 417.0L1125.5 419.5L1126.2 435.0L1131.2 443.8L1137.5 448.8L1141.2 460.0M1578.8 460.0L1577.3 460.6L1581.5 462.1L1580.4 465.1L1583.9 467.5L1579.0 467.4L1579.5 471.0L1575.4 470.8L1577.1 474.7L1573.2 475.5L1576.3 478.8L1574.6 482.4L1578.6 483.1L1577.1 486.1L1581.3 487.5L1580.0 490.7L1584.0 490.1L1585.0 494.5L1588.8 494.1L1587.8 497.4L1592.5 496.8L1592.5 498.8M1578.8 460.0L1582.5 466.2L1576.2 472.5L1573.8 477.5L1580.0 488.8L1592.5 498.8M1550.0 535.0L1548.9 535.7L1552.4 535.9L1552.4 540.4L1555.6 539.8L1555.3 543.7L1559.4 545.0L1558.1 547.6L1562.6 548.5L1561.7 551.8L1565.5 552.5L1565.0 556.5L1567.5 557.5M1550.0 535.0L1560.0 547.5L1567.5 557.5M911.2 675.0L912.1 675.9L912.3 672.2L916.2 672.7L916.7 669.3L917.5 670.0M911.2 675.0L917.5 670.0M912.5 685.0L913.7 685.4L912.4 682.5L915.9 681.2L916.0 677.3L919.4 677.1L919.0 673.3L921.2 672.5M912.5 685.0L916.2 678.8L921.2 672.5M1083.8 910.0L1082.7 910.4L1085.6 912.9L1083.4 914.9L1085.8 917.1L1085.0 918.8M1083.8 910.0L1085.0 918.8M1045.0 905.0L1045.7 905.8L1047.3 902.3L1049.8 903.8L1050.0 902.5M1045.0 905.0L1050.0 902.5M1052.5 1080.0L1051.4 1078.2L1052.6 1082.7L1048.2 1082.3L1048.8 1084.8M1052.5 1080.0L1048.8 1084.8M1514.5 983.8L1512.8 983.4L1515.9 986.5L1511.8 988.8L1514.8 991.9L1511.4 993.4L1514.1 996.3L1509.8 998.5L1513.4 1002.8L1510.3 1005.3L1514.7 1006.3L1511.8 1009.5L1515.8 1010.8L1513.1 1014.3L1516.8 1017.1L1513.4 1019.3L1517.3 1022.5L1513.6 1023.9L1517.8 1027.5L1515.5 1028.8M1514.5 983.8L1511.2 1002.5L1515.0 1015.0L1515.5 1028.8M1529.5 1042.5L1527.2 1042.7L1531.9 1045.1L1526.3 1047.7L1531.0 1049.9L1526.6 1052.4L1530.3 1056.0L1524.9 1056.6L1527.9 1061.8L1522.5 1062.4L1525.2 1066.1L1520.9 1066.7L1525.6 1070.5L1520.2 1071.9L1524.7 1076.1L1519.9 1077.3L1522.0 1080.0M1529.5 1042.5L1528.0 1055.0L1523.8 1065.0L1522.0 1080.0M1428.0 838.0L1428.5 839.8L1429.8 835.7L1430.7 840.4L1435.7 839.6L1433.9 844.0L1436.2 846.6L1430.9 844.1L1428.4 845.1L1431.8 841.7L1428.8 840.0M1428.0 838.0L1431.2 837.5L1436.2 843.8L1432.0 846.2L1428.8 840.0M1625.0 747.5L1623.8 748.8L1627.7 748.9L1626.8 753.4L1630.1 753.4L1627.9 756.7L1631.2 758.7L1630.0 760.0M1625.0 747.5L1628.8 753.8L1630.0 760.0M1249.5 826.2L1248.5 827.4L1252.6 827.9L1251.9 831.2L1255.8 832.0L1254.5 834.9L1258.8 836.6L1257.8 839.1L1261.5 840.0L1261.2 842.5M1249.5 826.2L1256.2 835.0L1261.2 842.5M1515.0 720.0L1514.4 720.9L1517.7 721.2L1517.7 725.1L1521.0 725.2L1520.3 728.6L1523.8 729.4L1523.3 732.4L1527.3 732.9L1527.5 735.5M1515.0 720.0L1527.5 735.5M1325.5 821.2L1324.3 821.7L1326.0 821.8M1325.5 821.2L1326.0 821.8M1402.5 925.0L1401.7 926.5L1404.9 925.7L1404.5 929.9L1406.2 930.0M1402.5 925.0L1406.2 930.0M1535.0 987.5L1536.1 988.5L1537.5 985.0L1540.4 986.0L1541.9 982.9L1542.5 983.8M1535.0 987.5L1542.5 983.8M956.2 1187.5L956.0 1189.1L959.1 1187.2L958.9 1191.8L963.2 1192.7L961.9 1195.4L966.1 1196.3L964.9 1200.2L968.8 1200.9L966.7 1205.0L970.8 1205.1L969.1 1209.2L973.0 1211.3L970.8 1213.6L975.0 1215.1L974.2 1218.3L977.9 1217.6L978.5 1222.2L982.8 1221.8L982.5 1224.7L986.2 1223.6L987.6 1227.9L991.2 1226.3L992.8 1228.8M956.2 1187.5L960.0 1190.0L965.0 1197.5L970.0 1207.5L973.8 1216.2L980.0 1221.2L985.0 1225.0L992.8 1228.8M958.8 1155.0L957.3 1154.8L960.3 1157.5L958.7 1160.7L961.4 1161.8L958.9 1165.4L962.0 1168.4L959.3 1170.5L962.7 1173.3L959.5 1174.5L961.9 1178.0L958.7 1180.6L960.4 1184.2L958.8 1185.0M958.8 1155.0L960.0 1162.5L961.2 1173.8L958.8 1185.0M955.0 1182.5L953.8 1183.7L957.8 1183.2L957.1 1187.9L960.4 1188.0L959.0 1191.8L963.8 1192.2L963.0 1196.7L966.3 1196.3L964.8 1201.2L969.1 1201.7L966.5 1204.8L971.6 1206.3L969.6 1210.0L973.2 1211.4L971.2 1214.8L974.6 1215.3L975.4 1219.4L979.6 1218.4L978.7 1222.3L982.9 1221.2L982.6 1225.7L986.6 1223.6L987.8 1228.4L991.0 1225.8L993.8 1228.6L996.0 1225.2L999.6 1228.2L1001.3 1225.2L1004.3 1227.9L1005.0 1226.2M955.0 1182.5L960.0 1190.0L965.0 1197.5L970.0 1207.5L973.8 1216.2L980.0 1221.2L985.0 1225.0L990.0 1227.5L1005.0 1226.2M985.0 1230.0L984.5 1231.3L987.0 1228.2L990.2 1230.9L992.2 1227.9L996.0 1230.6L997.4 1227.7L1000.5 1229.8L1003.3 1226.3L1006.6 1228.0L1008.1 1224.6L1009.5 1225.5M985.0 1230.0L1000.0 1228.8L1009.5 1225.5M1051.2 1077.5L1049.9 1076.6L1052.1 1080.3L1047.8 1081.4L1049.3 1085.9L1047.5 1086.2M1051.2 1077.5L1047.5 1086.2M992.5 1152.5L991.9 1154.0L995.5 1151.9L997.0 1154.8L998.8 1153.8M992.5 1152.5L998.8 1153.8M1529.5 1042.5L1527.9 1041.7L1531.3 1045.6L1527.2 1046.9L1530.6 1050.9L1526.6 1053.0L1530.7 1055.1L1525.8 1056.8L1527.9 1061.9L1524.0 1061.0L1526.3 1065.9L1521.6 1066.8L1525.2 1070.8L1521.0 1071.8L1524.9 1075.4L1519.5 1077.8L1522.0 1080.0M1529.5 1042.5L1528.0 1057.5L1523.8 1065.0L1522.0 1080.0M1513.8 990.0L1512.4 989.2L1514.7 993.5L1510.7 995.0L1513.6 998.0L1509.4 999.7L1513.1 1003.8L1508.7 1005.2L1513.3 1006.3L1511.3 1010.9L1515.8 1012.1L1512.1 1015.3L1516.1 1016.8L1512.3 1019.6L1516.4 1021.9L1513.4 1024.6L1515.0 1027.5M1513.8 990.0L1510.5 1005.0L1514.5 1015.0L1515.0 1027.5M1572.5 1127.5L1573.3 1128.6L1573.9 1125.2L1578.3 1126.1L1578.4 1122.9L1582.6 1123.6L1583.6 1119.6L1586.5 1120.6L1587.0 1118.8M1572.5 1127.5L1580.0 1123.8L1587.0 1118.8M1586.2 1143.8L1587.2 1144.7L1587.8 1140.6L1591.1 1141.8L1591.3 1137.7L1592.5 1138.8M1586.2 1143.8L1592.5 1138.8M677.5 1550.0L678.1 1551.2L680.4 1548.1L683.5 1550.1L685.4 1547.4L688.7 1549.6L689.9 1546.8L694.0 1547.5L692.1 1544.4L695.6 1543.5L694.0 1539.5L696.2 1537.5M677.5 1550.0L692.5 1547.5L696.2 1537.5M1046.2 1273.0L1044.9 1272.1L1044.3 1276.2L1040.3 1274.1L1040.3 1277.7L1036.6 1278.3L1037.4 1281.9L1033.3 1282.2L1034.4 1286.8L1030.3 1286.9L1032.0 1290.4L1030.0 1290.0M1046.2 1273.0L1040.0 1276.2L1035.0 1282.5L1030.0 1290.0M1010.0 1318.0L1008.5 1319.0L1013.5 1318.5L1013.2 1322.6L1017.7 1323.3L1013.8 1323.3L1015.5 1325.4L1015.6 1329.2L1019.6 1328.1L1020.0 1330.5M1010.0 1318.0L1016.2 1322.5L1013.8 1326.2L1020.0 1330.5M1256.2 1401.2L1255.2 1402.1L1258.6 1401.6L1258.8 1405.8L1262.3 1405.5L1262.5 1407.5M1256.2 1401.2L1262.5 1407.5M1032.5 1551.2L1031.9 1552.2L1035.2 1551.2L1037.0 1554.6L1039.9 1553.2L1040.0 1554.5M1032.5 1551.2L1040.0 1554.5M1242.5 1487.0L1243.2 1488.2L1244.7 1485.9L1248.1 1488.1L1250.0 1485.4L1252.0 1486.2M1242.5 1487.0L1252.0 1486.2M842.5 457.4L842.7 459.5L845.1 454.7L848.4 458.0L850.4 453.6L851.9 459.0L855.9 454.8L856.7 460.4L860.0 456.7L860.0 459.6L865.6 461.2L862.6 465.2L863.3 467.7L859.5 465.2L859.8 471.4L856.1 468.7L853.3 472.5L850.4 468.5L849.1 472.7L847.5 468.3L842.6 470.1L843.7 465.4L843.8 464.7L847.6 467.6L848.2 462.8L851.6 465.7L854.7 461.7L856.7 466.4L860.1 462.4L861.2 464.9M842.5 457.4L848.7 455.5L862.5 459.3L864.3 464.9L856.8 470.5L847.5 471.1L841.9 467.4L852.5 463.6L861.2 464.9M936.1 413.7L935.7 416.5L938.0 411.2L941.8 415.9L942.8 409.9L946.0 415.0L948.8 410.0L951.3 413.9L955.5 411.0L954.4 416.5L955.5 418.2L950.3 413.7L950.2 419.2L945.8 414.8L945.2 420.4L940.5 416.6L942.5 421.6L936.6 423.6L941.2 426.4L939.2 430.6L942.8 425.2L943.5 431.2L947.3 426.8L949.1 431.4L950.8 428.5L955.9 430.4L954.5 425.0L960.3 426.2L959.8 423.7M936.1 413.7L952.3 411.8L956.0 415.0L939.8 419.9L938.6 427.4L952.3 429.9L959.8 423.7M934.8 421.2L933.4 421.7L936.7 423.5L933.5 427.1L937.6 428.7L936.1 432.6L939.8 430.0L941.6 434.2L943.9 430.7L946.7 435.4L948.9 431.7L952.6 433.9L952.1 429.0L956.6 430.5L957.3 427.4M934.8 421.2L936.1 431.2L949.8 433.7L957.3 427.4M961.0 437.4L962.3 439.1L961.2 434.1L965.8 436.4L966.8 431.2L969.9 435.1L973.2 430.8L973.0 432.5L974.7 437.4L969.3 437.1L971.3 440.9L967.7 438.7L964.7 442.9L961.2 437.5L961.7 439.9M961.0 437.4L967.3 433.0L974.8 433.7L968.5 440.5L961.7 439.9M996.0 427.4L997.5 428.0L995.4 424.7L998.9 423.8L996.9 420.1L1001.4 417.9L1001.6 415.2L1005.3 417.0L1005.6 413.0L1010.3 415.9L1011.0 411.6L1015.4 413.8L1016.1 410.1L1020.1 413.6L1021.1 409.9L1024.3 413.3L1027.5 409.2L1030.0 412.9L1032.4 408.4L1035.2 412.6L1036.6 408.3L1040.8 412.4L1043.3 408.5L1044.6 412.3L1047.8 409.7L1049.9 414.5L1052.9 411.9L1054.2 415.6L1059.4 414.5L1057.0 418.7L1061.1 419.3L1058.6 419.5L1055.5 422.8L1052.4 419.7L1050.3 422.7L1048.1 419.2L1046.1 422.9L1041.6 421.2L1041.4 425.5L1037.4 422.8L1037.2 426.9L1032.0 424.9L1030.7 428.8L1028.1 424.8L1026.3 428.3L1023.3 424.6L1020.0 427.4L1019.0 423.3L1015.2 426.6L1014.2 421.6L1010.5 424.6L1008.5 419.8L1007.2 422.0L1002.7 422.8L1005.2 426.4L1000.6 426.8L1003.5 431.4L1000.4 428.3L996.0 430.1L996.0 427.4M996.0 427.4L999.7 417.5L1014.7 411.8L1042.1 410.0L1057.1 415.0L1059.6 421.2L1045.9 421.2L1032.2 427.4L1020.9 426.2L1006.0 421.2L1001.0 431.2L996.0 427.4M1002.2 431.2L1003.9 433.3L1003.0 427.3L1007.4 429.1L1007.0 423.8L1010.6 425.9L1010.9 420.6L1015.1 423.1L1014.8 416.9L1020.1 420.3L1020.5 415.1L1023.4 418.0L1025.4 412.9L1026.9 418.5L1030.4 415.2L1032.2 420.2L1035.7 420.4L1031.7 417.9L1030.1 423.3L1026.8 420.5L1026.6 425.6L1022.2 422.9L1022.2 428.3L1017.7 426.0L1018.9 431.0L1013.8 430.1L1014.1 435.5L1010.1 432.1L1010.0 437.3L1004.8 435.4L1004.7 437.4M1002.2 431.2L1014.7 419.9L1024.7 415.0L1034.7 418.7L1022.2 424.9L1014.7 432.4L1004.7 437.4M977.3 433.7L976.2 435.1L980.3 433.4L980.4 438.1L984.5 436.7L985.4 440.2L989.6 437.5L991.2 441.3L994.8 437.5L996.5 441.8L998.3 437.3L1001.4 441.0L1003.9 436.1L1006.8 439.4L1008.6 435.0L1012.6 439.1L1014.0 435.3L1016.9 438.3L1019.0 434.4L1023.4 437.3L1023.9 432.3L1027.8 434.9L1028.4 430.5L1032.1 433.5L1033.0 428.7L1036.7 431.9L1037.7 427.5L1042.4 429.9L1043.8 425.9L1045.9 430.2L1049.1 426.8L1051.4 431.7L1051.5 432.9L1046.7 430.6L1046.3 435.0L1043.2 432.7L1041.6 437.3L1038.2 433.7L1037.4 438.5L1033.0 435.5L1031.3 439.6L1027.8 436.6L1027.2 438.7M977.3 433.7L984.7 438.7L996.0 439.9L1006.0 437.4L1020.9 436.2L1032.2 431.2L1044.6 427.4L1052.1 429.9L1042.1 434.9L1027.2 438.7M976.0 448.6L977.3 449.8L975.2 445.9L979.6 445.0L979.4 440.8L982.2 445.2L985.1 442.6L986.9 445.7L989.6 443.0L991.8 446.1L994.8 443.2L997.0 445.5L999.6 442.2L1000.9 444.4L1004.9 445.5L1003.0 450.2L1005.0 451.9L1000.7 452.1L1001.0 455.5L997.2 452.8L995.0 455.9L992.7 452.9L990.2 455.7L987.8 452.6L983.8 454.8L983.1 451.0L978.8 452.3L978.0 448.0L976.0 448.6M976.0 448.6L978.5 442.4L989.7 444.9L1002.2 443.7L1004.7 449.9L999.7 454.9L984.7 453.6L976.0 448.6M983.5 448.6L983.5 449.9L986.4 447.1L988.1 449.8L991.5 446.6L994.3 448.9L997.4 446.3L997.4 450.8L1001.4 449.4L1001.0 451.1M983.5 448.6L996.0 447.4L1001.0 451.1M1027.2 438.7L1025.3 438.3L1029.2 440.9L1025.3 444.6L1029.1 444.6L1028.5 448.7L1033.8 448.3L1032.6 452.5L1037.9 450.1L1039.2 453.8L1042.5 450.7L1044.7 455.5L1047.9 451.7L1046.8 457.1L1051.3 456.5L1050.4 461.5L1054.2 460.5L1052.2 465.3L1054.6 464.9M1027.2 438.7L1027.2 444.9L1034.7 451.1L1047.1 453.6L1054.6 464.9M1029.7 444.9L1029.7 446.6L1032.8 443.3L1034.9 446.6L1037.3 442.6L1039.7 444.9M1029.7 444.9L1039.7 444.9M984.7 464.9L984.5 469.3L986.9 460.7L990.2 468.6L991.5 459.9L995.4 468.1L999.3 463.4L994.5 468.6L1001.9 467.3L998.0 472.8L1004.3 471.4L1001.3 478.4L1009.4 475.0L1005.5 482.8L1013.0 479.6L1007.4 485.6L1014.8 484.3L1010.3 489.3L1017.3 490.8L1009.8 491.7L1016.2 496.3L1011.0 498.6L1017.8 495.8L1014.8 502.7L1020.8 499.5L1019.6 506.0L1025.4 503.0L1023.2 509.7L1027.2 508.5M984.7 464.9L996.0 463.6L1001.0 472.4L1009.7 481.1L1014.7 489.8L1012.2 496.1L1019.7 502.3L1027.2 508.5M984.7 464.9L983.5 463.1L982.6 467.6L979.0 464.3L977.7 469.5L974.9 465.8L972.2 470.7L969.6 467.7L969.8 469.9M984.7 464.9L969.8 469.9M1002.2 508.5L1002.2 510.9L1004.2 506.0L1005.6 509.0L1010.5 507.6L1010.6 512.4L1015.0 510.8L1013.9 515.5L1017.9 515.9L1015.3 519.7L1017.1 516.1L1022.4 516.4L1021.3 513.0L1026.3 513.1L1024.7 509.6L1027.2 509.8M1002.2 508.5L1007.2 507.3L1014.7 513.5L1017.2 519.1L1027.2 509.8M1054.6 464.9L1052.5 465.2L1056.2 468.1L1050.8 469.9L1055.6 472.7L1050.0 475.4L1055.2 478.2L1051.0 482.0L1056.1 479.1L1055.5 485.2L1059.9 481.7L1058.4 487.6L1063.9 488.5L1060.2 491.7L1065.7 493.2L1062.3 497.4L1064.7 500.0L1060.3 496.2L1060.4 502.9L1055.7 499.1L1056.8 504.0L1051.7 505.0L1055.7 508.2L1050.5 510.3L1054.6 511.8L1051.0 515.9L1057.7 516.8L1054.2 521.4L1059.5 520.7L1056.0 525.0L1061.6 525.7L1058.5 530.4L1064.0 529.6L1061.4 534.8L1066.5 534.2L1065.3 539.9L1070.6 537.8L1068.3 543.0L1074.0 541.4L1073.9 547.4L1075.3 541.3L1079.6 545.6L1084.0 542.8L1078.6 546.1L1084.9 547.7L1083.8 552.3L1086.1 546.9L1088.0 552.5L1089.6 549.7M1054.6 464.9L1052.1 479.8L1059.6 484.8L1064.6 497.3L1054.6 502.3L1052.1 512.3L1059.6 527.3L1064.6 536.0L1073.3 544.7L1080.8 542.9L1082.1 549.7L1089.6 549.7M1089.6 549.7L1091.5 550.1L1088.7 546.8L1092.9 544.4L1090.0 542.2L1093.6 540.7L1091.5 536.0L1092.6 533.9L1088.7 534.5L1091.9 532.7L1090.7 529.3L1094.7 528.7L1093.3 524.1L1097.5 523.3L1096.8 519.5L1099.9 520.3L1100.0 516.3L1104.3 516.7L1104.5 513.0L1108.8 515.4L1110.5 511.9L1113.6 513.6L1115.1 510.2L1116.0 511.7M1089.6 549.7L1093.3 536.0L1089.6 533.5L1097.1 521.0L1104.5 514.8L1116.0 511.7M1059.6 421.2L1059.3 422.6L1062.6 420.7L1063.5 425.0L1068.0 421.5L1069.8 424.6L1070.1 419.0L1074.4 421.1L1074.5 415.8L1079.0 418.2L1079.7 413.3L1083.4 415.9L1084.8 411.5L1087.6 414.6L1090.3 411.0L1092.5 414.8L1094.7 410.8L1098.4 415.0L1099.9 410.7L1102.2 414.6L1106.7 412.7L1106.7 416.4L1110.1 414.3L1108.6 415.6L1106.6 420.0L1104.0 417.1L1102.8 421.5L1099.3 418.5L1097.7 419.8L1099.0 423.2L1102.5 420.4L1105.0 424.1L1108.6 421.0L1109.5 424.8L1114.1 422.5L1114.3 427.1L1116.0 426.2M1059.6 421.2L1067.1 423.7L1077.1 416.8L1084.6 413.1L1102.0 412.5L1110.8 416.8L1097.1 421.2L1112.0 423.7L1116.0 426.2M886.2 481.1L887.6 482.5L886.1 477.2L890.1 477.5L888.6 473.6L894.0 473.1L891.5 469.1L893.7 469.9M886.2 481.1L889.9 474.9L893.7 469.9M919.9 484.8L921.5 485.5L919.5 481.9L925.4 482.5L923.4 478.4L928.6 479.2L929.4 474.8L933.0 478.6L936.3 475.1L935.5 480.0L939.7 477.7L938.0 479.5L937.8 483.5L933.4 480.8L932.7 485.7L928.6 482.9L927.3 484.8M919.9 484.8L927.3 477.3L934.8 476.1L939.8 481.1L927.3 484.8M943.6 477.3L942.4 478.2L946.4 479.1L945.0 482.3L949.7 483.2L946.4 486.0L949.0 488.9L945.7 491.4L947.6 494.5L946.1 496.1M943.6 477.3L948.6 484.8L946.1 496.1M929.8 497.3L928.8 498.5L932.8 497.7L932.7 502.2L936.3 501.6L935.9 505.5L938.5 507.6L934.6 506.2L934.7 510.4L932.3 509.8M929.8 497.3L938.6 506.0L932.3 509.8M939.8 514.8L939.9 516.8L941.4 512.3L945.8 514.7L946.9 511.2L949.3 514.6L952.4 513.0L952.7 517.4L956.9 517.2L956.0 518.5M939.8 514.8L948.6 512.3L956.0 518.5M979.8 545.4L978.4 546.1L982.9 546.1L982.4 550.4L983.1 551.7L979.0 551.9L982.9 552.6L983.7 556.9L984.7 556.0M979.8 545.4L983.5 549.7L979.8 552.8L984.7 556.0M1006.0 551.0L1004.5 551.6L1008.3 553.7L1006.5 557.0L1010.0 558.4L1007.1 561.0L1011.5 563.1L1009.8 566.8L1013.3 567.9L1011.8 571.3L1014.7 571.8L1014.1 575.8L1018.0 574.5L1019.7 577.2M1006.0 551.0L1009.7 563.4L1014.7 574.7L1019.7 577.2M1014.7 577.2L1013.8 579.1L1017.8 575.4L1019.1 580.9L1023.0 577.5L1023.2 582.5L1027.5 578.6L1025.3 584.0L1027.4 586.5L1022.9 583.5L1021.5 588.7L1018.6 584.9L1017.1 589.6L1012.7 586.3L1013.5 586.3L1015.4 591.5L1017.2 589.7M1014.7 577.2L1027.2 580.9L1027.8 584.7L1019.7 586.5L1012.2 588.4L1017.2 589.7M909.9 507.3L909.2 508.4L912.7 507.2L914.4 511.1L916.1 510.4M909.9 507.3L916.1 510.4M862.5 427.4L862.7 428.5L865.1 426.3L867.3 429.7L871.0 427.4L871.9 430.0L874.8 428.3L877.1 430.9L878.3 431.7L874.3 432.6L874.3 435.7L875.3 437.8L877.4 437.4M862.5 427.4L878.7 429.9L873.7 434.9L877.4 437.4M1225.0 364.0L1224.3 366.5L1229.1 363.5L1228.6 368.3L1232.5 366.0L1231.8 371.1L1237.5 369.3L1236.1 375.1L1240.6 372.8L1238.8 378.3L1243.8 377.0L1242.6 382.0L1247.6 380.8L1247.8 385.6L1252.5 383.2L1252.6 389.0L1256.9 385.7L1256.4 390.8L1260.8 387.8L1261.8 393.7L1265.9 389.3L1267.0 394.0L1270.0 390.8L1270.8 396.2L1275.2 393.3L1275.0 399.3L1280.6 396.6L1280.3 401.7L1283.0 398.2L1286.1 402.4L1288.2 396.7L1291.1 400.2L1292.6 395.4L1295.5 396.8M1225.0 364.0L1233.7 369.3L1245.6 381.8L1260.6 390.6L1270.5 393.1L1282.4 400.9L1295.5 396.8M1232.5 371.2L1231.0 372.3L1235.5 371.6L1236.6 375.6L1240.5 374.3L1240.8 378.4L1244.7 377.2L1245.0 379.3M1232.5 371.2L1245.0 379.3M1404.7 401.8L1407.0 402.0L1402.7 399.9L1406.7 397.0L1402.1 394.0L1406.1 391.4L1402.0 389.1L1405.1 386.4L1402.2 382.5L1406.0 382.7L1404.4 378.6L1408.7 378.4L1406.6 373.1L1411.2 374.1L1412.1 369.6L1416.2 371.9L1417.0 368.0L1420.6 370.6L1421.5 365.4L1424.8 369.1L1426.6 363.9L1429.4 367.5L1432.3 362.7L1435.4 366.5L1436.4 361.7L1440.2 365.6L1442.6 362.0L1443.3 366.2L1447.6 364.3L1448.1 368.9L1452.0 366.8L1453.7 371.2L1454.6 370.0M1404.7 401.8L1403.4 383.7L1408.4 373.7L1422.2 367.5L1437.1 363.7L1444.6 364.4L1454.6 370.0M1328.6 366.9L1328.2 368.3L1332.1 367.1L1333.4 370.9L1335.9 368.4L1337.2 371.9L1341.3 370.9L1342.8 374.5L1346.0 375.1L1341.9 375.2L1342.0 379.2L1339.8 380.0M1328.6 366.9L1344.8 373.7L1339.8 380.0M1256.2 444.8L1254.4 444.9L1258.9 447.3L1253.7 449.8L1258.4 453.0L1253.4 455.9L1258.2 457.7L1253.5 460.6L1258.4 461.6L1254.9 466.2L1260.4 466.2L1257.1 470.2L1262.1 471.3L1259.2 475.3L1264.7 476.5L1261.3 480.5L1266.2 482.0L1262.8 485.6L1268.2 486.9L1265.2 489.4L1270.3 490.2L1267.6 494.7L1272.9 494.8L1271.6 499.2L1276.5 499.4L1273.3 503.5L1276.0 506.1L1271.4 502.8L1270.9 509.1L1267.4 506.8L1268.0 510.5L1262.7 510.9L1266.7 515.4L1263.1 518.7L1268.6 516.7L1268.8 520.7L1272.7 518.8L1273.1 523.5L1277.8 523.1L1274.8 527.1L1279.1 527.9L1275.9 532.2L1281.1 531.5L1280.5 536.6L1285.1 535.4L1284.9 538.4M1256.2 444.8L1255.6 461.1L1261.2 474.8L1267.4 489.8L1276.2 502.9L1266.2 509.7L1263.7 516.0L1274.9 522.2L1278.7 532.2L1284.9 538.4M1257.4 442.3L1257.6 444.0L1259.8 440.2L1262.8 444.0L1264.6 439.9L1267.5 443.2L1269.5 439.3L1273.0 443.0L1275.7 439.2L1278.7 443.7L1280.5 439.6L1283.7 444.1L1286.6 440.2L1289.1 444.6L1289.9 442.3M1257.4 442.3L1274.9 441.1L1289.9 442.3M1312.3 404.9L1311.3 406.5L1314.7 405.0L1316.4 409.3L1319.7 407.5L1320.0 411.9L1324.1 410.7L1324.8 413.6M1312.3 404.9L1319.8 409.9L1324.8 413.6M1341.7 411.8L1341.3 413.3L1344.8 411.0L1346.8 414.3L1349.9 411.5L1351.9 415.3L1353.4 415.8L1350.4 414.7L1349.8 417.4M1341.7 411.8L1353.5 413.6L1349.8 417.4M1318.6 481.7L1318.9 483.5L1321.2 480.5L1322.9 484.4L1327.1 481.7L1327.7 485.5L1331.4 482.0L1331.7 486.0L1337.2 485.5L1336.6 490.6L1340.6 488.8L1340.9 490.3L1339.4 495.1L1335.3 492.9L1333.0 496.0L1333.1 490.5L1328.7 491.5L1329.6 488.2L1324.2 488.4L1324.6 483.5L1320.3 485.3L1320.9 481.0L1318.6 481.7M1318.6 481.7L1333.6 484.8L1341.0 492.3L1334.8 494.8L1324.8 486.0L1318.6 481.7M1344.8 474.2L1343.4 477.6L1348.6 472.5L1348.9 478.2L1353.4 473.6L1354.0 480.0L1359.4 476.5L1357.9 482.6L1363.0 480.2L1362.9 483.5M1344.8 474.2L1356.0 477.9L1362.9 483.5M1328.6 457.3L1327.2 458.7L1332.1 456.8L1332.6 460.7L1335.7 459.2L1337.7 463.4L1341.2 461.6L1342.5 462.0L1339.0 463.8L1338.1 459.6L1334.2 461.2L1333.6 458.6M1328.6 457.3L1342.3 463.6L1333.6 458.6M1402.8 496.0L1403.6 496.7L1403.0 493.6L1406.4 492.7L1405.5 489.1L1407.1 490.8L1410.7 491.0L1410.4 494.6L1414.3 494.8L1416.2 497.7L1419.1 496.1L1421.0 498.6L1422.0 498.0L1425.1 496.4L1424.2 493.1L1426.9 492.4L1428.8 489.1L1430.9 490.9L1434.8 489.4L1436.0 492.7L1440.3 491.1L1439.6 492.0M1402.8 496.0L1407.2 488.5L1413.4 496.0L1423.4 497.9L1425.9 491.6L1430.9 489.8L1439.6 492.0M1241.2 545.9L1241.4 547.0L1244.3 544.1L1246.6 546.3L1248.9 543.6L1248.3 546.9L1251.0 549.7L1248.8 550.1L1247.1 553.7L1243.5 552.4L1242.8 555.6L1242.8 555.6L1245.1 552.5L1247.8 554.8L1249.8 552.4L1253.7 553.2L1255.2 550.4L1256.3 551.7L1259.4 553.6L1257.4 556.9L1258.1 559.7L1253.9 560.2L1253.7 562.0M1241.2 545.9L1250.0 544.7L1249.3 550.9L1241.2 554.7L1250.0 553.4L1257.4 550.9L1258.7 557.1L1253.7 562.0M1306.1 427.4L1305.7 428.6L1308.8 426.7L1310.3 429.9L1314.4 428.2L1316.6 431.3L1318.7 429.2L1320.5 431.8L1324.1 430.3L1326.4 432.9L1330.0 430.8L1330.0 430.3L1325.7 429.3L1325.9 425.9L1322.9 425.8L1323.6 424.9M1306.1 427.4L1316.1 429.9L1329.8 432.4L1323.6 424.9M1241.2 545.0L1241.4 546.2L1244.4 543.2L1247.0 545.9L1248.2 542.6L1249.5 543.7L1252.3 546.3L1248.9 549.5L1250.4 552.3L1246.8 550.9L1245.0 554.4L1241.7 554.7L1245.5 553.6L1247.2 557.3L1249.1 555.5L1253.2 556.4L1253.7 552.4L1257.0 553.6L1260.4 552.3L1257.2 553.4L1259.4 556.1L1256.5 558.4L1256.6 561.7L1252.1 561.1L1251.3 564.7L1249.2 565.9L1252.6 567.3L1250.3 570.7L1251.8 570.6M1241.2 545.0L1251.2 543.7L1250.0 551.2L1242.5 553.7L1250.0 556.8L1258.7 551.2L1258.1 558.7L1250.0 563.7L1251.8 570.6M1241.2 571.2L1239.8 570.3L1240.1 573.7L1236.2 573.6L1236.2 576.9L1234.5 578.7L1238.9 579.2L1236.7 582.1L1239.5 586.0L1236.8 588.6L1240.9 588.3L1241.4 591.9L1242.5 591.2M1241.2 571.2L1235.0 576.2L1238.7 581.2L1237.5 587.4L1242.5 591.2M1261.2 566.8L1260.3 568.5L1263.3 567.4L1263.0 571.8L1267.4 571.7L1265.2 573.7L1266.1 577.6L1262.1 576.9L1263.5 580.9L1260.4 583.4L1263.7 586.2L1262.9 589.0L1266.2 589.2L1265.2 593.2L1266.8 592.4M1261.2 566.8L1267.4 573.7L1261.8 579.9L1262.4 586.2L1266.8 592.4M1319.8 564.3L1319.2 562.9L1317.3 566.8L1314.4 564.4L1312.5 569.1L1308.9 566.5L1308.4 571.3L1304.6 569.4L1305.7 573.6L1301.5 573.2L1303.0 575.7L1301.5 580.2L1306.7 579.8L1302.0 581.1L1302.1 586.5L1298.6 584.6L1298.7 589.0L1294.8 591.1L1299.7 592.0L1298.6 593.7M1319.8 564.3L1312.3 566.8L1304.9 571.2L1301.4 576.8L1304.9 581.2L1301.1 584.9L1296.1 588.7L1298.6 593.7M1429.6 643.6L1428.9 645.8L1432.0 641.3L1434.2 645.0L1437.5 645.6L1433.0 647.9L1436.4 651.0L1433.6 653.8L1437.5 654.7L1434.4 658.0L1439.1 658.1L1439.9 661.5L1443.4 659.2L1442.7 661.5L1445.6 665.3L1440.7 666.8L1444.2 667.8L1442.5 673.2L1447.0 672.8L1444.7 671.6L1440.6 674.7L1439.6 672.3M1429.6 643.6L1435.9 643.6L1434.6 652.3L1437.1 659.2L1444.6 661.0L1442.1 668.5L1445.9 674.1L1439.6 672.3M1448.4 637.3L1448.0 638.7L1450.8 635.2L1453.4 638.3L1455.7 635.0L1458.3 638.2L1460.8 634.7L1462.1 636.1M1448.4 637.3L1462.1 636.1M1437.1 592.4L1435.6 592.2L1439.5 594.8L1436.6 598.1L1440.5 600.0L1438.0 603.6L1439.6 604.9M1437.1 592.4L1439.6 604.9M1448.4 643.6L1447.7 644.3L1450.9 644.2L1450.1 648.1L1454.6 649.4L1452.8 652.7L1455.4 655.1L1453.9 657.2L1457.7 658.5L1457.4 662.1L1460.9 661.8L1460.2 665.6L1462.1 666.0M1448.4 643.6L1453.4 649.8L1454.6 656.0L1462.1 666.0M1399.7 651.7L1398.4 651.8L1402.4 653.1L1401.5 656.5L1405.6 657.8L1406.7 659.2L1405.6 657.3L1405.6 653.7L1400.8 652.9L1402.2 652.3M1399.7 651.7L1404.7 658.5L1407.2 657.3L1402.2 652.3M1282.4 599.3L1282.0 600.3L1284.4 597.8L1288.2 600.5L1290.0 597.4L1293.3 599.8L1293.7 595.9L1298.1 595.7L1298.6 593.7M1282.4 599.3L1292.4 598.6L1298.6 593.7M1005.7 560.0L1004.2 561.9L1009.4 559.7L1008.3 566.0L1012.1 567.1L1006.4 566.1L1012.0 568.7L1008.4 573.5L1013.6 572.2L1013.5 577.4L1018.0 574.2L1017.5 579.3L1023.0 576.3L1022.9 582.2L1028.3 579.1L1028.1 582.5M1005.7 560.0L1010.6 564.2L1008.2 568.3L1011.5 573.3L1018.1 576.6L1024.8 580.0L1028.1 582.5M1028.1 582.5L1026.8 583.8L1031.0 583.0L1030.7 586.9L1034.2 586.6L1033.4 589.2L1035.9 592.3L1032.2 593.3L1031.9 598.0L1031.4 599.5L1036.0 598.6L1032.3 600.1L1033.6 604.3L1029.3 605.1L1029.0 607.4M1028.1 582.5L1031.4 585.8L1034.8 589.1L1033.9 594.1L1030.6 596.6L1034.8 599.9L1031.4 604.9L1029.0 607.4M1034.8 609.1L1033.6 610.3L1037.6 608.8L1039.1 612.3L1043.3 611.3L1041.9 616.2L1045.1 615.6L1044.0 620.4L1047.6 621.8L1044.8 622.6L1045.5 627.4L1043.5 627.0L1040.3 629.5L1038.2 625.8L1037.3 627.4M1034.8 609.1L1041.4 612.0L1044.8 617.4L1046.4 623.2L1043.1 628.2L1037.3 627.4M999.0 630.7L1000.2 632.0L999.6 627.5L1003.7 629.0L1003.3 624.7L1007.0 625.0L1008.9 621.2L1008.0 624.4L1010.4 627.6L1008.0 630.4L1010.5 632.9L1005.7 632.5L1005.6 636.2L1003.2 635.7M999.0 630.7L1008.2 622.4L1009.8 623.2L1009.0 628.2L1009.8 631.5L1003.2 635.7M977.4 617.8L978.1 619.3L979.5 616.2L983.0 619.4L984.4 615.8L987.5 618.9L988.7 619.7L985.0 621.2L986.9 624.4L983.7 626.8L987.1 629.8L985.7 630.7M977.4 617.8L988.2 617.4L985.7 623.2L985.7 630.7M922.5 665.7L921.6 664.2L919.9 668.1L916.8 664.8L917.7 667.9L912.8 670.8L914.1 673.5L909.2 673.3L913.6 674.1L910.6 677.7L913.4 680.3L910.6 683.8L914.0 680.4L914.4 682.8L918.4 685.6L915.0 688.8L917.2 692.1L913.6 688.6L913.0 693.2L909.1 693.0L909.2 696.4M922.5 665.7L915.8 667.3L915.0 671.5L910.8 672.3L912.5 678.1L910.8 681.5L916.6 683.1L917.5 689.8L912.5 691.4L909.2 696.4M908.3 645.7L909.7 646.4L908.6 643.3L913.4 642.9L913.3 639.6L916.8 642.2L919.9 638.6L921.0 642.2L925.4 640.2L925.0 641.9M908.3 645.7L912.5 641.5L920.0 639.9L925.0 641.9" fill="none" stroke="#808080" stroke-width="4.3" stroke-linejoin="round" stroke-linecap="round"/>
<path d="M451.2 521.2C455.6 516.7 466.9 504.0 477.5 493.8C488.1 483.5 502.5 470.6 515.0 460.0C527.5 449.4 540.0 439.4 552.5 430.0C565.0 420.6 577.5 411.7 590.0 403.8C602.5 395.8 615.0 388.9 627.5 382.5C640.0 376.1 656.5 369.2 665.0 365.5C673.5 361.8 676.5 361.3 678.8 360.5M749.5 363.8C748.5 366.9 745.3 376.5 743.8 382.5C742.2 388.5 740.5 395.0 740.0 400.0C739.5 405.0 740.2 408.1 740.8 412.5C741.2 416.9 742.6 424.0 743.0 426.2M973.8 402.0C968.1 404.2 949.8 411.2 940.0 415.5C930.2 419.8 923.3 423.4 915.0 428.0C906.7 432.6 898.3 437.9 890.0 443.0C881.7 448.1 873.3 453.2 865.0 458.8C856.7 464.3 848.3 470.2 840.0 476.2C831.7 482.3 823.3 488.3 815.0 495.0C806.7 501.7 798.3 508.5 790.0 516.2C781.7 524.0 773.3 532.1 765.0 541.2C756.7 550.4 747.1 561.9 740.0 571.2C732.9 580.6 728.3 588.1 722.5 597.5C716.7 606.9 710.0 618.3 705.0 627.5C700.0 636.7 696.2 644.2 692.5 652.5C688.8 660.8 685.0 670.8 682.5 677.5C680.0 684.2 679.8 686.2 677.5 692.5C675.2 698.8 671.5 707.5 668.8 715.0C666.0 722.5 663.5 730.0 661.2 737.5C659.0 745.0 657.0 752.5 655.0 760.0C653.0 767.5 651.2 775.0 649.5 782.5C647.8 790.0 646.3 797.5 645.0 805.0C643.7 812.5 642.4 820.0 641.5 827.5C640.6 835.0 640.0 842.5 639.5 850.0C639.0 857.5 638.5 865.0 638.2 872.5C638.0 880.0 637.9 887.5 638.0 895.0C638.1 902.5 638.3 910.0 638.8 917.5C639.2 925.0 639.9 932.5 640.8 940.0C641.6 947.5 642.5 955.0 643.8 962.5C645.0 970.0 646.5 977.5 648.0 985.0C649.5 992.5 651.2 1000.0 653.0 1007.5C654.8 1015.0 656.8 1022.5 658.8 1030.0C660.8 1037.5 662.9 1045.4 665.0 1052.5C667.1 1059.6 669.6 1067.5 671.2 1072.5C672.9 1077.5 672.7 1077.1 675.0 1082.5C677.3 1087.9 681.5 1097.5 685.0 1105.0C688.5 1112.5 692.3 1120.0 696.2 1127.5C700.2 1135.0 704.4 1142.5 708.8 1150.0C713.1 1157.5 717.7 1165.0 722.5 1172.5C727.3 1180.0 732.3 1187.5 737.5 1195.0C742.7 1202.5 748.1 1210.0 753.8 1217.5C759.4 1225.0 765.2 1232.5 771.2 1240.0C777.3 1247.5 783.5 1255.2 790.0 1262.5C796.5 1269.8 803.1 1276.9 810.0 1283.8C816.9 1290.6 824.0 1297.3 831.2 1303.8C838.5 1310.2 846.0 1316.5 853.8 1322.5C861.5 1328.5 869.4 1334.4 877.5 1340.0C885.6 1345.6 894.2 1351.0 902.5 1356.2C910.8 1361.5 919.2 1366.5 927.5 1371.2C935.8 1376.0 944.2 1380.6 952.5 1385.0C960.8 1389.4 968.5 1394.2 977.5 1397.5C986.5 1400.8 1001.5 1403.8 1006.2 1405.0M451.2 681.2C453.5 682.1 460.2 684.6 465.0 686.2C469.8 687.9 474.8 689.6 480.0 691.2C485.2 692.9 493.5 695.4 496.2 696.2M973.8 361.2L968.8 368.8M1055.0 436.2C1054.2 438.5 1051.9 444.8 1050.0 450.0C1048.1 455.2 1045.8 460.8 1043.8 467.5C1041.7 474.2 1039.6 482.5 1037.5 490.0C1035.4 497.5 1033.3 504.6 1031.2 512.5C1029.2 520.4 1026.9 529.2 1025.0 537.5C1023.1 545.8 1021.7 554.2 1020.0 562.5C1018.3 570.8 1016.5 579.2 1015.0 587.5C1013.5 595.8 1012.5 604.2 1011.2 612.5C1010.0 620.8 1008.6 629.2 1007.5 637.5C1006.4 645.8 1005.4 654.2 1004.5 662.5C1003.6 670.8 1002.8 679.2 1002.0 687.5C1001.2 695.8 1000.7 704.2 1000.0 712.5C999.3 720.8 998.6 728.8 998.0 737.5C997.4 746.2 996.9 755.2 996.5 764.8C996.1 774.3 995.8 785.8 995.5 795.0C995.2 804.2 994.7 811.7 994.5 820.0C994.3 828.3 994.3 836.7 994.2 845.0C994.2 853.3 994.2 861.7 994.2 870.0C994.3 878.3 994.4 886.7 994.5 895.0C994.6 903.3 994.8 911.7 995.0 920.0C995.2 928.3 995.4 936.7 995.8 945.0C996.1 953.3 996.5 961.7 997.0 970.0C997.5 978.3 998.0 986.7 998.5 995.0C999.0 1003.3 999.6 1011.7 1000.2 1020.0C1000.9 1028.3 1001.7 1037.1 1002.5 1045.0C1003.3 1052.9 1004.1 1060.0 1005.0 1067.5C1005.9 1075.0 1007.0 1082.1 1008.0 1090.0C1009.0 1097.9 1010.2 1106.7 1011.2 1115.0C1012.3 1123.3 1013.4 1131.7 1014.5 1140.0C1015.6 1148.3 1016.8 1156.7 1018.0 1165.0C1019.2 1173.3 1020.7 1181.7 1022.0 1190.0C1023.3 1198.3 1024.4 1207.3 1025.8 1215.0C1027.1 1222.7 1028.5 1228.8 1030.0 1236.2C1031.5 1243.8 1033.5 1253.8 1035.0 1260.0C1036.5 1266.2 1037.1 1267.1 1038.8 1273.8C1040.4 1280.4 1042.9 1290.6 1045.0 1300.0C1047.1 1309.4 1049.6 1321.9 1051.2 1330.0C1052.9 1338.1 1053.8 1344.2 1055.0 1348.8C1056.2 1353.3 1057.5 1354.4 1058.8 1357.5C1060.0 1360.6 1061.9 1365.8 1062.5 1367.5M1152.5 422.0C1155.8 424.6 1165.8 432.0 1172.5 437.5C1179.2 443.0 1186.2 449.2 1192.5 455.0C1198.8 460.8 1205.0 467.1 1210.0 472.5C1215.0 477.9 1218.3 482.1 1222.5 487.5C1226.7 492.9 1231.0 499.2 1235.0 505.0C1239.0 510.8 1242.7 517.1 1246.2 522.5C1249.8 527.9 1253.1 532.5 1256.2 537.5C1259.4 542.5 1261.9 547.1 1265.0 552.5C1268.1 557.9 1271.7 564.2 1275.0 570.0C1278.3 575.8 1281.9 581.7 1285.0 587.5C1288.1 593.3 1291.0 598.8 1293.8 605.0C1296.5 611.2 1298.8 618.3 1301.2 625.0C1303.8 631.7 1306.5 638.8 1308.8 645.0C1311.0 651.2 1313.1 656.7 1315.0 662.5C1316.9 668.3 1318.2 673.8 1320.0 680.0C1321.8 686.2 1323.6 693.3 1325.5 700.0C1327.4 706.7 1329.5 713.3 1331.2 720.0C1333.0 726.7 1334.6 732.5 1336.2 740.0C1337.9 747.5 1339.8 758.1 1341.2 764.8C1342.7 771.4 1344.0 772.9 1345.0 780.0C1346.0 787.1 1346.9 798.8 1347.5 807.5C1348.1 816.2 1348.4 824.2 1348.8 832.5C1349.1 840.8 1349.4 849.2 1349.5 857.5C1349.6 865.8 1349.6 874.2 1349.5 882.5C1349.4 890.8 1349.1 899.2 1348.8 907.5C1348.4 915.8 1348.1 924.2 1347.5 932.5C1346.9 940.8 1346.0 949.2 1345.0 957.5C1344.0 965.8 1342.7 974.2 1341.2 982.5C1339.8 990.8 1338.1 999.2 1336.2 1007.5C1334.4 1015.8 1332.3 1024.2 1330.0 1032.5C1327.7 1040.8 1325.1 1048.8 1322.5 1057.5C1319.9 1066.2 1317.4 1075.2 1314.2 1084.8C1311.1 1094.3 1307.2 1105.8 1303.8 1115.0C1300.3 1124.2 1297.2 1131.7 1293.8 1140.0C1290.3 1148.3 1286.6 1156.7 1283.0 1165.0C1279.4 1173.3 1275.8 1181.7 1272.0 1190.0C1268.2 1198.3 1264.7 1206.7 1260.0 1215.0C1255.3 1223.3 1249.2 1231.7 1243.8 1240.0C1238.2 1248.3 1232.8 1256.9 1227.0 1265.0C1221.2 1273.1 1216.2 1277.9 1208.8 1288.8C1201.3 1299.6 1190.6 1319.0 1182.5 1330.0C1174.4 1341.0 1168.1 1346.5 1160.0 1355.0C1151.9 1363.5 1138.1 1376.9 1133.8 1381.2M1185.0 363.8C1185.8 364.8 1185.8 368.5 1190.0 370.0C1194.2 371.5 1202.5 371.7 1210.0 372.5C1217.5 373.3 1226.7 373.8 1235.0 375.0C1243.3 376.2 1251.7 378.1 1260.0 380.0C1268.3 381.9 1276.7 384.2 1285.0 386.2C1293.3 388.3 1301.7 390.0 1310.0 392.5C1318.3 395.0 1326.7 398.3 1335.0 401.2C1343.3 404.2 1351.7 406.7 1360.0 410.0C1368.3 413.3 1375.0 416.7 1385.0 421.2C1395.0 425.8 1410.0 432.3 1420.0 437.5C1430.0 442.7 1436.7 447.1 1445.0 452.5C1453.3 457.9 1461.7 463.8 1470.0 470.0C1478.3 476.2 1486.7 483.3 1495.0 490.0C1503.3 496.7 1511.7 503.3 1520.0 510.0C1528.3 516.7 1536.7 522.1 1545.0 530.0C1553.3 537.9 1561.7 547.5 1570.0 557.5C1578.3 567.5 1587.5 579.6 1595.0 590.0C1602.5 600.4 1608.8 610.0 1615.0 620.0C1621.2 630.0 1627.1 640.0 1632.5 650.0C1637.9 660.0 1642.9 670.4 1647.5 680.0C1652.1 689.6 1656.2 698.8 1660.0 707.5C1663.8 716.2 1666.9 724.6 1670.0 732.5C1673.1 740.4 1676.2 747.9 1678.8 755.0C1681.2 762.1 1682.3 765.4 1685.0 775.0C1687.7 784.6 1692.5 800.4 1695.0 812.5C1697.5 824.6 1698.7 836.7 1700.0 847.5C1701.3 858.3 1702.2 867.5 1703.0 877.5C1703.8 887.5 1704.4 897.5 1704.5 907.5C1704.6 917.5 1704.2 927.5 1703.8 937.5C1703.3 947.5 1703.0 957.5 1702.0 967.5C1701.0 977.5 1699.6 987.5 1698.0 997.5C1696.4 1007.5 1694.5 1017.9 1692.5 1027.5C1690.5 1037.1 1688.8 1045.4 1686.2 1055.0C1683.8 1064.6 1680.8 1075.0 1677.5 1085.0C1674.2 1095.0 1670.2 1105.0 1666.2 1115.0C1662.3 1125.0 1658.3 1135.0 1653.8 1145.0C1649.2 1155.0 1644.0 1165.0 1638.8 1175.0C1633.5 1185.0 1628.3 1195.0 1622.5 1205.0C1616.7 1215.0 1610.4 1225.4 1603.8 1235.0C1597.1 1244.6 1590.0 1253.8 1582.5 1262.5C1575.0 1271.2 1565.0 1281.0 1558.8 1287.5C1552.5 1294.0 1551.5 1295.8 1545.0 1301.2C1538.5 1306.7 1528.3 1314.0 1520.0 1320.0C1511.7 1326.0 1503.3 1332.1 1495.0 1337.5C1486.7 1342.9 1478.3 1347.9 1470.0 1352.5C1461.7 1357.1 1453.3 1361.0 1445.0 1365.0C1436.7 1369.0 1428.3 1372.7 1420.0 1376.2C1411.7 1379.8 1403.3 1383.1 1395.0 1386.2C1386.7 1389.4 1378.3 1392.1 1370.0 1395.0C1361.7 1397.9 1353.3 1401.0 1345.0 1403.8C1336.7 1406.5 1328.3 1408.8 1320.0 1411.2C1311.7 1413.8 1303.3 1416.5 1295.0 1418.8C1286.7 1421.0 1278.3 1422.7 1270.0 1424.5C1261.7 1426.3 1253.3 1428.1 1245.0 1429.5C1236.7 1430.9 1228.3 1432.1 1220.0 1433.0C1211.7 1433.9 1202.9 1434.5 1195.0 1435.0C1187.1 1435.5 1178.5 1436.0 1172.5 1436.2C1166.5 1436.5 1162.1 1434.4 1158.8 1436.2C1155.4 1438.1 1156.5 1442.7 1152.5 1447.5C1148.5 1452.3 1142.1 1460.0 1135.0 1465.0C1127.9 1470.0 1118.8 1474.4 1110.0 1477.5C1101.2 1480.6 1092.5 1483.8 1082.5 1483.8C1072.5 1483.8 1060.4 1480.6 1050.0 1477.5C1039.6 1474.4 1027.9 1471.7 1020.0 1465.0C1012.1 1458.3 1005.4 1442.1 1002.5 1437.5M1656.2 698.8C1658.5 698.0 1664.8 696.2 1670.0 694.5C1675.2 692.8 1681.5 690.8 1687.5 688.8C1693.5 686.8 1703.1 683.5 1706.2 682.5M451.2 680.0C453.5 680.9 460.2 683.6 465.0 685.5C469.8 687.4 474.8 689.5 480.0 691.2C485.2 693.0 493.5 695.4 496.2 696.2M451.2 1046.2L460.0 1041.2M1693.8 1037.5L1705.0 1045.0M451.2 1046.2L460.0 1041.2M1692.5 1036.2L1706.2 1043.8M1547.5 1300.0C1549.0 1303.3 1553.8 1312.5 1556.2 1320.0C1558.8 1327.5 1560.8 1336.7 1562.5 1345.0C1564.2 1353.3 1565.4 1361.7 1566.2 1370.0C1567.1 1378.3 1567.5 1386.7 1567.5 1395.0C1567.5 1403.3 1567.1 1411.7 1566.2 1420.0C1565.4 1428.3 1564.0 1436.7 1562.5 1445.0C1561.0 1453.3 1559.3 1461.7 1557.0 1470.0C1554.7 1478.3 1551.8 1486.7 1548.8 1495.0C1545.7 1503.3 1542.5 1511.7 1538.8 1520.0C1535.0 1528.3 1530.6 1537.1 1526.2 1545.0C1521.9 1552.9 1517.3 1560.4 1512.5 1567.5C1507.7 1574.6 1502.5 1581.2 1497.5 1587.5C1492.5 1593.8 1486.9 1600.0 1482.5 1605.0C1478.1 1610.0 1473.1 1615.4 1471.2 1617.5M451.2 1372.5C455.6 1377.1 469.0 1392.1 477.5 1400.0C486.0 1407.9 494.2 1413.8 502.5 1420.0C510.8 1426.2 519.2 1432.3 527.5 1437.5C535.8 1442.7 544.2 1446.7 552.5 1451.2C560.8 1455.8 569.2 1460.6 577.5 1465.0C585.8 1469.4 594.2 1473.8 602.5 1477.5C610.8 1481.2 619.2 1484.4 627.5 1487.5C635.8 1490.6 644.2 1493.3 652.5 1496.2C660.8 1499.2 669.2 1502.3 677.5 1505.0C685.8 1507.7 694.2 1510.4 702.5 1512.5C710.8 1514.6 719.2 1516.2 727.5 1517.5C735.8 1518.8 744.2 1519.8 752.5 1520.5C760.8 1521.2 769.2 1521.8 777.5 1522.0C785.8 1522.2 794.2 1522.3 802.5 1522.0C810.8 1521.7 819.2 1520.8 827.5 1520.0C835.8 1519.2 844.2 1518.2 852.5 1517.0C860.8 1515.8 869.2 1514.3 877.5 1512.5C885.8 1510.7 894.2 1508.5 902.5 1506.2C910.8 1504.0 919.2 1501.5 927.5 1498.8C935.8 1496.0 944.2 1492.9 952.5 1490.0C960.8 1487.1 968.5 1484.6 977.5 1481.2C986.5 1477.9 1001.5 1471.9 1006.2 1470.0M610.0 1302.5C609.2 1304.6 606.7 1310.4 605.0 1315.0C603.3 1319.6 601.5 1324.6 600.0 1330.0C598.5 1335.4 597.3 1341.7 596.2 1347.5C595.2 1353.3 594.4 1358.8 593.8 1365.0C593.1 1371.2 592.7 1378.3 592.5 1385.0C592.3 1391.7 592.3 1398.3 592.5 1405.0C592.7 1411.7 593.1 1418.3 593.8 1425.0C594.4 1431.7 595.2 1438.8 596.2 1445.0C597.3 1451.2 598.5 1456.7 600.0 1462.5C601.5 1468.3 603.1 1474.2 605.0 1480.0C606.9 1485.8 609.0 1491.7 611.2 1497.5C613.5 1503.3 616.0 1509.2 618.8 1515.0C621.5 1520.8 624.4 1526.7 627.5 1532.5C630.6 1538.3 634.0 1544.2 637.5 1550.0C641.0 1555.8 644.8 1561.7 648.8 1567.5C652.7 1573.3 656.9 1579.2 661.2 1585.0C665.6 1590.8 670.2 1596.9 675.0 1602.5C679.8 1608.1 687.5 1616.0 690.0 1618.8M841.2 1423.8C841.5 1426.0 841.7 1432.7 842.5 1437.5C843.3 1442.3 844.6 1447.1 846.2 1452.5C847.9 1457.9 849.8 1463.8 852.5 1470.0C855.2 1476.2 858.8 1483.3 862.5 1490.0C866.2 1496.7 870.4 1503.8 875.0 1510.0C879.6 1516.2 884.6 1522.1 890.0 1527.5C895.4 1532.9 901.2 1537.7 907.5 1542.5C913.8 1547.3 920.8 1552.1 927.5 1556.2C934.2 1560.4 940.0 1563.8 947.5 1567.5C955.0 1571.2 964.2 1575.4 972.5 1578.8C980.8 1582.1 989.2 1585.0 997.5 1587.5C1005.8 1590.0 1014.2 1591.9 1022.5 1593.8C1030.8 1595.6 1039.2 1597.5 1047.5 1598.8C1055.8 1600.0 1064.2 1600.8 1072.5 1601.2C1080.8 1601.7 1089.2 1601.7 1097.5 1601.2C1105.8 1600.8 1114.2 1600.0 1122.5 1598.8C1130.8 1597.5 1139.6 1595.6 1147.5 1593.8C1155.4 1591.9 1162.9 1589.8 1170.0 1587.5C1177.1 1585.2 1183.8 1582.5 1190.0 1580.0C1196.2 1577.5 1201.9 1575.2 1207.5 1572.5C1213.1 1569.8 1218.3 1566.9 1223.8 1563.8C1229.2 1560.6 1234.8 1557.3 1240.0 1553.8C1245.2 1550.2 1250.2 1546.2 1255.0 1542.5C1259.8 1538.8 1264.4 1535.4 1268.8 1531.2C1273.1 1527.1 1277.3 1522.3 1281.2 1517.5C1285.2 1512.7 1289.2 1507.5 1292.5 1502.5C1295.8 1497.5 1298.5 1492.9 1301.2 1487.5C1304.0 1482.1 1306.7 1475.8 1308.8 1470.0C1310.8 1464.2 1312.4 1458.3 1313.8 1452.5C1315.1 1446.7 1316.4 1440.0 1317.0 1435.0C1317.6 1430.0 1317.4 1424.6 1317.5 1422.5M1098.8 1482.0C1100.6 1485.4 1106.0 1494.9 1110.0 1502.5C1114.0 1510.1 1118.3 1519.2 1122.5 1527.5C1126.7 1535.8 1130.8 1544.6 1135.0 1552.5C1139.2 1560.4 1143.3 1567.9 1147.5 1575.0C1151.7 1582.1 1156.5 1589.6 1160.0 1595.0C1163.5 1600.4 1166.0 1603.8 1168.8 1607.5C1171.5 1611.2 1175.0 1615.4 1176.2 1617.0M1410.9 364.4C1411.8 367.0 1414.6 374.4 1415.9 380.0C1417.3 385.5 1418.6 391.8 1419.0 397.4C1419.5 403.0 1418.8 408.2 1418.4 413.6C1418.0 419.1 1417.2 426.3 1416.5 429.9C1415.9 433.4 1415.0 434.0 1414.7 434.9" fill="none" stroke="#808080" stroke-width="4.3" stroke-dasharray="4.3 3.9"/>
</g>
<rect x="449" y="360" width="1261" height="1260" fill="none" stroke="#000" stroke-width="4"/>
<text x="447.6" y="132.8" font-size="42.00" fill="#0000ff" text-anchor="start" textLength="108.8" lengthAdjust="spacingAndGlyphs">KNMI</text>
<text x="570.1" y="132.8" font-size="42.00" fill="#0000ff" text-anchor="start" textLength="12.2" lengthAdjust="spacingAndGlyphs">/</text>
<text x="597.2" y="132.8" font-size="42.00" fill="#0000ff" text-anchor="start" textLength="135.4" lengthAdjust="spacingAndGlyphs">ACSAF</text>
<text x="747.1" y="132.8" font-size="42.00" fill="#0000ff" text-anchor="start" textLength="12.2" lengthAdjust="spacingAndGlyphs">/</text>
<text x="773.6" y="132.8" font-size="42.00" fill="#0000ff" text-anchor="start" textLength="222.6" lengthAdjust="spacingAndGlyphs">EUMETSAT</text>
<text x="449.1" y="220.4" font-size="37.50" fill="#000" text-anchor="start" textLength="112.8" lengthAdjust="spacingAndGlyphs">GOME</text>
<text x="575.3" y="220.4" font-size="37.50" fill="#000" text-anchor="start" textLength="79.0" lengthAdjust="spacingAndGlyphs">M03</text>
<text x="667.6" y="220.4" font-size="37.50" fill="#000" text-anchor="start" textLength="161.7" lengthAdjust="spacingAndGlyphs">O3MNAP</text>
<text x="449.4" y="271.2" font-size="33.60" fill="#000" text-anchor="start" textLength="131.2" lengthAdjust="spacingAndGlyphs">Sensing</text>
<text x="592.4" y="271.2" font-size="33.60" fill="#000" text-anchor="start" textLength="92.6" lengthAdjust="spacingAndGlyphs">Start:</text>
<text x="693.9" y="271.2" font-size="33.60" fill="#000" text-anchor="start" textLength="365.2" lengthAdjust="spacingAndGlyphs">2019-03-05T11:44:55</text>
<text x="1069.4" y="271.2" font-size="33.60" fill="#000" text-anchor="start" textLength="65.7" lengthAdjust="spacingAndGlyphs">UTC</text>
<text x="1580.3" y="109.0" font-size="21.00" fill="#000" text-anchor="start" textLength="38.7" lengthAdjust="spacingAndGlyphs">Plot</text>
<text x="1626.2" y="109.0" font-size="21.00" fill="#000" text-anchor="start" textLength="86.1" lengthAdjust="spacingAndGlyphs">created:</text>
<text x="1441.2" y="132.6" font-size="21.00" fill="#000" text-anchor="start" textLength="119.6" lengthAdjust="spacingAndGlyphs">2019-03-05</text>
<text x="1568.8" y="132.6" font-size="21.00" fill="#000" text-anchor="start" textLength="92.1" lengthAdjust="spacingAndGlyphs">18:37:05</text>
<text x="1668.3" y="132.6" font-size="21.00" fill="#000" text-anchor="start" textLength="42.0" lengthAdjust="spacingAndGlyphs">UTC</text>
<text x="1591.6" y="255.8" font-size="24.00" fill="#ff0000" text-anchor="start" textLength="46.5" lengthAdjust="spacingAndGlyphs">Plot</text>
<text x="1647.4" y="255.8" font-size="24.00" fill="#ff0000" text-anchor="start" textLength="64.9" lengthAdjust="spacingAndGlyphs">filter:</text>
<text x="1575.6" y="283.9" font-size="24.00" fill="#ff0000" text-anchor="start" textLength="135.9" lengthAdjust="spacingAndGlyphs">[AAI_Orbit]</text>
<text x="1509.5" y="312.7" font-size="24.00" fill="#ff0000" text-anchor="start" textLength="54.1" lengthAdjust="spacingAndGlyphs">Scat</text>
<text x="1571.9" y="312.7" font-size="24.00" fill="#ff0000" text-anchor="start" textLength="70.5" lengthAdjust="spacingAndGlyphs">Angle</text>
<text x="1652.5" y="312.7" font-size="24.00" fill="#ff0000" text-anchor="start" textLength="18.4" lengthAdjust="spacingAndGlyphs">&gt;</text>
<text x="1681.0" y="312.7" font-size="24.00" fill="#ff0000" text-anchor="start" textLength="29.6" lengthAdjust="spacingAndGlyphs">90</text>
<text x="1520.5" y="341.4" font-size="24.00" fill="#ff0000" text-anchor="start" textLength="102.1" lengthAdjust="spacingAndGlyphs">Sunglint</text>
<text x="1632.8" y="341.4" font-size="24.00" fill="#ff0000" text-anchor="start" textLength="77.7" lengthAdjust="spacingAndGlyphs">visible</text>
<text x="1016.2" y="338.8" font-size="42.30" fill="#000" text-anchor="start" textLength="70.3" lengthAdjust="spacingAndGlyphs">AAI</text>
<text x="1100.6" y="338.8" font-size="42.30" fill="#000" text-anchor="start" textLength="46.4" lengthAdjust="spacingAndGlyphs">[-]</text>
<rect x="1944" y="417.27" width="48" height="1145.45" fill="url(#jet)"/>
<path d="M1944 417.27 L1968 360.00 L1992 417.27 Z" fill="#ff00ff"/>
<path d="M1944 1562.73 L1968 1620.00 L1992 1562.73 Z" fill="#808080"/>
<line x1="1975.3" y1="417.27" x2="1992" y2="417.27" stroke="#000" stroke-width="2"/>
<line x1="1975.3" y1="493.64" x2="1992" y2="493.64" stroke="#000" stroke-width="2"/>
<line x1="1975.3" y1="570.00" x2="1992" y2="570.00" stroke="#000" stroke-width="2"/>
<line x1="1975.3" y1="646.36" x2="1992" y2="646.36" stroke="#000" stroke-width="2"/>
<line x1="1975.3" y1="722.73" x2="1992" y2="722.73" stroke="#000" stroke-width="2"/>
<line x1="1975.3" y1="799.09" x2="1992" y2="799.09" stroke="#000" stroke-width="2"/>
<line x1="1975.3" y1="875.45" x2="1992" y2="875.45" stroke="#000" stroke-width="2"/>
<line x1="1975.3" y1="951.82" x2="1992" y2="951.82" stroke="#000" stroke-width="2"/>
<line x1="1975.3" y1="1028.18" x2="1992" y2="1028.18" stroke="#000" stroke-width="2"/>
<line x1="1975.3" y1="1104.55" x2="1992" y2="1104.55" stroke="#000" stroke-width="2"/>
<line x1="1975.3" y1="1180.91" x2="1992" y2="1180.91" stroke="#000" stroke-width="2"/>
<line x1="1975.3" y1="1257.27" x2="1992" y2="1257.27" stroke="#000" stroke-width="2"/>
<line x1="1975.3" y1="1333.64" x2="1992" y2="1333.64" stroke="#000" stroke-width="2"/>
<line x1="1975.3" y1="1410.00" x2="1992" y2="1410.00" stroke="#000" stroke-width="2"/>
<line x1="1975.3" y1="1486.36" x2="1992" y2="1486.36" stroke="#000" stroke-width="2"/>
<line x1="1975.3" y1="1562.73" x2="1992" y2="1562.73" stroke="#000" stroke-width="2"/>
<path d="M1944 417.27 L1968 360.30 L1992 417.27 L1992 1562.73 L1968 1619.70 L1944 1562.73 Z" fill="none" stroke="#000" stroke-width="4" stroke-linejoin="round"/>
<text x="2006.8" y="433.5" font-size="50.50" fill="#000" text-anchor="start" textLength="76.6" lengthAdjust="spacingAndGlyphs">4.0</text>
<text x="2006.8" y="509.8" font-size="50.50" fill="#000" text-anchor="start" textLength="76.6" lengthAdjust="spacingAndGlyphs">3.5</text>
<text x="2006.8" y="586.2" font-size="50.50" fill="#000" text-anchor="start" textLength="76.6" lengthAdjust="spacingAndGlyphs">3.0</text>
<text x="2006.8" y="662.6" font-size="50.50" fill="#000" text-anchor="start" textLength="76.6" lengthAdjust="spacingAndGlyphs">2.5</text>
<text x="2006.8" y="738.9" font-size="50.50" fill="#000" text-anchor="start" textLength="76.6" lengthAdjust="spacingAndGlyphs">2.0</text>
<text x="2006.8" y="815.3" font-size="50.50" fill="#000" text-anchor="start" textLength="76.6" lengthAdjust="spacingAndGlyphs">1.5</text>
<text x="2006.8" y="891.7" font-size="50.50" fill="#000" text-anchor="start" textLength="76.6" lengthAdjust="spacingAndGlyphs">1.0</text>
<text x="2006.8" y="968.0" font-size="50.50" fill="#000" text-anchor="start" textLength="76.6" lengthAdjust="spacingAndGlyphs">0.5</text>
<text x="2006.8" y="1044.4" font-size="50.50" fill="#000" text-anchor="start" textLength="76.6" lengthAdjust="spacingAndGlyphs">0.0</text>
<text x="2004.7" y="1120.7" font-size="50.50" fill="#000" text-anchor="start" textLength="38.5" lengthAdjust="spacingAndGlyphs">−</text>
<text x="2045.7" y="1120.7" font-size="50.50" fill="#000" text-anchor="start" textLength="76.6" lengthAdjust="spacingAndGlyphs">0.5</text>
<text x="2004.7" y="1197.1" font-size="50.50" fill="#000" text-anchor="start" textLength="38.5" lengthAdjust="spacingAndGlyphs">−</text>
<text x="2045.7" y="1197.1" font-size="50.50" fill="#000" text-anchor="start" textLength="76.6" lengthAdjust="spacingAndGlyphs">1.0</text>
<text x="2004.7" y="1273.5" font-size="50.50" fill="#000" text-anchor="start" textLength="38.5" lengthAdjust="spacingAndGlyphs">−</text>
<text x="2045.7" y="1273.5" font-size="50.50" fill="#000" text-anchor="start" textLength="76.6" lengthAdjust="spacingAndGlyphs">1.5</text>
<text x="2004.7" y="1349.8" font-size="50.50" fill="#000" text-anchor="start" textLength="38.5" lengthAdjust="spacingAndGlyphs">−</text>
<text x="2045.7" y="1349.8" font-size="50.50" fill="#000" text-anchor="start" textLength="76.6" lengthAdjust="spacingAndGlyphs">2.0</text>
<text x="2004.7" y="1426.2" font-size="50.50" fill="#000" text-anchor="start" textLength="38.5" lengthAdjust="spacingAndGlyphs">−</text>
<text x="2045.7" y="1426.2" font-size="50.50" fill="#000" text-anchor="start" textLength="76.6" lengthAdjust="spacingAndGlyphs">2.5</text>
<text x="2004.7" y="1502.6" font-size="50.50" fill="#000" text-anchor="start" textLength="38.5" lengthAdjust="spacingAndGlyphs">−</text>
<text x="2045.7" y="1502.6" font-size="50.50" fill="#000" text-anchor="start" textLength="76.6" lengthAdjust="spacingAndGlyphs">3.0</text>
<text x="2004.7" y="1578.9" font-size="50.50" fill="#000" text-anchor="start" textLength="38.5" lengthAdjust="spacingAndGlyphs">−</text>
<text x="2045.7" y="1578.9" font-size="50.50" fill="#000" text-anchor="start" textLength="76.6" lengthAdjust="spacingAndGlyphs">3.5</text>
</svg></body></html>
